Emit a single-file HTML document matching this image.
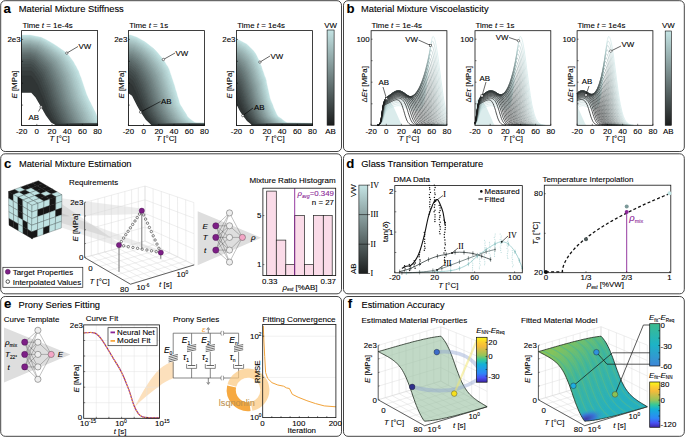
<!DOCTYPE html>
<html><head><meta charset="utf-8"><style>
html,body{margin:0;padding:0;background:#fff;}
svg{display:block;font-family:"Liberation Sans", sans-serif;}
</style></head><body>
<svg width="685" height="437" viewBox="0 0 685 437">
<rect width="685" height="437" fill="#fff"/>
<rect x="0.7" y="0.7" width="340.8" height="150.8" rx="4.5" ry="4.5" fill="none" stroke="#454545" stroke-width="1"/>
<rect x="343.5" y="0.7" width="340.8" height="150.8" rx="4.5" ry="4.5" fill="none" stroke="#454545" stroke-width="1"/>
<rect x="0.7" y="153.8" width="340.8" height="140" rx="4.5" ry="4.5" fill="none" stroke="#454545" stroke-width="1"/>
<rect x="343.5" y="153.8" width="340.8" height="140" rx="4.5" ry="4.5" fill="none" stroke="#454545" stroke-width="1"/>
<rect x="0.7" y="296.5" width="340.8" height="139.8" rx="4.5" ry="4.5" fill="none" stroke="#454545" stroke-width="1"/>
<rect x="343.5" y="296.5" width="340.8" height="139.8" rx="4.5" ry="4.5" fill="none" stroke="#454545" stroke-width="1"/>
<text x="3.6" y="12.7" font-size="13.2" font-weight="bold" stroke="#000" stroke-width="0.1">a</text>
<text x="18.8" y="11.8" font-size="9" textLength="105" lengthAdjust="spacingAndGlyphs" stroke="#000" stroke-width="0.1">Material Mixture Stiffness</text>
<defs><clipPath id="sc1"><rect x="21.6" y="30.6" width="76" height="94.8"/></clipPath></defs>
<g clip-path="url(#sc1)">
<path d="M19.6 35 L29.8 35 L41.1 37.3 L45.8 39.5 L49.8 41.8 L53.6 44 L57.1 46.3 L60.3 48.6 L63.6 50.8 L66.6 53.1 L68.6 55.3 L70.3 57.6 L72.1 59.9 L73.6 62.1 L74.8 64.4 L76.1 66.6 L77.3 68.9 L78.6 71.2 L79.3 73.4 L80.1 75.7 L81.1 77.9 L81.8 80.2 L82.6 82.5 L83.3 84.7 L84.1 87 L84.8 89.2 L85.6 91.5 L86.3 93.8 L87.3 96 L88.3 98.3 L89.3 100.5 L90.6 102.8 L91.6 105.1 L92.8 107.3 L93.8 109.6 L95.1 111.8 L96.1 114.1 L97.1 116.4 L98.1 118.6 L99.3 120.9 L100.3 123.1 L297.6 125.4 L19.6 126.4 Z" fill="#c4e4e4" stroke="#c4e4e4" stroke-width="0.3"/>
<path d="M19.6 35.9 L29.9 35.9 L40.7 38.1 L45.3 40.4 L49.2 42.6 L52.8 44.8 L56.2 47.1 L59.4 49.3 L62.5 51.6 L65.4 53.8 L67.3 56 L69 58.3 L70.7 60.5 L72.2 62.7 L73.4 65 L74.6 67.2 L75.8 69.5 L77.1 71.7 L77.8 73.9 L78.5 76.2 L79.5 78.4 L80.3 80.6 L81 82.9 L81.7 85.1 L82.5 87.4 L83.2 89.6 L84 91.8 L84.7 94.1 L85.7 96.3 L86.6 98.5 L87.6 100.8 L88.9 103 L89.8 105.3 L91.1 107.5 L92 109.7 L93.3 112 L94.3 114.2 L95.2 116.4 L96.2 118.7 L97.5 120.9 L98.5 123.2 L297.6 125.4 L19.6 126.4 Z" fill="#bedddd" stroke="#bedddd" stroke-width="0.3"/>
<path d="M19.6 36.8 L29.9 36.8 L40.4 39 L44.8 41.2 L48.5 43.4 L52 45.7 L55.3 47.9 L58.4 50.1 L61.4 52.3 L64.2 54.5 L66.1 56.7 L67.7 59 L69.4 61.2 L70.8 63.4 L72 65.6 L73.2 67.8 L74.3 70 L75.5 72.2 L76.3 74.5 L77 76.7 L78 78.9 L78.7 81.1 L79.4 83.3 L80.1 85.5 L80.9 87.7 L81.6 90 L82.3 92.2 L83 94.4 L84 96.6 L84.9 98.8 L85.9 101 L87.1 103.3 L88.1 105.5 L89.3 107.7 L90.2 109.9 L91.5 112.1 L92.4 114.3 L93.4 116.5 L94.4 118.8 L95.7 121 L96.7 123.2 L297.6 125.4 L19.6 126.4 Z" fill="#b8d5d5" stroke="#b8d5d5" stroke-width="0.3"/>
<path d="M19.6 37.7 L30 37.7 L40 39.9 L44.3 42.1 L47.9 44.3 L51.3 46.5 L54.4 48.7 L57.4 50.9 L60.3 53.1 L63 55.3 L64.8 57.5 L66.4 59.7 L68 61.8 L69.4 64 L70.5 66.2 L71.7 68.4 L72.8 70.6 L74 72.8 L74.7 75 L75.4 77.2 L76.4 79.4 L77.1 81.6 L77.8 83.8 L78.5 86 L79.2 88.1 L80 90.3 L80.7 92.5 L81.4 94.7 L82.3 96.9 L83.2 99.1 L84.2 101.3 L85.4 103.5 L86.3 105.7 L87.5 107.9 L88.4 110.1 L89.6 112.3 L90.6 114.4 L91.5 116.6 L92.5 118.8 L93.8 121 L94.9 123.2 L297.6 125.4 L19.6 126.4 Z" fill="#b1cece" stroke="#b1cece" stroke-width="0.3"/>
<path d="M19.6 38.7 L30 38.7 L39.6 40.9 L43.7 43 L47.2 45.2 L50.5 47.4 L53.5 49.5 L56.4 51.7 L59.2 53.9 L61.8 56 L63.6 58.2 L65.1 60.4 L66.6 62.5 L68 64.7 L69.1 66.9 L70.2 69 L71.3 71.2 L72.5 73.4 L73.2 75.6 L73.9 77.7 L74.8 79.9 L75.5 82.1 L76.2 84.2 L76.9 86.4 L77.6 88.6 L78.3 90.7 L79 92.9 L79.7 95.1 L80.6 97.2 L81.5 99.4 L82.5 101.6 L83.6 103.7 L84.6 105.9 L85.7 108.1 L86.6 110.2 L87.8 112.4 L88.7 114.6 L89.7 116.7 L90.7 118.9 L92 121.1 L93 123.2 L297.6 125.4 L19.6 126.4 Z" fill="#abc7c7" stroke="#abc7c7" stroke-width="0.3"/>
<path d="M19.6 39.7 L30.1 39.7 L39.2 41.8 L43.2 44 L46.5 46.1 L49.7 48.3 L52.6 50.4 L55.4 52.6 L58.1 54.7 L60.6 56.8 L62.3 59 L63.8 61.1 L65.2 63.3 L66.5 65.4 L67.6 67.6 L68.8 69.7 L69.8 71.8 L70.9 74 L71.6 76.1 L72.3 78.3 L73.2 80.4 L73.9 82.5 L74.6 84.7 L75.3 86.8 L76 89 L76.7 91.1 L77.4 93.3 L78 95.4 L78.9 97.5 L79.8 99.7 L80.8 101.8 L81.9 104 L82.8 106.1 L83.9 108.3 L84.8 110.4 L86 112.5 L86.9 114.7 L87.8 116.8 L88.8 119 L90.2 121.1 L91.2 123.3 L297.6 125.4 L19.6 126.4 Z" fill="#a5c0c0" stroke="#a5c0c0" stroke-width="0.3"/>
<path d="M19.6 40.7 L30.1 40.7 L38.9 42.8 L42.7 45 L45.9 47.1 L48.9 49.2 L51.8 51.3 L54.4 53.4 L57 55.5 L59.4 57.7 L61 59.8 L62.5 61.9 L63.9 64 L65.1 66.1 L66.2 68.2 L67.3 70.4 L68.3 72.5 L69.4 74.6 L70.1 76.7 L70.8 78.8 L71.7 80.9 L72.3 83.1 L73 85.2 L73.7 87.3 L74.4 89.4 L75.1 91.5 L75.8 93.6 L76.4 95.8 L77.3 97.9 L78.1 100 L79.1 102.1 L80.2 104.2 L81 106.3 L82.2 108.5 L83 110.6 L84.2 112.7 L85.1 114.8 L86 116.9 L87 119 L88.3 121.2 L89.4 123.3 L297.6 125.4 L19.6 126.4 Z" fill="#9fb8b8" stroke="#9fb8b8" stroke-width="0.3"/>
<path d="M19.6 41.8 L30.2 41.8 L38.5 43.9 L42.1 46 L45.2 48.1 L48.1 50.1 L50.9 52.2 L53.4 54.3 L55.9 56.4 L58.2 58.5 L59.8 60.6 L61.2 62.7 L62.5 64.8 L63.7 66.9 L64.8 69 L65.8 71 L66.8 73.1 L67.9 75.2 L68.6 77.3 L69.2 79.4 L70.1 81.5 L70.7 83.6 L71.4 85.7 L72.1 87.8 L72.8 89.9 L73.4 92 L74.1 94 L74.7 96.1 L75.6 98.2 L76.4 100.3 L77.4 102.4 L78.4 104.5 L79.3 106.6 L80.4 108.7 L81.2 110.8 L82.4 112.9 L83.2 114.9 L84.1 117 L85.1 119.1 L86.5 121.2 L87.5 123.3 L297.6 125.4 L19.6 126.4 Z" fill="#99b1b1" stroke="#99b1b1" stroke-width="0.3"/>
<path d="M19.6 42.9 L30.2 42.9 L38.1 44.9 L41.6 47 L44.6 49.1 L47.4 51.1 L50 53.2 L52.4 55.3 L54.8 57.3 L57 59.4 L58.5 61.4 L59.9 63.5 L61.1 65.6 L62.3 67.6 L63.3 69.7 L64.3 71.8 L65.3 73.8 L66.4 75.9 L67 78 L67.7 80 L68.5 82.1 L69.1 84.1 L69.8 86.2 L70.5 88.3 L71.1 90.3 L71.8 92.4 L72.5 94.5 L73.1 96.5 L73.9 98.6 L74.8 100.6 L75.7 102.7 L76.7 104.8 L77.5 106.8 L78.6 108.9 L79.4 111 L80.5 113 L81.4 115.1 L82.3 117.1 L83.3 119.2 L84.6 121.3 L85.7 123.3 L297.6 125.4 L19.6 126.4 Z" fill="#93aaaa" stroke="#93aaaa" stroke-width="0.3"/>
<path d="M19.6 44 L30.3 44 L37.8 46.1 L41.1 48.1 L43.9 50.1 L46.6 52.2 L49.1 54.2 L51.4 56.2 L53.7 58.3 L55.8 60.3 L57.3 62.3 L58.6 64.4 L59.8 66.4 L60.9 68.4 L61.9 70.5 L62.9 72.5 L63.8 74.5 L64.8 76.6 L65.5 78.6 L66.1 80.6 L67 82.7 L67.5 84.7 L68.2 86.7 L68.9 88.8 L69.5 90.8 L70.2 92.8 L70.8 94.9 L71.4 96.9 L72.2 99 L73 101 L74 103 L74.9 105.1 L75.8 107.1 L76.8 109.1 L77.6 111.2 L78.7 113.2 L79.5 115.2 L80.4 117.3 L81.4 119.3 L82.8 121.3 L83.9 123.4 L297.6 125.4 L19.6 126.4 Z" fill="#8ca2a2" stroke="#8ca2a2" stroke-width="0.3"/>
<path d="M19.6 45.2 L30.3 45.2 L37.4 47.2 L40.5 49.2 L43.2 51.2 L45.8 53.2 L48.2 55.2 L50.4 57.2 L52.6 59.2 L54.6 61.2 L56 63.2 L57.2 65.2 L58.4 67.3 L59.5 69.3 L60.4 71.3 L61.4 73.3 L62.3 75.3 L63.3 77.3 L63.9 79.3 L64.6 81.3 L65.4 83.3 L65.9 85.3 L66.6 87.3 L67.2 89.3 L67.9 91.3 L68.5 93.3 L69.2 95.3 L69.8 97.3 L70.5 99.3 L71.3 101.3 L72.2 103.3 L73.2 105.3 L74 107.4 L75 109.4 L75.8 111.4 L76.9 113.4 L77.7 115.4 L78.6 117.4 L79.6 119.4 L80.9 121.4 L82 123.4 L297.6 125.4 L19.6 126.4 Z" fill="#869b9b" stroke="#869b9b" stroke-width="0.3"/>
<path d="M19.6 46.4 L30.4 46.4 L37 48.4 L40 50.4 L42.6 52.4 L45 54.3 L47.3 56.3 L49.5 58.3 L51.5 60.2 L53.4 62.2 L54.7 64.2 L55.9 66.2 L57 68.1 L58.1 70.1 L59 72.1 L59.9 74.1 L60.8 76 L61.8 78 L62.4 80 L63 82 L63.8 83.9 L64.4 85.9 L65 87.9 L65.6 89.9 L66.3 91.8 L66.9 93.8 L67.6 95.8 L68.1 97.8 L68.9 99.7 L69.6 101.7 L70.5 103.7 L71.5 105.7 L72.2 107.6 L73.3 109.6 L74 111.6 L75.1 113.6 L75.9 115.5 L76.8 117.5 L77.8 119.5 L79.1 121.5 L80.2 123.4 L297.6 125.4 L19.6 126.4 Z" fill="#809494" stroke="#809494" stroke-width="0.3"/>
<path d="M19.6 47.7 L30.4 47.7 L36.7 49.7 L39.5 51.6 L41.9 53.5 L44.2 55.5 L46.4 57.4 L48.5 59.4 L50.4 61.3 L52.2 63.3 L53.5 65.2 L54.6 67.1 L55.7 69.1 L56.7 71 L57.6 73 L58.5 74.9 L59.3 76.8 L60.2 78.8 L60.9 80.7 L61.5 82.7 L62.3 84.6 L62.8 86.6 L63.4 88.5 L64 90.4 L64.7 92.4 L65.3 94.3 L65.9 96.3 L66.4 98.2 L67.2 100.2 L67.9 102.1 L68.8 104 L69.7 106 L70.5 107.9 L71.5 109.9 L72.2 111.8 L73.3 113.7 L74 115.7 L74.9 117.6 L75.9 119.6 L77.3 121.5 L78.4 123.5 L297.6 125.4 L19.6 126.4 Z" fill="#7a8d8d" stroke="#7a8d8d" stroke-width="0.3"/>
<path d="M19.6 49.1 L30.5 49.1 L36.3 51 L39 52.9 L41.3 54.8 L43.5 56.7 L45.5 58.6 L47.5 60.5 L49.3 62.4 L51 64.3 L52.2 66.2 L53.3 68.2 L54.3 70.1 L55.3 72 L56.1 73.9 L57 75.8 L57.8 77.7 L58.7 79.6 L59.3 81.5 L59.9 83.4 L60.7 85.3 L61.2 87.2 L61.8 89.1 L62.4 91.1 L63 93 L63.7 94.9 L64.3 96.8 L64.8 98.7 L65.5 100.6 L66.2 102.5 L67.1 104.4 L68 106.3 L68.7 108.2 L69.7 110.1 L70.4 112 L71.4 114 L72.2 115.9 L73 117.8 L74 119.7 L75.4 121.6 L76.6 123.5 L297.6 125.4 L19.6 126.4 Z" fill="#748585" stroke="#748585" stroke-width="0.3"/>
<path d="M19.6 50.5 L30.5 50.5 L35.9 52.4 L38.4 54.2 L40.6 56.1 L42.7 58 L44.6 59.9 L46.5 61.7 L48.2 63.6 L49.8 65.5 L51 67.3 L52 69.2 L52.9 71.1 L53.9 73 L54.7 74.8 L55.5 76.7 L56.3 78.6 L57.2 80.5 L57.8 82.3 L58.4 84.2 L59.1 86.1 L59.6 87.9 L60.2 89.8 L60.8 91.7 L61.4 93.6 L62 95.4 L62.6 97.3 L63.1 99.2 L63.8 101.1 L64.5 102.9 L65.4 104.8 L66.2 106.7 L67 108.5 L67.9 110.4 L68.6 112.3 L69.6 114.2 L70.3 116 L71.2 117.9 L72.2 119.8 L73.6 121.7 L74.7 123.5 L297.6 125.4 L19.6 126.4 Z" fill="#6d7e7e" stroke="#6d7e7e" stroke-width="0.3"/>
<path d="M19.6 52 L30.6 52 L35.5 53.8 L37.9 55.7 L39.9 57.5 L41.9 59.3 L43.7 61.2 L45.5 63 L47.1 64.8 L48.6 66.7 L49.7 68.5 L50.7 70.3 L51.5 72.2 L52.4 74 L53.2 75.9 L54 77.7 L54.8 79.5 L55.6 81.4 L56.2 83.2 L56.8 85 L57.5 86.9 L58 88.7 L58.6 90.5 L59.2 92.4 L59.8 94.2 L60.4 96 L61 97.9 L61.4 99.7 L62.1 101.5 L62.8 103.4 L63.7 105.2 L64.5 107 L65.2 108.9 L66.1 110.7 L66.8 112.6 L67.8 114.4 L68.5 116.2 L69.3 118.1 L70.3 119.9 L71.8 121.7 L72.9 123.6 L297.6 125.4 L19.6 126.4 Z" fill="#677777" stroke="#677777" stroke-width="0.3"/>
<path d="M19.6 53.6 L30.6 53.6 L35.2 55.4 L37.4 57.2 L39.3 59 L41.1 60.8 L42.9 62.6 L44.5 64.4 L46 66.2 L47.4 68 L48.4 69.8 L49.4 71.5 L50.2 73.3 L51 75.1 L51.8 76.9 L52.6 78.7 L53.3 80.5 L54.1 82.3 L54.7 84.1 L55.3 85.9 L56 87.7 L56.4 89.5 L57 91.3 L57.6 93.1 L58.2 94.9 L58.8 96.7 L59.4 98.5 L59.8 100.3 L60.5 102.1 L61.1 103.9 L62 105.7 L62.8 107.4 L63.4 109.2 L64.4 111 L65 112.8 L66 114.6 L66.7 116.4 L67.5 118.2 L68.5 120 L69.9 121.8 L71.1 123.6 L297.6 125.4 L19.6 126.4 Z" fill="#616f6f" stroke="#616f6f" stroke-width="0.3"/>
<path d="M19.6 55.3 L30.7 55.3 L34.8 57.1 L36.8 58.8 L38.6 60.6 L40.3 62.3 L42 64.1 L43.5 65.8 L44.9 67.6 L46.2 69.3 L47.2 71.1 L48.1 72.8 L48.8 74.6 L49.6 76.3 L50.4 78.1 L51.1 79.8 L51.8 81.6 L52.6 83.3 L53.2 85.1 L53.7 86.9 L54.4 88.6 L54.8 90.4 L55.4 92.1 L56 93.9 L56.6 95.6 L57.1 97.4 L57.7 99.1 L58.1 100.9 L58.8 102.6 L59.4 104.4 L60.3 106.1 L61 107.9 L61.7 109.6 L62.6 111.4 L63.2 113.1 L64.2 114.9 L64.8 116.6 L65.6 118.4 L66.6 120.1 L68.1 121.9 L69.2 123.6 L297.6 125.4 L19.6 126.4 Z" fill="#5b6868" stroke="#5b6868" stroke-width="0.3"/>
<path d="M19.6 57.2 L30.7 57.2 L34.4 58.9 L36.3 60.6 L38 62.3 L39.6 64 L41.1 65.7 L42.5 67.4 L43.8 69.1 L45 70.8 L45.9 72.5 L46.8 74.2 L47.4 75.9 L48.2 77.6 L48.9 79.3 L49.6 81 L50.3 82.8 L51.1 84.5 L51.6 86.2 L52.2 87.9 L52.8 89.6 L53.2 91.3 L53.8 93 L54.4 94.7 L54.9 96.4 L55.5 98.1 L56.1 99.8 L56.5 101.5 L57.1 103.2 L57.7 104.9 L58.6 106.6 L59.3 108.3 L59.9 110 L60.8 111.8 L61.4 113.5 L62.3 115.2 L63 116.9 L63.8 118.6 L64.8 120.3 L66.2 122 L67.4 123.7 L297.6 125.4 L19.6 126.4 Z" fill="#556161" stroke="#556161" stroke-width="0.3"/>
<path d="M19.6 59.2 L30.8 59.2 L34.1 60.8 L35.8 62.5 L37.3 64.2 L38.8 65.8 L40.2 67.5 L41.5 69.1 L42.7 70.8 L43.8 72.4 L44.7 74.1 L45.5 75.7 L46.1 77.4 L46.8 79.1 L47.5 80.7 L48.2 82.4 L48.8 84 L49.5 85.7 L50.1 87.3 L50.6 89 L51.3 90.6 L51.6 92.3 L52.2 94 L52.8 95.6 L53.3 97.3 L53.9 98.9 L54.4 100.6 L54.8 102.2 L55.4 103.9 L56 105.5 L56.9 107.2 L57.5 108.8 L58.2 110.5 L59 112.2 L59.6 113.8 L60.5 115.5 L61.1 117.1 L61.9 118.8 L62.9 120.4 L64.4 122.1 L65.6 123.7 L297.6 125.4 L19.6 126.4 Z" fill="#4f5a5a" stroke="#4f5a5a" stroke-width="0.3"/>
<path d="M19.6 61.4 L30.8 61.4 L33.7 63 L35.2 64.6 L36.6 66.2 L38 67.8 L39.3 69.4 L40.5 71 L41.6 72.6 L42.6 74.2 L43.4 75.8 L44.1 77.4 L44.7 79 L45.4 80.6 L46 82.2 L46.7 83.8 L47.3 85.4 L48 87 L48.5 88.6 L49.1 90.2 L49.7 91.8 L50 93.4 L50.6 95 L51.1 96.6 L51.7 98.2 L52.2 99.8 L52.8 101.4 L53.1 103 L53.7 104.6 L54.3 106.2 L55.1 107.8 L55.8 109.4 L56.4 111 L57.2 112.6 L57.8 114.2 L58.7 115.8 L59.3 117.4 L60.1 119 L61.1 120.6 L62.5 122.2 L63.7 123.8 L297.6 125.4 L19.6 126.4 Z" fill="#485252" stroke="#485252" stroke-width="0.3"/>
<path d="M19.6 64 L30.9 64 L33.3 65.5 L34.7 67.1 L36 68.6 L37.2 70.1 L38.4 71.7 L39.6 73.2 L40.5 74.7 L41.4 76.3 L42.1 77.8 L42.8 79.3 L43.3 80.9 L44 82.4 L44.6 84 L45.2 85.5 L45.8 87 L46.5 88.6 L47 90.1 L47.5 91.6 L48.1 93.2 L48.5 94.7 L49 96.2 L49.5 97.8 L50.1 99.3 L50.6 100.8 L51.2 102.4 L51.5 103.9 L52.1 105.4 L52.6 107 L53.4 108.5 L54.1 110 L54.6 111.6 L55.5 113.1 L56 114.7 L56.9 116.2 L57.5 117.7 L58.2 119.3 L59.2 120.8 L60.7 122.3 L61.9 123.9 L297.6 125.4 L19.6 126.4 Z" fill="#424b4b" stroke="#424b4b" stroke-width="0.3"/>
<path d="M19.6 67 L30.9 67 L33 68.4 L34.2 69.9 L35.3 71.4 L36.4 72.8 L37.5 74.3 L38.6 75.7 L39.4 77.2 L40.2 78.7 L40.9 80.1 L41.5 81.6 L42 83 L42.6 84.5 L43.2 86 L43.8 87.4 L44.3 88.9 L44.9 90.3 L45.5 91.8 L46 93.3 L46.6 94.7 L46.9 96.2 L47.4 97.6 L47.9 99.1 L48.5 100.6 L49 102 L49.5 103.5 L49.8 105 L50.4 106.4 L50.9 107.9 L51.7 109.3 L52.3 110.8 L52.9 112.3 L53.7 113.7 L54.2 115.2 L55.1 116.6 L55.6 118.1 L56.4 119.6 L57.4 121 L58.9 122.5 L60.1 123.9 L297.6 125.4 L19.6 126.4 Z" fill="#3c4444" stroke="#3c4444" stroke-width="0.3"/>
<path d="M19.6 70.7 L31 70.7 L32.6 72 L33.7 73.4 L34.7 74.8 L35.7 76.1 L36.6 77.5 L37.6 78.9 L38.3 80.2 L39 81.6 L39.6 83 L40.2 84.3 L40.6 85.7 L41.2 87.1 L41.7 88.5 L42.3 89.8 L42.8 91.2 L43.4 92.6 L43.9 93.9 L44.4 95.3 L45 96.7 L45.3 98 L45.8 99.4 L46.3 100.8 L46.8 102.1 L47.4 103.5 L47.9 104.9 L48.2 106.2 L48.7 107.6 L49.2 109 L50 110.3 L50.6 111.7 L51.1 113.1 L51.9 114.5 L52.4 115.8 L53.2 117.2 L53.8 118.6 L54.5 119.9 L55.5 121.3 L57 122.7 L58.3 124 L297.6 125.4 L19.6 126.4 Z" fill="#363c3c" stroke="#363c3c" stroke-width="0.3"/>
<path d="M19.6 75.8 L31 75.8 L32.2 77 L33.1 78.3 L34 79.5 L34.9 80.8 L35.7 82 L36.6 83.2 L37.2 84.5 L37.8 85.7 L38.4 87 L38.9 88.2 L39.2 89.4 L39.8 90.7 L40.3 91.9 L40.8 93.2 L41.3 94.4 L41.9 95.6 L42.4 96.9 L42.9 98.1 L43.4 99.4 L43.7 100.6 L44.2 101.8 L44.7 103.1 L45.2 104.3 L45.7 105.6 L46.2 106.8 L46.5 108 L47 109.3 L47.5 110.5 L48.3 111.8 L48.8 113 L49.4 114.2 L50.1 115.5 L50.6 116.7 L51.4 118 L51.9 119.2 L52.7 120.4 L53.7 121.7 L55.2 122.9 L56.4 124.2 L297.6 125.4 L19.6 126.4 Z" fill="#303535" stroke="#303535" stroke-width="0.3"/>
<path d="M19.6 92.8 L31.1 92.8 L31.8 93.6 L32.6 94.4 L33.3 95.2 L34.1 96.1 L34.8 96.9 L35.6 97.7 L36.1 98.5 L36.6 99.3 L37.1 100.1 L37.6 101 L37.8 101.8 L38.3 102.6 L38.8 103.4 L39.3 104.2 L39.8 105 L40.3 105.8 L40.8 106.7 L41.3 107.5 L41.8 108.3 L42.1 109.1 L42.6 109.9 L43.1 110.7 L43.6 111.5 L44.1 112.4 L44.6 113.2 L44.8 114 L45.3 114.8 L45.8 115.6 L46.6 116.4 L47.1 117.2 L47.6 118.1 L48.3 118.9 L48.8 119.7 L49.6 120.5 L50.1 121.3 L50.8 122.1 L51.8 123 L53.3 123.8 L54.6 124.6 L297.6 125.4 L19.6 126.4 Z" fill="#292e2e" stroke="#292e2e" stroke-width="0.3"/>
<path d="M19.6 92.8 L21.6 92.8 L31.3 92.8 L35.6 97.5 L41.1 106.9 L45.9 115.5 L51.1 122.4 L56.2 125.4 L102.6 126.4 L19.6 126.4 Z" fill="#fff"/>
</g>
<text x="22.4" y="27.7" font-size="7.9" stroke="#000" stroke-width="0.1">Time <tspan font-style="italic">t</tspan> = 1e-4s</text>
<line x1="21.6" y1="125.4" x2="21.6" y2="123.9" stroke="#000" stroke-width="0.5"/>
<text x="21.6" y="134" font-size="7.9" text-anchor="middle" stroke="#000" stroke-width="0.1">-20</text>
<line x1="36.8" y1="125.4" x2="36.8" y2="123.9" stroke="#000" stroke-width="0.5"/>
<text x="36.8" y="134" font-size="7.9" text-anchor="middle" stroke="#000" stroke-width="0.1">0</text>
<line x1="52" y1="125.4" x2="52" y2="123.9" stroke="#000" stroke-width="0.5"/>
<text x="52" y="134" font-size="7.9" text-anchor="middle" stroke="#000" stroke-width="0.1">20</text>
<line x1="67.2" y1="125.4" x2="67.2" y2="123.9" stroke="#000" stroke-width="0.5"/>
<text x="67.2" y="134" font-size="7.9" text-anchor="middle" stroke="#000" stroke-width="0.1">40</text>
<line x1="82.4" y1="125.4" x2="82.4" y2="123.9" stroke="#000" stroke-width="0.5"/>
<text x="82.4" y="134" font-size="7.9" text-anchor="middle" stroke="#000" stroke-width="0.1">60</text>
<line x1="97.6" y1="125.4" x2="97.6" y2="123.9" stroke="#000" stroke-width="0.5"/>
<text x="97.6" y="134" font-size="7.9" text-anchor="middle" stroke="#000" stroke-width="0.1">80</text>
<line x1="21.6" y1="39.4" x2="23.1" y2="39.4" stroke="#000" stroke-width="0.5"/>
<line x1="21.6" y1="61.3" x2="23.1" y2="61.3" stroke="#000" stroke-width="0.5"/>
<line x1="21.6" y1="83.2" x2="23.1" y2="83.2" stroke="#000" stroke-width="0.5"/>
<line x1="21.6" y1="105.1" x2="23.1" y2="105.1" stroke="#000" stroke-width="0.5"/>
<text x="20.6" y="42" font-size="7.9" text-anchor="end" stroke="#000" stroke-width="0.1">2e3</text>
<text x="17.4" y="84.5" font-size="7.9" text-anchor="middle" transform="rotate(-90 17.4 84.5)" stroke="#000" stroke-width="0.1"><tspan font-style="italic">E</tspan> [MPa]</text>
<text x="59.6" y="141.3" font-size="7.9" text-anchor="middle" stroke="#000" stroke-width="0.1"><tspan font-style="italic">T</tspan> [°C]</text>
<rect x="21.6" y="30.6" width="76" height="94.8" fill="none" stroke="#111" stroke-width="0.8"/>
<line x1="66.8" y1="53.1" x2="78" y2="46.5" stroke="#000" stroke-width="0.6"/>
<circle cx="66.8" cy="53.1" r="1.2" fill="#fff" stroke="#111" stroke-width="0.5"/>
<text x="78.5" y="49" font-size="7.9" stroke="#000" stroke-width="0.1">VW</text>
<line x1="41.1" y1="106.9" x2="38.5" y2="111.5" stroke="#000" stroke-width="0.6"/>
<circle cx="41.1" cy="106.9" r="1.2" fill="#fff" stroke="#111" stroke-width="0.5"/>
<text x="28.5" y="119.5" font-size="7.9" stroke="#000" stroke-width="0.1">AB</text>
<defs><clipPath id="sc2"><rect x="128.4" y="30.6" width="76" height="94.8"/></clipPath></defs>
<g clip-path="url(#sc2)">
<path d="M126.4 35 L130.4 35 L136.9 37.3 L140.9 39.5 L144.9 41.8 L147.9 44 L150.7 46.3 L153.7 48.6 L155.9 50.8 L157.9 53.1 L159.7 55.3 L161.7 57.6 L163.4 59.9 L164.9 62.1 L166.2 64.4 L167.7 66.6 L168.9 68.9 L169.7 71.2 L170.4 73.4 L171.2 75.7 L171.9 77.9 L172.7 80.2 L173.4 82.5 L174.2 84.7 L174.9 87 L175.4 89.2 L176.2 91.5 L176.9 93.8 L177.4 96 L178.2 98.3 L178.9 100.5 L179.4 102.8 L180.4 105.1 L181.9 107.3 L183.2 109.6 L184.7 111.8 L186.2 114.1 L187.4 116.4 L189.4 118.6 L192.7 120.9 L195.9 123.1 L404.4 125.4 L126.4 126.4 Z" fill="#c4e4e4" stroke="#c4e4e4" stroke-width="0.3"/>
<path d="M126.4 36.2 L129.9 36.2 L136.6 38.4 L140.5 40.6 L144.3 42.9 L147.3 45.1 L149.9 47.3 L152.8 49.6 L155 51.8 L156.9 54 L158.6 56.2 L160.6 58.5 L162.3 60.7 L163.7 62.9 L164.9 65.2 L166.4 67.4 L167.6 69.6 L168.3 71.9 L169.1 74.1 L169.8 76.3 L170.6 78.6 L171.3 80.8 L172 83 L172.8 85.2 L173.5 87.5 L174 89.7 L174.8 91.9 L175.5 94.2 L176 96.4 L176.7 98.6 L177.5 100.9 L178 103.1 L179 105.3 L180.4 107.6 L181.7 109.8 L183.1 112 L184.6 114.2 L185.8 116.5 L187.8 118.7 L190.9 120.9 L194.1 123.2 L404.4 125.4 L126.4 126.4 Z" fill="#bedddd" stroke="#bedddd" stroke-width="0.3"/>
<path d="M126.4 37.4 L129.4 37.4 L136.3 39.6 L140 41.8 L143.8 44 L146.6 46.2 L149.2 48.4 L152 50.6 L154.1 52.8 L156 55 L157.6 57.2 L159.5 59.4 L161.1 61.6 L162.5 63.8 L163.7 66 L165.1 68.2 L166.3 70.4 L167 72.6 L167.8 74.8 L168.5 77 L169.2 79.2 L170 81.4 L170.7 83.6 L171.4 85.8 L172.1 88 L172.6 90.2 L173.4 92.4 L174.1 94.6 L174.6 96.8 L175.3 99 L176.1 101.2 L176.6 103.4 L177.5 105.6 L179 107.8 L180.2 110 L181.6 112.2 L183.1 114.4 L184.3 116.6 L186.2 118.8 L189.2 121 L192.3 123.2 L404.4 125.4 L126.4 126.4 Z" fill="#b8d5d5" stroke="#b8d5d5" stroke-width="0.3"/>
<path d="M126.4 38.6 L128.9 38.6 L135.9 40.7 L139.6 42.9 L143.2 45.1 L146 47.3 L148.5 49.4 L151.2 51.6 L153.2 53.8 L155 55.9 L156.6 58.1 L158.4 60.3 L160 62.5 L161.4 64.6 L162.5 66.8 L163.9 69 L165 71.1 L165.7 73.3 L166.4 75.5 L167.2 77.6 L167.9 79.8 L168.6 82 L169.3 84.2 L170 86.3 L170.7 88.5 L171.2 90.7 L172 92.8 L172.7 95 L173.2 97.2 L173.9 99.4 L174.6 101.5 L175.1 103.7 L176.1 105.9 L177.5 108 L178.7 110.2 L180.1 112.4 L181.5 114.5 L182.7 116.7 L184.6 118.9 L187.5 121.1 L190.5 123.2 L404.4 125.4 L126.4 126.4 Z" fill="#b1cece" stroke="#b1cece" stroke-width="0.3"/>
<path d="M126.4 39.8 L128.4 39.8 L135.6 42 L139.1 44.1 L142.7 46.2 L145.3 48.4 L147.7 50.5 L150.3 52.7 L152.3 54.8 L154 56.9 L155.6 59.1 L157.3 61.2 L158.8 63.4 L160.2 65.5 L161.3 67.6 L162.6 69.8 L163.7 71.9 L164.4 74.1 L165.1 76.2 L165.8 78.3 L166.5 80.5 L167.2 82.6 L167.9 84.8 L168.6 86.9 L169.3 89 L169.8 91.2 L170.6 93.3 L171.3 95.4 L171.8 97.6 L172.5 99.7 L173.2 101.9 L173.7 104 L174.6 106.1 L176 108.3 L177.2 110.4 L178.5 112.6 L179.9 114.7 L181.1 116.8 L183 119 L185.8 121.1 L188.7 123.3 L404.4 125.4 L126.4 126.4 Z" fill="#abc7c7" stroke="#abc7c7" stroke-width="0.3"/>
<path d="M126.4 41.1 L127.9 41.1 L135.3 43.2 L138.7 45.3 L142.2 47.4 L144.7 49.5 L147 51.6 L149.5 53.7 L151.3 55.9 L153.1 58 L154.6 60.1 L156.2 62.2 L157.7 64.3 L159 66.4 L160.1 68.5 L161.4 70.6 L162.5 72.7 L163.1 74.8 L163.8 76.9 L164.5 79 L165.2 81.1 L165.9 83.3 L166.6 85.4 L167.2 87.5 L168 89.6 L168.5 91.7 L169.2 93.8 L169.9 95.9 L170.4 98 L171.1 100.1 L171.8 102.2 L172.3 104.3 L173.2 106.4 L174.6 108.5 L175.7 110.6 L177 112.8 L178.4 114.9 L179.6 117 L181.4 119.1 L184.1 121.2 L186.9 123.3 L404.4 125.4 L126.4 126.4 Z" fill="#a5c0c0" stroke="#a5c0c0" stroke-width="0.3"/>
<path d="M126.4 42.4 L127.4 42.4 L135 44.5 L138.3 46.6 L141.6 48.6 L144.1 50.7 L146.3 52.8 L148.7 54.9 L150.4 56.9 L152.1 59 L153.5 61.1 L155.1 63.2 L156.6 65.2 L157.8 67.3 L158.8 69.4 L160.1 71.5 L161.2 73.5 L161.8 75.6 L162.5 77.7 L163.2 79.8 L163.9 81.8 L164.6 83.9 L165.2 86 L165.9 88.1 L166.6 90.1 L167.1 92.2 L167.8 94.3 L168.4 96.4 L169 98.4 L169.7 100.5 L170.4 102.6 L170.9 104.7 L171.8 106.7 L173.1 108.8 L174.2 110.9 L175.5 113 L176.8 115 L178 117.1 L179.7 119.2 L182.4 121.3 L185.1 123.3 L404.4 125.4 L126.4 126.4 Z" fill="#9fb8b8" stroke="#9fb8b8" stroke-width="0.3"/>
<path d="M126.4 43.8 L126.9 43.8 L134.7 45.8 L137.8 47.8 L141.1 49.9 L143.4 51.9 L145.5 54 L147.8 56 L149.5 58 L151.1 60.1 L152.5 62.1 L154 64.2 L155.4 66.2 L156.6 68.2 L157.6 70.3 L158.8 72.3 L159.9 74.4 L160.5 76.4 L161.2 78.5 L161.8 80.5 L162.5 82.5 L163.2 84.6 L163.8 86.6 L164.5 88.7 L165.2 90.7 L165.7 92.7 L166.3 94.8 L167 96.8 L167.6 98.9 L168.3 100.9 L169 102.9 L169.5 105 L170.3 107 L171.6 109.1 L172.7 111.1 L173.9 113.2 L175.3 115.2 L176.4 117.2 L178.1 119.3 L180.7 121.3 L183.3 123.4 L404.4 125.4 L126.4 126.4 Z" fill="#99b1b1" stroke="#99b1b1" stroke-width="0.3"/>
<path d="M126.4 45.1 L126.4 45.1 L134.3 47.1 L137.4 49.2 L140.5 51.2 L142.8 53.2 L144.8 55.2 L147 57.2 L148.6 59.2 L150.1 61.2 L151.5 63.2 L152.9 65.2 L154.3 67.2 L155.5 69.2 L156.4 71.2 L157.6 73.2 L158.6 75.2 L159.2 77.2 L159.8 79.2 L160.5 81.3 L161.2 83.3 L161.9 85.3 L162.4 87.3 L163.1 89.3 L163.8 91.3 L164.3 93.3 L165 95.3 L165.6 97.3 L166.2 99.3 L166.9 101.3 L167.5 103.3 L168 105.3 L168.9 107.3 L170.1 109.3 L171.2 111.4 L172.4 113.4 L173.8 115.4 L174.8 117.4 L176.5 119.4 L179 121.4 L181.5 123.4 L404.4 125.4 L126.4 126.4 Z" fill="#93aaaa" stroke="#93aaaa" stroke-width="0.3"/>
<path d="M126.4 46.6 L125.9 46.6 L134 48.5 L136.9 50.5 L140 52.5 L142.1 54.4 L144.1 56.4 L146.2 58.4 L147.7 60.4 L149.2 62.3 L150.5 64.3 L151.8 66.3 L153.1 68.2 L154.3 70.2 L155.2 72.2 L156.3 74.2 L157.3 76.1 L157.9 78.1 L158.5 80.1 L159.2 82 L159.8 84 L160.5 86 L161.1 88 L161.7 89.9 L162.4 91.9 L162.9 93.9 L163.6 95.8 L164.2 97.8 L164.8 99.8 L165.5 101.7 L166.1 103.7 L166.6 105.7 L167.4 107.7 L168.7 109.6 L169.7 111.6 L170.9 113.6 L172.2 115.5 L173.3 117.5 L174.9 119.5 L177.3 121.5 L179.7 123.4 L404.4 125.4 L126.4 126.4 Z" fill="#8ca2a2" stroke="#8ca2a2" stroke-width="0.3"/>
<path d="M126.4 48 L125.4 48 L133.7 50 L136.5 51.9 L139.4 53.8 L141.5 55.8 L143.3 57.7 L145.3 59.6 L146.8 61.6 L148.2 63.5 L149.5 65.4 L150.8 67.4 L152 69.3 L153.1 71.2 L154 73.2 L155.1 75.1 L156 77 L156.6 79 L157.2 80.9 L157.8 82.8 L158.5 84.8 L159.2 86.7 L159.7 88.6 L160.3 90.6 L161 92.5 L161.5 94.5 L162.2 96.4 L162.8 98.3 L163.4 100.3 L164.1 102.2 L164.7 104.1 L165.2 106.1 L166 108 L167.2 109.9 L168.2 111.9 L169.3 113.8 L170.7 115.7 L171.7 117.7 L173.3 119.6 L175.6 121.5 L177.9 123.5 L404.4 125.4 L126.4 126.4 Z" fill="#869b9b" stroke="#869b9b" stroke-width="0.3"/>
<path d="M126.4 49.5 L124.9 49.5 L133.4 51.4 L136.1 53.3 L138.8 55.2 L140.9 57.1 L142.6 59 L144.5 60.9 L145.9 62.8 L147.2 64.7 L148.4 66.6 L149.7 68.5 L150.9 70.4 L151.9 72.3 L152.7 74.2 L153.8 76.1 L154.7 78 L155.2 79.9 L155.9 81.8 L156.5 83.7 L157.2 85.6 L157.8 87.5 L158.3 89.4 L159 91.3 L159.6 93.2 L160.1 95.1 L160.8 97 L161.4 98.9 L162 100.7 L162.6 102.6 L163.3 104.5 L163.8 106.4 L164.6 108.3 L165.7 110.2 L166.7 112.1 L167.8 114 L169.1 115.9 L170.1 117.8 L171.7 119.7 L173.8 121.6 L176.1 123.5 L404.4 125.4 L126.4 126.4 Z" fill="#809494" stroke="#809494" stroke-width="0.3"/>
<path d="M126.4 51.1 L124.4 51.1 L133.1 53 L135.6 54.8 L138.3 56.7 L140.2 58.5 L141.9 60.4 L143.7 62.3 L145 64.1 L146.3 66 L147.4 67.8 L148.6 69.7 L149.7 71.5 L150.7 73.4 L151.5 75.3 L152.5 77.1 L153.4 79 L153.9 80.8 L154.6 82.7 L155.2 84.5 L155.8 86.4 L156.5 88.3 L157 90.1 L157.6 92 L158.2 93.8 L158.7 95.7 L159.3 97.5 L160 99.4 L160.6 101.3 L161.2 103.1 L161.9 105 L162.4 106.8 L163.1 108.7 L164.3 110.5 L165.2 112.4 L166.3 114.3 L167.6 116.1 L168.6 118 L170.1 119.8 L172.1 121.7 L174.3 123.5 L404.4 125.4 L126.4 126.4 Z" fill="#7a8d8d" stroke="#7a8d8d" stroke-width="0.3"/>
<path d="M126.4 52.8 L123.9 52.8 L132.7 54.6 L135.2 56.4 L137.8 58.2 L139.6 60 L141.2 61.8 L142.9 63.7 L144.1 65.5 L145.3 67.3 L146.4 69.1 L147.5 70.9 L148.6 72.7 L149.6 74.5 L150.3 76.4 L151.3 78.2 L152.1 80 L152.6 81.8 L153.2 83.6 L153.9 85.4 L154.5 87.3 L155.1 89.1 L155.6 90.9 L156.2 92.7 L156.8 94.5 L157.3 96.3 L158 98.2 L158.6 100 L159.2 101.8 L159.8 103.6 L160.4 105.4 L160.9 107.2 L161.7 109.1 L162.8 110.9 L163.7 112.7 L164.8 114.5 L166 116.3 L167 118.1 L168.5 120 L170.4 121.8 L172.5 123.6 L404.4 125.4 L126.4 126.4 Z" fill="#748585" stroke="#748585" stroke-width="0.3"/>
<path d="M126.4 54.5 L123.4 54.5 L132.4 56.2 L134.7 58 L137.2 59.8 L138.9 61.6 L140.4 63.3 L142 65.1 L143.2 66.9 L144.3 68.6 L145.4 70.4 L146.4 72.2 L147.4 74 L148.4 75.7 L149.1 77.5 L150 79.3 L150.8 81.1 L151.3 82.8 L151.9 84.6 L152.5 86.4 L153.1 88.2 L153.8 89.9 L154.2 91.7 L154.8 93.5 L155.4 95.3 L155.9 97 L156.6 98.8 L157.2 100.6 L157.8 102.3 L158.4 104.1 L159 105.9 L159.5 107.7 L160.2 109.4 L161.3 111.2 L162.2 113 L163.2 114.8 L164.5 116.5 L165.4 118.3 L166.9 120.1 L168.7 121.9 L170.7 123.6 L404.4 125.4 L126.4 126.4 Z" fill="#6d7e7e" stroke="#6d7e7e" stroke-width="0.3"/>
<path d="M126.4 56.2 L122.9 56.2 L132.1 58 L134.3 59.7 L136.7 61.4 L138.3 63.2 L139.7 64.9 L141.2 66.6 L142.2 68.3 L143.3 70.1 L144.3 71.8 L145.3 73.5 L146.3 75.3 L147.2 77 L147.8 78.7 L148.8 80.4 L149.6 82.2 L150 83.9 L150.6 85.6 L151.2 87.4 L151.8 89.1 L152.4 90.8 L152.8 92.6 L153.5 94.3 L154.1 96 L154.6 97.7 L155.2 99.5 L155.8 101.2 L156.4 102.9 L157 104.7 L157.6 106.4 L158.1 108.1 L158.8 109.8 L159.8 111.6 L160.7 113.3 L161.7 115 L162.9 116.8 L163.8 118.5 L165.2 120.2 L167 121.9 L168.9 123.7 L404.4 125.4 L126.4 126.4 Z" fill="#677777" stroke="#677777" stroke-width="0.3"/>
<path d="M126.4 58.1 L122.4 58.1 L131.8 59.8 L133.9 61.5 L136.1 63.2 L137.7 64.8 L139 66.5 L140.4 68.2 L141.3 69.9 L142.4 71.6 L143.3 73.3 L144.2 74.9 L145.2 76.6 L146 78.3 L146.6 80 L147.5 81.7 L148.3 83.4 L148.7 85 L149.3 86.7 L149.9 88.4 L150.5 90.1 L151.1 91.8 L151.5 93.4 L152.1 95.1 L152.7 96.8 L153.2 98.5 L153.8 100.2 L154.3 101.9 L155 103.5 L155.6 105.2 L156.2 106.9 L156.7 108.6 L157.4 110.3 L158.4 111.9 L159.2 113.6 L160.2 115.3 L161.3 117 L162.3 118.7 L163.6 120.4 L165.3 122 L167.1 123.7 L404.4 125.4 L126.4 126.4 Z" fill="#616f6f" stroke="#616f6f" stroke-width="0.3"/>
<path d="M126.4 60.1 L121.9 60.1 L131.5 61.7 L133.4 63.4 L135.6 65 L137 66.6 L138.2 68.3 L139.5 69.9 L140.4 71.5 L141.4 73.2 L142.3 74.8 L143.1 76.4 L144 78.1 L144.8 79.7 L145.4 81.3 L146.2 83 L147 84.6 L147.4 86.2 L148 87.9 L148.5 89.5 L149.1 91.1 L149.7 92.8 L150.1 94.4 L150.7 96 L151.3 97.6 L151.8 99.3 L152.3 100.9 L152.9 102.5 L153.6 104.2 L154.2 105.8 L154.8 107.4 L155.3 109.1 L155.9 110.7 L156.9 112.3 L157.7 114 L158.6 115.6 L159.8 117.2 L160.7 118.9 L162 120.5 L163.6 122.1 L165.3 123.8 L404.4 125.4 L126.4 126.4 Z" fill="#5b6868" stroke="#5b6868" stroke-width="0.3"/>
<path d="M126.4 62.2 L121.4 62.2 L131.1 63.8 L133 65.4 L135 67 L136.4 68.5 L137.5 70.1 L138.7 71.7 L139.5 73.3 L140.4 74.9 L141.3 76.4 L142 78 L142.9 79.6 L143.7 81.2 L144.2 82.8 L145 84.3 L145.7 85.9 L146.1 87.5 L146.6 89.1 L147.2 90.6 L147.8 92.2 L148.3 93.8 L148.7 95.4 L149.3 97 L149.9 98.5 L150.4 100.1 L151 101.7 L151.5 103.3 L152.2 104.9 L152.8 106.4 L153.3 108 L153.8 109.6 L154.5 111.2 L155.4 112.8 L156.2 114.3 L157.1 115.9 L158.2 117.5 L159.1 119.1 L160.4 120.7 L161.9 122.2 L163.5 123.8 L404.4 125.4 L126.4 126.4 Z" fill="#556161" stroke="#556161" stroke-width="0.3"/>
<path d="M126.4 64.5 L120.9 64.5 L130.8 66 L132.5 67.5 L134.5 69.1 L135.7 70.6 L136.8 72.1 L137.9 73.6 L138.6 75.1 L139.5 76.7 L140.3 78.2 L140.9 79.7 L141.7 81.2 L142.5 82.8 L143 84.3 L143.7 85.8 L144.4 87.3 L144.8 88.9 L145.3 90.4 L145.9 91.9 L146.4 93.4 L147 94.9 L147.4 96.5 L147.9 98 L148.5 99.5 L149 101 L149.6 102.6 L150.1 104.1 L150.8 105.6 L151.4 107.1 L151.9 108.6 L152.4 110.2 L153 111.7 L154 113.2 L154.7 114.7 L155.6 116.3 L156.7 117.8 L157.6 119.3 L158.8 120.8 L160.2 122.4 L161.7 123.9 L404.4 125.4 L126.4 126.4 Z" fill="#4f5a5a" stroke="#4f5a5a" stroke-width="0.3"/>
<path d="M126.4 67 L120.4 67 L130.5 68.4 L132.1 69.9 L133.9 71.3 L135.1 72.8 L136.1 74.3 L137.1 75.7 L137.7 77.2 L138.5 78.6 L139.2 80.1 L139.8 81.6 L140.6 83 L141.3 84.5 L141.8 85.9 L142.5 87.4 L143.1 88.9 L143.5 90.3 L144 91.8 L144.6 93.3 L145.1 94.7 L145.7 96.2 L146 97.6 L146.6 99.1 L147.1 100.6 L147.6 102 L148.2 103.5 L148.7 104.9 L149.4 106.4 L150 107.9 L150.5 109.3 L151 110.8 L151.6 112.2 L152.5 113.7 L153.2 115.2 L154.1 116.6 L155.2 118.1 L156 119.6 L157.2 121 L158.5 122.5 L159.9 123.9 L404.4 125.4 L126.4 126.4 Z" fill="#485252" stroke="#485252" stroke-width="0.3"/>
<path d="M126.4 69.7 L119.9 69.7 L130.2 71.1 L131.7 72.5 L133.3 73.9 L134.5 75.3 L135.3 76.6 L136.2 78 L136.8 79.4 L137.5 80.8 L138.2 82.2 L138.8 83.6 L139.5 85 L140.1 86.4 L140.5 87.8 L141.2 89.2 L141.8 90.6 L142.1 92 L142.7 93.4 L143.2 94.8 L143.8 96.1 L144.3 97.5 L144.6 98.9 L145.2 100.3 L145.7 101.7 L146.2 103.1 L146.8 104.5 L147.3 105.9 L148 107.3 L148.5 108.7 L149.1 110.1 L149.6 111.5 L150.2 112.9 L151 114.3 L151.7 115.6 L152.5 117 L153.6 118.4 L154.4 119.8 L155.6 121.2 L156.7 122.6 L158.1 124 L404.4 125.4 L126.4 126.4 Z" fill="#424b4b" stroke="#424b4b" stroke-width="0.3"/>
<path d="M126.4 72.8 L119.4 72.8 L129.9 74.1 L131.2 75.4 L132.8 76.7 L133.8 78 L134.6 79.4 L135.4 80.7 L135.9 82 L136.6 83.3 L137.2 84.6 L137.7 85.9 L138.3 87.2 L138.9 88.6 L139.3 89.9 L139.9 91.2 L140.5 92.5 L140.8 93.8 L141.4 95.1 L141.9 96.5 L142.4 97.8 L143 99.1 L143.3 100.4 L143.8 101.7 L144.3 103 L144.8 104.4 L145.3 105.7 L145.9 107 L146.6 108.3 L147.1 109.6 L147.7 110.9 L148.2 112.2 L148.7 113.6 L149.6 114.9 L150.2 116.2 L151 117.5 L152.1 118.8 L152.9 120.1 L154 121.5 L155 122.8 L156.3 124.1 L404.4 125.4 L126.4 126.4 Z" fill="#3c4444" stroke="#3c4444" stroke-width="0.3"/>
<path d="M126.4 76.5 L118.9 76.5 L129.5 77.7 L130.8 78.9 L132.2 80.1 L133.2 81.3 L133.9 82.6 L134.6 83.8 L135 85 L135.6 86.2 L136.2 87.5 L136.6 88.7 L137.2 89.9 L137.8 91.1 L138.1 92.4 L138.7 93.6 L139.2 94.8 L139.5 96 L140 97.3 L140.6 98.5 L141.1 99.7 L141.6 100.9 L141.9 102.1 L142.4 103.4 L142.9 104.6 L143.4 105.8 L144 107 L144.5 108.3 L145.2 109.5 L145.7 110.7 L146.2 111.9 L146.7 113.2 L147.3 114.4 L148.1 115.6 L148.7 116.8 L149.5 118.1 L150.5 119.3 L151.3 120.5 L152.4 121.7 L153.3 123 L154.5 124.2 L404.4 125.4 L126.4 126.4 Z" fill="#363c3c" stroke="#363c3c" stroke-width="0.3"/>
<path d="M126.4 81.2 L118.4 81.2 L129.2 82.3 L130.3 83.4 L131.7 84.6 L132.5 85.7 L133.1 86.8 L133.7 87.9 L134.1 89 L134.6 90.1 L135.2 91.2 L135.5 92.3 L136 93.4 L136.6 94.5 L136.9 95.6 L137.4 96.7 L137.9 97.8 L138.2 98.9 L138.7 100 L139.2 101.1 L139.7 102.2 L140.2 103.3 L140.5 104.4 L141 105.5 L141.5 106.6 L142 107.7 L142.6 108.8 L143.1 109.9 L143.8 111 L144.3 112.2 L144.8 113.3 L145.3 114.4 L145.8 115.5 L146.6 116.6 L147.2 117.7 L147.9 118.8 L149 119.9 L149.7 121 L150.8 122.1 L151.6 123.2 L152.7 124.3 L404.4 125.4 L126.4 126.4 Z" fill="#303535" stroke="#303535" stroke-width="0.3"/>
<path d="M126.4 92.8 L117.9 92.8 L128.9 93.6 L129.9 94.4 L131.2 95.2 L131.9 96.1 L132.4 96.9 L132.9 97.7 L133.2 98.5 L133.7 99.3 L134.2 100.1 L134.4 101 L134.9 101.8 L135.4 102.6 L135.7 103.4 L136.2 104.2 L136.7 105 L136.9 105.8 L137.4 106.7 L137.9 107.5 L138.4 108.3 L138.9 109.1 L139.2 109.9 L139.7 110.7 L140.2 111.5 L140.7 112.4 L141.2 113.2 L141.7 114 L142.4 114.8 L142.9 115.6 L143.4 116.4 L143.9 117.2 L144.4 118.1 L145.2 118.9 L145.7 119.7 L146.4 120.5 L147.4 121.3 L148.2 122.1 L149.2 123 L149.9 123.8 L150.9 124.6 L404.4 125.4 L126.4 126.4 Z" fill="#292e2e" stroke="#292e2e" stroke-width="0.3"/>
<path d="M126.4 92.8 L128.4 93.2 L132 95.8 L137.2 106 L140.6 112.1 L145.8 119.8 L151.8 125.4 L209.4 126.4 L126.4 126.4 Z" fill="#fff"/>
</g>
<text x="129.2" y="27.7" font-size="7.9" stroke="#000" stroke-width="0.1">Time <tspan font-style="italic">t</tspan> = 1s</text>
<line x1="128.4" y1="125.4" x2="128.4" y2="123.9" stroke="#000" stroke-width="0.5"/>
<text x="128.4" y="134" font-size="7.9" text-anchor="middle" stroke="#000" stroke-width="0.1">-20</text>
<line x1="143.6" y1="125.4" x2="143.6" y2="123.9" stroke="#000" stroke-width="0.5"/>
<text x="143.6" y="134" font-size="7.9" text-anchor="middle" stroke="#000" stroke-width="0.1">0</text>
<line x1="158.8" y1="125.4" x2="158.8" y2="123.9" stroke="#000" stroke-width="0.5"/>
<text x="158.8" y="134" font-size="7.9" text-anchor="middle" stroke="#000" stroke-width="0.1">20</text>
<line x1="174" y1="125.4" x2="174" y2="123.9" stroke="#000" stroke-width="0.5"/>
<text x="174" y="134" font-size="7.9" text-anchor="middle" stroke="#000" stroke-width="0.1">40</text>
<line x1="189.2" y1="125.4" x2="189.2" y2="123.9" stroke="#000" stroke-width="0.5"/>
<text x="189.2" y="134" font-size="7.9" text-anchor="middle" stroke="#000" stroke-width="0.1">60</text>
<line x1="204.4" y1="125.4" x2="204.4" y2="123.9" stroke="#000" stroke-width="0.5"/>
<text x="204.4" y="134" font-size="7.9" text-anchor="middle" stroke="#000" stroke-width="0.1">80</text>
<line x1="128.4" y1="39.4" x2="129.9" y2="39.4" stroke="#000" stroke-width="0.5"/>
<line x1="128.4" y1="61.3" x2="129.9" y2="61.3" stroke="#000" stroke-width="0.5"/>
<line x1="128.4" y1="83.2" x2="129.9" y2="83.2" stroke="#000" stroke-width="0.5"/>
<line x1="128.4" y1="105.1" x2="129.9" y2="105.1" stroke="#000" stroke-width="0.5"/>
<text x="127.4" y="42" font-size="7.9" text-anchor="end" stroke="#000" stroke-width="0.1">2e3</text>
<text x="124.2" y="84.5" font-size="7.9" text-anchor="middle" transform="rotate(-90 124.2 84.5)" stroke="#000" stroke-width="0.1"><tspan font-style="italic">E</tspan> [MPa]</text>
<text x="166.4" y="141.3" font-size="7.9" text-anchor="middle" stroke="#000" stroke-width="0.1"><tspan font-style="italic">T</tspan> [°C]</text>
<rect x="128.4" y="30.6" width="76" height="94.8" fill="none" stroke="#111" stroke-width="0.8"/>
<line x1="163.4" y1="59.5" x2="175" y2="53" stroke="#000" stroke-width="0.6"/>
<circle cx="163.4" cy="59.5" r="1.2" fill="#fff" stroke="#111" stroke-width="0.5"/>
<text x="175.5" y="56" font-size="7.9" stroke="#000" stroke-width="0.1">VW</text>
<line x1="140.6" y1="112.1" x2="160.5" y2="101.5" stroke="#000" stroke-width="0.6"/>
<circle cx="140.6" cy="112.1" r="1.2" fill="#fff" stroke="#111" stroke-width="0.5"/>
<text x="161" y="104" font-size="7.9" stroke="#000" stroke-width="0.1">AB</text>
<defs><clipPath id="sc3"><rect x="236.5" y="30.6" width="76" height="94.8"/></clipPath></defs>
<g clip-path="url(#sc3)">
<path d="M234.5 35 L215 35 L230.8 37.3 L238 39.5 L242.2 41.8 L246.5 44 L249 46.3 L251.2 48.6 L253.5 50.8 L255.2 53.1 L256.5 55.3 L257.5 57.6 L258.8 59.9 L259.8 62.1 L260.5 64.4 L261.5 66.6 L262.2 68.9 L263 71.2 L263.8 73.4 L264.5 75.7 L265.5 77.9 L266.2 80.2 L266.5 82.5 L267 84.7 L267.5 87 L268 89.2 L268.5 91.5 L269 93.8 L269.5 96 L270 98.3 L270.8 100.5 L271.8 102.8 L272.8 105.1 L273.5 107.3 L274.5 109.6 L275.5 111.8 L276.5 114.1 L278 116.4 L281.2 118.6 L284.2 120.9 L287.2 123.1 L512.5 125.4 L234.5 126.4 Z" fill="#c4e4e4" stroke="#c4e4e4" stroke-width="0.3"/>
<path d="M234.5 36.2 L215.3 36.2 L230.5 38.4 L237.6 40.6 L241.7 42.9 L245.8 45.1 L248.3 47.3 L250.5 49.6 L252.7 51.8 L254.3 54 L255.6 56.2 L256.6 58.5 L257.8 60.7 L258.8 62.9 L259.5 65.2 L260.5 67.4 L261.2 69.6 L262 71.9 L262.7 74.1 L263.4 76.3 L264.4 78.6 L265.1 80.8 L265.4 83 L265.9 85.2 L266.4 87.5 L266.9 89.7 L267.4 91.9 L267.9 94.2 L268.4 96.4 L268.9 98.6 L269.6 100.9 L270.6 103.1 L271.6 105.3 L272.4 107.6 L273.4 109.8 L274.3 112 L275.3 114.2 L276.8 116.5 L280 118.7 L282.9 120.9 L285.8 123.2 L512.5 125.4 L234.5 126.4 Z" fill="#bedddd" stroke="#bedddd" stroke-width="0.3"/>
<path d="M234.5 37.4 L215.6 37.4 L230.3 39.6 L237.2 41.8 L241.2 44 L245.1 46.2 L247.5 48.4 L249.7 50.6 L251.8 52.8 L253.4 55 L254.7 57.2 L255.6 59.4 L256.8 61.6 L257.8 63.8 L258.5 66 L259.5 68.2 L260.2 70.4 L260.9 72.6 L261.6 74.8 L262.4 77 L263.3 79.2 L264.1 81.4 L264.3 83.6 L264.8 85.8 L265.3 88 L265.8 90.2 L266.3 92.4 L266.8 94.6 L267.3 96.8 L267.8 99 L268.6 101.2 L269.5 103.4 L270.5 105.6 L271.2 107.8 L272.2 110 L273.2 112.2 L274.2 114.4 L275.6 116.6 L278.7 118.8 L281.5 121 L284.4 123.2 L512.5 125.4 L234.5 126.4 Z" fill="#b8d5d5" stroke="#b8d5d5" stroke-width="0.3"/>
<path d="M234.5 38.6 L215.8 38.6 L230.1 40.7 L236.7 42.9 L240.6 45.1 L244.5 47.3 L246.8 49.4 L248.9 51.6 L250.9 53.8 L252.6 55.9 L253.7 58.1 L254.7 60.3 L255.9 62.5 L256.8 64.6 L257.5 66.8 L258.5 69 L259.2 71.1 L259.9 73.3 L260.6 75.5 L261.3 77.6 L262.2 79.8 L262.9 82 L263.2 84.2 L263.7 86.3 L264.2 88.5 L264.7 90.7 L265.2 92.8 L265.7 95 L266.2 97.2 L266.7 99.4 L267.4 101.5 L268.4 103.7 L269.4 105.9 L270.1 108 L271.1 110.2 L272 112.4 L273 114.5 L274.4 116.7 L277.4 118.9 L280.2 121.1 L282.9 123.2 L512.5 125.4 L234.5 126.4 Z" fill="#b1cece" stroke="#b1cece" stroke-width="0.3"/>
<path d="M234.5 39.8 L216.1 39.8 L229.9 42 L236.3 44.1 L240.1 46.2 L243.8 48.4 L246.1 50.5 L248.1 52.7 L250.1 54.8 L251.7 56.9 L252.8 59.1 L253.8 61.2 L254.9 63.4 L255.8 65.5 L256.5 67.6 L257.5 69.8 L258.1 71.9 L258.8 74.1 L259.6 76.2 L260.2 78.3 L261.1 80.5 L261.9 82.6 L262.1 84.8 L262.6 86.9 L263.1 89 L263.6 91.2 L264.1 93.3 L264.6 95.4 L265.1 97.6 L265.6 99.7 L266.4 101.9 L267.3 104 L268.2 106.1 L269 108.3 L269.9 110.4 L270.9 112.6 L271.8 114.7 L273.2 116.8 L276.1 119 L278.8 121.1 L281.5 123.3 L512.5 125.4 L234.5 126.4 Z" fill="#abc7c7" stroke="#abc7c7" stroke-width="0.3"/>
<path d="M234.5 41.1 L216.4 41.1 L229.7 43.2 L235.9 45.3 L239.5 47.4 L243.1 49.5 L245.3 51.6 L247.3 53.7 L249.2 55.9 L250.8 58 L251.9 60.1 L252.8 62.2 L253.9 64.3 L254.8 66.4 L255.6 68.5 L256.4 70.6 L257.1 72.7 L257.8 74.8 L258.5 76.9 L259.1 79 L260.1 81.1 L260.8 83.3 L261.1 85.4 L261.5 87.5 L262 89.6 L262.5 91.7 L263 93.8 L263.5 95.9 L264.1 98 L264.6 100.1 L265.2 102.2 L266.2 104.3 L267.1 106.4 L267.9 108.5 L268.8 110.6 L269.7 112.8 L270.6 114.9 L272.1 117 L274.9 119.1 L277.4 121.2 L280.1 123.3 L512.5 125.4 L234.5 126.4 Z" fill="#a5c0c0" stroke="#a5c0c0" stroke-width="0.3"/>
<path d="M234.5 42.4 L216.7 42.4 L229.4 44.5 L235.5 46.6 L238.9 48.6 L242.4 50.7 L244.6 52.8 L246.5 54.9 L248.4 56.9 L249.8 59 L251 61.1 L251.9 63.2 L253 65.2 L253.9 67.3 L254.6 69.4 L255.4 71.5 L256.1 73.5 L256.8 75.6 L257.4 77.7 L258.1 79.8 L259 81.8 L259.6 83.9 L260 86 L260.4 88.1 L260.9 90.1 L261.4 92.2 L261.9 94.3 L262.4 96.4 L263 98.4 L263.5 100.5 L264.1 102.6 L265.1 104.7 L266 106.7 L266.7 108.8 L267.6 110.9 L268.5 113 L269.5 115 L270.9 117.1 L273.6 119.2 L276.1 121.3 L278.6 123.3 L512.5 125.4 L234.5 126.4 Z" fill="#9fb8b8" stroke="#9fb8b8" stroke-width="0.3"/>
<path d="M234.5 43.8 L217 43.8 L229.2 45.8 L235.1 47.8 L238.4 49.9 L241.7 51.9 L243.9 54 L245.7 56 L247.6 58 L248.9 60.1 L250.1 62.1 L251 64.2 L252 66.2 L252.9 68.2 L253.6 70.3 L254.4 72.3 L255 74.4 L255.7 76.4 L256.4 78.5 L257 80.5 L257.9 82.5 L258.6 84.6 L258.9 86.6 L259.3 88.7 L259.8 90.7 L260.3 92.7 L260.8 94.8 L261.3 96.8 L261.9 98.9 L262.4 100.9 L263.1 102.9 L264 105 L264.8 107 L265.6 109.1 L266.4 111.1 L267.4 113.2 L268.3 115.2 L269.7 117.2 L272.3 119.3 L274.7 121.3 L277.2 123.4 L512.5 125.4 L234.5 126.4 Z" fill="#99b1b1" stroke="#99b1b1" stroke-width="0.3"/>
<path d="M234.5 45.1 L217.2 45.1 L229 47.1 L234.6 49.2 L237.8 51.2 L241.1 53.2 L243.2 55.2 L244.9 57.2 L246.7 59.2 L248.1 61.2 L249.1 63.2 L250.1 65.2 L251.1 67.2 L251.9 69.2 L252.6 71.2 L253.4 73.2 L254 75.2 L254.7 77.2 L255.3 79.2 L255.9 81.3 L256.8 83.3 L257.4 85.3 L257.8 87.3 L258.2 89.3 L258.7 91.3 L259.2 93.3 L259.7 95.3 L260.2 97.3 L260.8 99.3 L261.3 101.3 L261.9 103.3 L262.9 105.3 L263.7 107.3 L264.5 109.3 L265.3 111.4 L266.2 113.4 L267.1 115.4 L268.5 117.4 L271 119.4 L273.4 121.4 L275.7 123.4 L512.5 125.4 L234.5 126.4 Z" fill="#93aaaa" stroke="#93aaaa" stroke-width="0.3"/>
<path d="M234.5 46.6 L217.5 46.6 L228.8 48.5 L234.2 50.5 L237.3 52.5 L240.4 54.4 L242.4 56.4 L244.1 58.4 L245.8 60.4 L247.2 62.3 L248.2 64.3 L249.1 66.3 L250.1 68.2 L250.9 70.2 L251.6 72.2 L252.4 74.2 L253 76.1 L253.6 78.1 L254.3 80.1 L254.9 82 L255.7 84 L256.4 86 L256.7 88 L257.1 89.9 L257.6 91.9 L258.1 93.9 L258.6 95.8 L259.1 97.8 L259.7 99.8 L260.2 101.7 L260.9 103.7 L261.8 105.7 L262.6 107.7 L263.3 109.6 L264.1 111.6 L265.1 113.6 L266 115.5 L267.3 117.5 L269.7 119.5 L272 121.5 L274.3 123.4 L512.5 125.4 L234.5 126.4 Z" fill="#8ca2a2" stroke="#8ca2a2" stroke-width="0.3"/>
<path d="M234.5 48 L217.8 48 L228.6 50 L233.8 51.9 L236.8 53.8 L239.7 55.8 L241.7 57.7 L243.3 59.6 L245 61.6 L246.2 63.5 L247.3 65.4 L248.2 67.4 L249.2 69.3 L249.9 71.2 L250.6 73.2 L251.4 75.1 L251.9 77 L252.6 79 L253.2 80.9 L253.8 82.8 L254.6 84.8 L255.2 86.7 L255.6 88.6 L256 90.6 L256.5 92.5 L257 94.5 L257.5 96.4 L258 98.3 L258.6 100.3 L259.1 102.2 L259.8 104.1 L260.6 106.1 L261.4 108 L262.2 109.9 L263 111.9 L263.9 113.8 L264.8 115.7 L266.1 117.7 L268.4 119.6 L270.6 121.5 L272.9 123.5 L512.5 125.4 L234.5 126.4 Z" fill="#869b9b" stroke="#869b9b" stroke-width="0.3"/>
<path d="M234.5 49.5 L218.1 49.5 L228.3 51.4 L233.4 53.3 L236.2 55.2 L239 57.1 L241 59 L242.6 60.9 L244.2 62.8 L245.3 64.7 L246.4 66.6 L247.3 68.5 L248.2 70.4 L249 72.3 L249.6 74.2 L250.4 76.1 L250.9 78 L251.6 79.9 L252.2 81.8 L252.7 83.7 L253.5 85.6 L254.2 87.5 L254.5 89.4 L254.9 91.3 L255.4 93.2 L255.9 95.1 L256.4 97 L256.9 98.9 L257.5 100.7 L258 102.6 L258.6 104.5 L259.5 106.4 L260.3 108.3 L261.1 110.2 L261.9 112.1 L262.7 114 L263.6 115.9 L264.9 117.8 L267.2 119.7 L269.3 121.6 L271.4 123.5 L512.5 125.4 L234.5 126.4 Z" fill="#809494" stroke="#809494" stroke-width="0.3"/>
<path d="M234.5 51.1 L218.4 51.1 L228.1 53 L233 54.8 L235.7 56.7 L238.3 58.5 L240.2 60.4 L241.8 62.3 L243.3 64.1 L244.4 66 L245.5 67.8 L246.3 69.7 L247.2 71.5 L248 73.4 L248.6 75.3 L249.4 77.1 L249.9 79 L250.5 80.8 L251.2 82.7 L251.7 84.5 L252.4 86.4 L253.1 88.3 L253.4 90.1 L253.8 92 L254.3 93.8 L254.8 95.7 L255.3 97.5 L255.8 99.4 L256.4 101.3 L256.9 103.1 L257.6 105 L258.4 106.8 L259.2 108.7 L259.9 110.5 L260.7 112.4 L261.6 114.3 L262.5 116.1 L263.7 118 L265.9 119.8 L267.9 121.7 L270 123.5 L512.5 125.4 L234.5 126.4 Z" fill="#7a8d8d" stroke="#7a8d8d" stroke-width="0.3"/>
<path d="M234.5 52.8 L218.6 52.8 L227.9 54.6 L232.5 56.4 L235.1 58.2 L237.7 60 L239.5 61.8 L241 63.7 L242.4 65.5 L243.6 67.3 L244.5 69.1 L245.4 70.9 L246.3 72.7 L247 74.5 L247.6 76.4 L248.4 78.2 L248.9 80 L249.5 81.8 L250.1 83.6 L250.6 85.4 L251.3 87.3 L251.9 89.1 L252.3 90.9 L252.7 92.7 L253.2 94.5 L253.7 96.3 L254.2 98.2 L254.7 100 L255.3 101.8 L255.8 103.6 L256.4 105.4 L257.3 107.2 L258.1 109.1 L258.8 110.9 L259.6 112.7 L260.4 114.5 L261.3 116.3 L262.5 118.1 L264.6 120 L266.6 121.8 L268.5 123.6 L512.5 125.4 L234.5 126.4 Z" fill="#748585" stroke="#748585" stroke-width="0.3"/>
<path d="M234.5 54.5 L218.9 54.5 L227.7 56.2 L232.1 58 L234.6 59.8 L237 61.6 L238.8 63.3 L240.2 65.1 L241.6 66.9 L242.7 68.6 L243.6 70.4 L244.5 72.2 L245.3 74 L246 75.7 L246.6 77.5 L247.4 79.3 L247.8 81.1 L248.4 82.8 L249.1 84.6 L249.5 86.4 L250.2 88.2 L250.8 89.9 L251.2 91.7 L251.6 93.5 L252.1 95.3 L252.6 97 L253.1 98.8 L253.6 100.6 L254.2 102.3 L254.7 104.1 L255.3 105.9 L256.2 107.7 L256.9 109.4 L257.7 111.2 L258.4 113 L259.3 114.8 L260.1 116.5 L261.3 118.3 L263.3 120.1 L265.2 121.9 L267.1 123.6 L512.5 125.4 L234.5 126.4 Z" fill="#6d7e7e" stroke="#6d7e7e" stroke-width="0.3"/>
<path d="M234.5 56.2 L219.2 56.2 L227.4 58 L231.7 59.7 L234 61.4 L236.3 63.2 L238.1 64.9 L239.4 66.6 L240.8 68.3 L241.8 70.1 L242.7 71.8 L243.6 73.5 L244.3 75.3 L245.1 77 L245.7 78.7 L246.3 80.4 L246.8 82.2 L247.4 83.9 L248 85.6 L248.4 87.4 L249.2 89.1 L249.8 90.8 L250.2 92.6 L250.5 94.3 L251 96 L251.5 97.7 L252 99.5 L252.5 101.2 L253.2 102.9 L253.7 104.7 L254.2 106.4 L255.1 108.1 L255.8 109.8 L256.6 111.6 L257.2 113.3 L258.1 115 L258.9 116.8 L260.1 118.5 L262.1 120.2 L263.9 121.9 L265.6 123.7 L512.5 125.4 L234.5 126.4 Z" fill="#677777" stroke="#677777" stroke-width="0.3"/>
<path d="M234.5 58.1 L219.5 58.1 L227.2 59.8 L231.3 61.5 L233.4 63.2 L235.6 64.8 L237.3 66.5 L238.6 68.2 L239.9 69.9 L240.8 71.6 L241.8 73.3 L242.6 74.9 L243.4 76.6 L244.1 78.3 L244.7 80 L245.3 81.7 L245.8 83.4 L246.4 85 L246.9 86.7 L247.4 88.4 L248.1 90.1 L248.7 91.8 L249.1 93.4 L249.4 95.1 L249.9 96.8 L250.4 98.5 L250.9 100.2 L251.4 101.9 L252.1 103.5 L252.6 105.2 L253.2 106.9 L254 108.6 L254.7 110.3 L255.4 111.9 L256.1 113.6 L256.9 115.3 L257.8 117 L259 118.7 L260.8 120.4 L262.5 122 L264.2 123.7 L512.5 125.4 L234.5 126.4 Z" fill="#616f6f" stroke="#616f6f" stroke-width="0.3"/>
<path d="M234.5 60.1 L219.8 60.1 L227 61.7 L230.9 63.4 L232.9 65 L234.9 66.6 L236.6 68.3 L237.8 69.9 L239.1 71.5 L239.9 73.2 L240.9 74.8 L241.7 76.4 L242.4 78.1 L243.1 79.7 L243.7 81.3 L244.3 83 L244.7 84.6 L245.3 86.2 L245.9 87.9 L246.3 89.5 L247 91.1 L247.6 92.8 L248 94.4 L248.3 96 L248.8 97.6 L249.3 99.3 L249.8 100.9 L250.3 102.5 L251 104.2 L251.5 105.8 L252.1 107.4 L252.9 109.1 L253.5 110.7 L254.3 112.3 L254.9 114 L255.8 115.6 L256.6 117.2 L257.8 118.9 L259.5 120.5 L261.1 122.1 L262.8 123.8 L512.5 125.4 L234.5 126.4 Z" fill="#5b6868" stroke="#5b6868" stroke-width="0.3"/>
<path d="M234.5 62.2 L220 62.2 L226.8 63.8 L230.4 65.4 L232.3 67 L234.3 68.5 L235.9 70.1 L237 71.7 L238.2 73.3 L239.1 74.9 L239.9 76.4 L240.8 78 L241.5 79.6 L242.1 81.2 L242.7 82.8 L243.3 84.3 L243.7 85.9 L244.3 87.5 L244.8 89.1 L245.2 90.6 L245.9 92.2 L246.4 93.8 L246.9 95.4 L247.2 97 L247.7 98.5 L248.2 100.1 L248.7 101.7 L249.2 103.3 L249.9 104.9 L250.4 106.4 L250.9 108 L251.8 109.6 L252.4 111.2 L253.2 112.8 L253.8 114.3 L254.6 115.9 L255.4 117.5 L256.6 119.1 L258.2 120.7 L259.8 122.2 L261.3 123.8 L512.5 125.4 L234.5 126.4 Z" fill="#556161" stroke="#556161" stroke-width="0.3"/>
<path d="M234.5 64.5 L220.3 64.5 L226.6 66 L230 67.5 L231.8 69.1 L233.6 70.6 L235.1 72.1 L236.2 73.6 L237.3 75.1 L238.2 76.7 L239 78.2 L239.8 79.7 L240.5 81.2 L241.1 82.8 L241.7 84.3 L242.3 85.8 L242.7 87.3 L243.2 88.9 L243.8 90.4 L244.2 91.9 L244.8 93.4 L245.3 94.9 L245.8 96.5 L246.1 98 L246.6 99.5 L247.1 101 L247.6 102.6 L248.1 104.1 L248.8 105.6 L249.3 107.1 L249.8 108.6 L250.7 110.2 L251.3 111.7 L252 113.2 L252.7 114.7 L253.5 116.3 L254.3 117.8 L255.4 119.3 L256.9 120.8 L258.4 122.4 L259.9 123.9 L512.5 125.4 L234.5 126.4 Z" fill="#4f5a5a" stroke="#4f5a5a" stroke-width="0.3"/>
<path d="M234.5 67 L220.6 67 L226.3 68.4 L229.6 69.9 L231.2 71.3 L232.9 72.8 L234.4 74.3 L235.4 75.7 L236.5 77.2 L237.2 78.6 L238.1 80.1 L238.9 81.6 L239.6 83 L240.2 84.5 L240.7 85.9 L241.3 87.4 L241.7 88.9 L242.2 90.3 L242.8 91.8 L243.1 93.3 L243.7 94.7 L244.2 96.2 L244.7 97.6 L245 99.1 L245.5 100.6 L246 102 L246.5 103.5 L247 104.9 L247.7 106.4 L248.2 107.9 L248.8 109.3 L249.6 110.8 L250.2 112.2 L250.9 113.7 L251.5 115.2 L252.3 116.6 L253.1 118.1 L254.2 119.6 L255.7 121 L257.1 122.5 L258.4 123.9 L512.5 125.4 L234.5 126.4 Z" fill="#485252" stroke="#485252" stroke-width="0.3"/>
<path d="M234.5 69.7 L220.9 69.7 L226.1 71.1 L229.2 72.5 L230.7 73.9 L232.2 75.3 L233.7 76.6 L234.7 78 L235.7 79.4 L236.3 80.8 L237.2 82.2 L238 83.6 L238.6 85 L239.2 86.4 L239.7 87.8 L240.3 89.2 L240.6 90.6 L241.2 92 L241.7 93.4 L242 94.8 L242.6 96.1 L243.2 97.5 L243.6 98.9 L243.9 100.3 L244.4 101.7 L244.9 103.1 L245.4 104.5 L245.9 105.9 L246.6 107.3 L247.1 108.7 L247.7 110.1 L248.4 111.5 L249 112.9 L249.8 114.3 L250.3 115.6 L251.1 117 L251.9 118.4 L253 119.8 L254.4 121.2 L255.7 122.6 L257 124 L512.5 125.4 L234.5 126.4 Z" fill="#424b4b" stroke="#424b4b" stroke-width="0.3"/>
<path d="M234.5 72.8 L221.2 72.8 L225.9 74.1 L228.8 75.4 L230.2 76.7 L231.5 78 L232.9 79.4 L233.9 80.7 L234.8 82 L235.4 83.3 L236.3 84.6 L237 85.9 L237.6 87.2 L238.2 88.6 L238.7 89.9 L239.3 91.2 L239.6 92.5 L240.1 93.8 L240.7 95.1 L241 96.5 L241.5 97.8 L242.1 99.1 L242.5 100.4 L242.8 101.7 L243.3 103 L243.8 104.4 L244.3 105.7 L244.8 107 L245.5 108.3 L246 109.6 L246.6 110.9 L247.3 112.2 L247.9 113.6 L248.6 114.9 L249.2 116.2 L250 117.5 L250.8 118.8 L251.8 120.1 L253.1 121.5 L254.3 122.8 L255.6 124.1 L512.5 125.4 L234.5 126.4 Z" fill="#3c4444" stroke="#3c4444" stroke-width="0.3"/>
<path d="M234.5 76.5 L221.4 76.5 L225.7 77.7 L228.3 78.9 L229.6 80.1 L230.9 81.3 L232.2 82.6 L233.1 83.8 L233.9 85 L234.6 86.2 L235.3 87.5 L236.1 88.7 L236.7 89.9 L237.2 91.1 L237.7 92.4 L238.3 93.6 L238.6 94.8 L239.1 96 L239.6 97.3 L239.9 98.5 L240.4 99.7 L240.9 100.9 L241.4 102.1 L241.7 103.4 L242.2 104.6 L242.7 105.8 L243.2 107 L243.7 108.3 L244.4 109.5 L244.9 110.7 L245.4 111.9 L246.2 113.2 L246.8 114.4 L247.5 115.6 L248.1 116.8 L248.8 118.1 L249.6 119.3 L250.6 120.5 L251.8 121.7 L253 123 L254.1 124.2 L512.5 125.4 L234.5 126.4 Z" fill="#363c3c" stroke="#363c3c" stroke-width="0.3"/>
<path d="M234.5 81.2 L221.7 81.2 L225.5 82.3 L227.9 83.4 L229.1 84.6 L230.2 85.7 L231.5 86.8 L232.3 87.9 L233.1 89 L233.7 90.1 L234.4 91.2 L235.2 92.3 L235.7 93.4 L236.2 94.5 L236.7 95.6 L237.3 96.7 L237.5 97.8 L238 98.9 L238.6 100 L238.8 101.1 L239.3 102.2 L239.8 103.3 L240.3 104.4 L240.6 105.5 L241.1 106.6 L241.6 107.7 L242.1 108.8 L242.6 109.9 L243.3 111 L243.8 112.2 L244.3 113.3 L245.1 114.4 L245.6 115.5 L246.4 116.6 L246.9 117.7 L247.7 118.8 L248.4 119.9 L249.4 121 L250.5 122.1 L251.6 123.2 L252.7 124.3 L512.5 125.4 L234.5 126.4 Z" fill="#303535" stroke="#303535" stroke-width="0.3"/>
<path d="M234.5 92.8 L222 92.8 L225.2 93.6 L227.5 94.4 L228.5 95.2 L229.5 96.1 L230.8 96.9 L231.5 97.7 L232.2 98.5 L232.8 99.3 L233.5 100.1 L234.2 101 L234.8 101.8 L235.2 102.6 L235.8 103.4 L236.2 104.2 L236.5 105 L237 105.8 L237.5 106.7 L237.8 107.5 L238.2 108.3 L238.8 109.1 L239.2 109.9 L239.5 110.7 L240 111.5 L240.5 112.4 L241 113.2 L241.5 114 L242.2 114.8 L242.8 115.6 L243.2 116.4 L244 117.2 L244.5 118.1 L245.2 118.9 L245.8 119.7 L246.5 120.5 L247.2 121.3 L248.2 122.1 L249.2 123 L250.2 123.8 L251.2 124.6 L512.5 125.4 L234.5 126.4 Z" fill="#292e2e" stroke="#292e2e" stroke-width="0.3"/>
<path d="M234.5 92.8 L236.5 104.6 L240.1 111.5 L242.8 115.6 L247 121.1 L252.5 125.4 L317.5 126.4 L234.5 126.4 Z" fill="#fff"/>
</g>
<text x="237.3" y="27.7" font-size="7.9" stroke="#000" stroke-width="0.1">Time <tspan font-style="italic">t</tspan> = 1e4s</text>
<line x1="236.5" y1="125.4" x2="236.5" y2="123.9" stroke="#000" stroke-width="0.5"/>
<text x="236.5" y="134" font-size="7.9" text-anchor="middle" stroke="#000" stroke-width="0.1">-20</text>
<line x1="251.7" y1="125.4" x2="251.7" y2="123.9" stroke="#000" stroke-width="0.5"/>
<text x="251.7" y="134" font-size="7.9" text-anchor="middle" stroke="#000" stroke-width="0.1">0</text>
<line x1="266.9" y1="125.4" x2="266.9" y2="123.9" stroke="#000" stroke-width="0.5"/>
<text x="266.9" y="134" font-size="7.9" text-anchor="middle" stroke="#000" stroke-width="0.1">20</text>
<line x1="282.1" y1="125.4" x2="282.1" y2="123.9" stroke="#000" stroke-width="0.5"/>
<text x="282.1" y="134" font-size="7.9" text-anchor="middle" stroke="#000" stroke-width="0.1">40</text>
<line x1="297.3" y1="125.4" x2="297.3" y2="123.9" stroke="#000" stroke-width="0.5"/>
<text x="297.3" y="134" font-size="7.9" text-anchor="middle" stroke="#000" stroke-width="0.1">60</text>
<line x1="312.5" y1="125.4" x2="312.5" y2="123.9" stroke="#000" stroke-width="0.5"/>
<text x="312.5" y="134" font-size="7.9" text-anchor="middle" stroke="#000" stroke-width="0.1">80</text>
<line x1="236.5" y1="39.4" x2="238" y2="39.4" stroke="#000" stroke-width="0.5"/>
<line x1="236.5" y1="61.3" x2="238" y2="61.3" stroke="#000" stroke-width="0.5"/>
<line x1="236.5" y1="83.2" x2="238" y2="83.2" stroke="#000" stroke-width="0.5"/>
<line x1="236.5" y1="105.1" x2="238" y2="105.1" stroke="#000" stroke-width="0.5"/>
<text x="235.5" y="42" font-size="7.9" text-anchor="end" stroke="#000" stroke-width="0.1">2e3</text>
<text x="232.3" y="84.5" font-size="7.9" text-anchor="middle" transform="rotate(-90 232.3 84.5)" stroke="#000" stroke-width="0.1"><tspan font-style="italic">E</tspan> [MPa]</text>
<text x="274.5" y="141.3" font-size="7.9" text-anchor="middle" stroke="#000" stroke-width="0.1"><tspan font-style="italic">T</tspan> [°C]</text>
<rect x="236.5" y="30.6" width="76" height="94.8" fill="none" stroke="#111" stroke-width="0.8"/>
<line x1="259.9" y1="62.1" x2="270" y2="56" stroke="#000" stroke-width="0.6"/>
<circle cx="259.9" cy="62.1" r="1.2" fill="#fff" stroke="#111" stroke-width="0.5"/>
<text x="270.5" y="58.5" font-size="7.9" stroke="#000" stroke-width="0.1">VW</text>
<line x1="242.8" y1="115.6" x2="253" y2="108" stroke="#000" stroke-width="0.6"/>
<circle cx="242.8" cy="115.6" r="1.2" fill="#fff" stroke="#111" stroke-width="0.5"/>
<text x="254" y="109.5" font-size="7.9" stroke="#000" stroke-width="0.1">AB</text>
<defs><linearGradient id="cbA" x1="0" y1="1" x2="0" y2="0"><stop offset="0.0" stop-color="#1c1e1e"/><stop offset="0.1" stop-color="#2d3232"/><stop offset="0.2" stop-color="#3e4646"/><stop offset="0.3" stop-color="#4e5959"/><stop offset="0.4" stop-color="#5f6d6d"/><stop offset="0.5" stop-color="#708181"/><stop offset="0.6" stop-color="#819595"/><stop offset="0.7" stop-color="#92a9a9"/><stop offset="0.8" stop-color="#a2bcbc"/><stop offset="0.9" stop-color="#b3d0d0"/><stop offset="1.0" stop-color="#c4e4e4"/></linearGradient></defs>
<rect x="327.1" y="30" width="7" height="95.2" fill="url(#cbA)" stroke="#111" stroke-width="0.6"/>
<text x="330.6" y="27.5" font-size="7.9" text-anchor="middle" stroke="#000" stroke-width="0.1">VW</text>
<text x="330.6" y="134" font-size="7.9" text-anchor="middle" stroke="#000" stroke-width="0.1">AB</text>
<text x="346.4" y="12.8" font-size="13.2" font-weight="bold" stroke="#000" stroke-width="0.1">b</text>
<text x="361" y="12.1" font-size="9.35" stroke="#000" stroke-width="0.1">Material Mixture Viscoelasticity</text>
<path d="M381.3 125.3 L382.1 109.8 L383.2 101.2 L386.3 98.6 L390.1 101.2 L393.8 107.2 L397.6 115.8 L400.7 122.7 L402.2 125.3 Z" fill="#cfe6e6" fill-opacity="0.75"/>
<path d="M377.2 125.2 L377.9 125.1 L378.7 125 L379.4 124.7 L380.2 124.3 L381 123.6 L381.7 122.5 L382.5 120.9 L383.2 118.8 L384 116.5 L384.7 114.3 L385.5 112.5 L386.3 111.2 L387 110.2 L387.8 109.5 L388.5 109 L389.3 108.5 L390.1 108.1 L390.8 107.8 L391.6 107.4 L392.3 107.1 L393.1 106.8 L393.8 106.5 L394.6 106.3 L395.4 106.1 L396.1 105.9 L396.9 105.8 L397.6 105.7 L398.4 105.7 L399.1 105.7 L399.9 105.8 L400.7 105.9 L401.4 106.1 L402.2 106.3 L402.9 106.5 L403.7 106.8 L404.5 107.1 L405.2 107.4 L406 107.7 L406.7 108 L407.5 108.3 L408.2 108.6 L409 108.9 L409.8 109.2 L410.5 109.4 L411.3 109.6 L412 109.8 L412.8 110 L413.5 110.1 L414.3 110.3 L415.1 110.4 L415.8 110.4 L416.6 110.5 L417.3 110.5 L418.1 110.4 L418.9 110.2 L419.6 109.9 L420.4 109.4 L421.1 108.7 L421.9 107.5 L422.6 105.9 L423.4 103.6 L424.2 100.6 L424.9 96.7 L425.7 91.9 L426.4 86.2 L427.2 79.6 L428 72.4 L428.7 64.8 L429.5 57.2 L430.2 50.2 L431 44.2 L431.7 39.6 L432.5 36.9 L433.3 36.4 L434 37.4 L434.8 39.4 L435.5 42.4 L436.3 46.3 L437 50.9 L437.8 56 L438.6 61.6 L439.3 67.4 L440.1 73.4 L440.8 79.3 L441.6 85 L442.4 90.4 L443.1 95.5 L443.9 100.1 L444.6 104.3 L445.4 107.9 L446.1 111.1 L446.9 113.9" fill="none" stroke="#bfdede" stroke-width="0.5" stroke-linejoin="round"/>
<path d="M377.2 125.2 L377.9 125.1 L378.7 125 L379.4 124.7 L380.2 124.2 L381 123.4 L381.7 122.2 L382.5 120.4 L383.2 118.1 L384 115.5 L384.7 113.1 L385.5 111.2 L386.3 109.8 L387 108.8 L387.8 108 L388.5 107.5 L389.3 107 L390.1 106.6 L390.8 106.2 L391.6 105.8 L392.3 105.5 L393.1 105.2 L393.8 104.9 L394.6 104.6 L395.4 104.4 L396.1 104.2 L396.9 104 L397.6 103.9 L398.4 103.9 L399.1 103.9 L399.9 104 L400.7 104.2 L401.4 104.4 L402.2 104.6 L402.9 104.8 L403.7 105.1 L404.5 105.5 L405.2 105.8 L406 106.1 L406.7 106.5 L407.5 106.8 L408.2 107.1 L409 107.4 L409.8 107.7 L410.5 108 L411.3 108.2 L412 108.4 L412.8 108.6 L413.5 108.8 L414.3 108.9 L415.1 109 L415.8 109.1 L416.6 109.1 L417.3 109.1 L418.1 109 L418.9 108.8 L419.6 108.4 L420.4 107.7 L421.1 106.8 L421.9 105.3 L422.6 103.4 L423.4 100.7 L424.2 97.2 L424.9 92.9 L425.7 87.7 L426.4 81.6 L427.2 75 L428 67.9 L428.7 60.8 L429.5 54.2 L430.2 48.5 L431 44.2 L431.7 41.6 L432.5 41 L433.3 42 L434 44 L434.8 47 L435.5 50.7 L436.3 55.2 L437 60.3 L437.8 65.7 L438.6 71.4 L439.3 77.1 L440.1 82.8 L440.8 88.3 L441.6 93.4 L442.4 98.2 L443.1 102.6 L443.9 106.4 L444.6 109.8 L445.4 112.8 L446.1 115.3 L446.9 117.4" fill="none" stroke="#b5d2d2" stroke-width="0.5086206896551724" stroke-linejoin="round"/>
<path d="M377.2 125.2 L377.9 125.1 L378.7 124.9 L379.4 124.6 L380.2 124.1 L381 123.3 L381.7 121.9 L382.5 119.9 L383.2 117.3 L384 114.5 L384.7 112 L385.5 109.9 L386.3 108.5 L387 107.4 L387.8 106.7 L388.5 106.1 L389.3 105.6 L390.1 105.1 L390.8 104.7 L391.6 104.3 L392.3 104 L393.1 103.6 L393.8 103.3 L394.6 103 L395.4 102.7 L396.1 102.5 L396.9 102.4 L397.6 102.3 L398.4 102.3 L399.1 102.3 L399.9 102.4 L400.7 102.5 L401.4 102.7 L402.2 103 L402.9 103.3 L403.7 103.6 L404.5 103.9 L405.2 104.3 L406 104.7 L406.7 105 L407.5 105.4 L408.2 105.7 L409 106.1 L409.8 106.4 L410.5 106.7 L411.3 106.9 L412 107.1 L412.8 107.3 L413.5 107.5 L414.3 107.7 L415.1 107.8 L415.8 107.8 L416.6 107.9 L417.3 107.8 L418.1 107.6 L418.9 107.3 L419.6 106.8 L420.4 106 L421.1 104.8 L421.9 103 L422.6 100.7 L423.4 97.6 L424.2 93.7 L424.9 89 L425.7 83.4 L426.4 77.3 L427.2 70.7 L428 64.2 L428.7 58 L429.5 52.6 L430.2 48.5 L431 46 L431.7 45.5 L432.5 46.5 L433.3 48.5 L434 51.4 L434.8 55.1 L435.5 59.4 L436.3 64.4 L437 69.7 L437.8 75.2 L438.6 80.7 L439.3 86.2 L440.1 91.4 L440.8 96.3 L441.6 100.8 L442.4 104.9 L443.1 108.5 L443.9 111.6 L444.6 114.3 L445.4 116.6 L446.1 118.5 L446.9 120" fill="none" stroke="#abc7c7" stroke-width="0.5172413793103449" stroke-linejoin="round"/>
<path d="M377.2 125.2 L377.9 125.1 L378.7 124.9 L379.4 124.6 L380.2 124.1 L381 123.1 L381.7 121.6 L382.5 119.3 L383.2 116.5 L384 113.5 L384.7 110.8 L385.5 108.7 L386.3 107.2 L387 106.1 L387.8 105.3 L388.5 104.7 L389.3 104.2 L390.1 103.8 L390.8 103.3 L391.6 102.9 L392.3 102.5 L393.1 102.2 L393.8 101.8 L394.6 101.5 L395.4 101.2 L396.1 101 L396.9 100.9 L397.6 100.8 L398.4 100.7 L399.1 100.8 L399.9 100.9 L400.7 101 L401.4 101.2 L402.2 101.5 L402.9 101.8 L403.7 102.1 L404.5 102.5 L405.2 102.9 L406 103.3 L406.7 103.7 L407.5 104.1 L408.2 104.4 L409 104.8 L409.8 105.1 L410.5 105.4 L411.3 105.7 L412 105.9 L412.8 106.1 L413.5 106.3 L414.3 106.5 L415.1 106.6 L415.8 106.6 L416.6 106.6 L417.3 106.5 L418.1 106.3 L418.9 105.9 L419.6 105.2 L420.4 104.2 L421.1 102.7 L421.9 100.6 L422.6 97.8 L423.4 94.3 L424.2 90.1 L424.9 85 L425.7 79.4 L426.4 73.3 L427.2 67.2 L428 61.4 L428.7 56.4 L429.5 52.6 L430.2 50.3 L431 49.8 L431.7 50.8 L432.5 52.8 L433.3 55.6 L434 59.2 L434.8 63.5 L435.5 68.3 L436.3 73.5 L437 78.8 L437.8 84.2 L438.6 89.4 L439.3 94.4 L440.1 99.1 L440.8 103.3 L441.6 107.1 L442.4 110.4 L443.1 113.3 L443.9 115.8 L444.6 117.8 L445.4 119.5 L446.1 120.8 L446.9 121.9" fill="none" stroke="#a2bcbc" stroke-width="0.5258620689655172" stroke-linejoin="round"/>
<path d="M377.2 125.2 L377.9 125.1 L378.7 124.9 L379.4 124.6 L380.2 124 L381 122.9 L381.7 121.3 L382.5 118.8 L383.2 115.8 L384 112.5 L384.7 109.7 L385.5 107.5 L386.3 106 L387 104.9 L387.8 104.1 L388.5 103.5 L389.3 103 L390.1 102.5 L390.8 102.1 L391.6 101.6 L392.3 101.2 L393.1 100.8 L393.8 100.5 L394.6 100.1 L395.4 99.8 L396.1 99.6 L396.9 99.5 L397.6 99.4 L398.4 99.3 L399.1 99.4 L399.9 99.5 L400.7 99.6 L401.4 99.8 L402.2 100.1 L402.9 100.4 L403.7 100.8 L404.5 101.2 L405.2 101.6 L406 102 L406.7 102.4 L407.5 102.8 L408.2 103.2 L409 103.6 L409.8 103.9 L410.5 104.3 L411.3 104.6 L412 104.8 L412.8 105 L413.5 105.2 L414.3 105.4 L415.1 105.5 L415.8 105.5 L416.6 105.5 L417.3 105.3 L418.1 105 L418.9 104.4 L419.6 103.5 L420.4 102.2 L421.1 100.4 L421.9 98 L422.6 94.9 L423.4 91 L424.2 86.4 L424.9 81.2 L425.7 75.7 L426.4 70 L427.2 64.7 L428 60 L428.7 56.4 L429.5 54.3 L430.2 53.9 L431 54.9 L431.7 56.9 L432.5 59.7 L433.3 63.3 L434 67.5 L434.8 72.2 L435.5 77.2 L436.3 82.4 L437 87.5 L437.8 92.5 L438.6 97.3 L439.3 101.7 L440.1 105.6 L440.8 109.2 L441.6 112.2 L442.4 114.9 L443.1 117.1 L443.9 118.9 L444.6 120.4 L445.4 121.6 L446.1 122.5 L446.9 123.2" fill="none" stroke="#99b1b1" stroke-width="0.5344827586206897" stroke-linejoin="round"/>
<path d="M377.2 125.2 L377.9 125.1 L378.7 124.9 L379.4 124.5 L380.2 123.9 L381 122.8 L381.7 120.9 L382.5 118.3 L383.2 115 L384 111.6 L384.7 108.6 L385.5 106.4 L386.3 104.8 L387 103.8 L387.8 103 L388.5 102.4 L389.3 101.8 L390.1 101.3 L390.8 100.9 L391.6 100.4 L392.3 100 L393.1 99.6 L393.8 99.2 L394.6 98.9 L395.4 98.6 L396.1 98.3 L396.9 98.1 L397.6 98 L398.4 98 L399.1 98 L399.9 98.1 L400.7 98.3 L401.4 98.6 L402.2 98.9 L402.9 99.2 L403.7 99.6 L404.5 100 L405.2 100.4 L406 100.8 L406.7 101.3 L407.5 101.7 L408.2 102.1 L409 102.5 L409.8 102.9 L410.5 103.2 L411.3 103.5 L412 103.8 L412.8 104 L413.5 104.2 L414.3 104.3 L415.1 104.4 L415.8 104.4 L416.6 104.3 L417.3 104.1 L418.1 103.6 L418.9 102.9 L419.6 101.8 L420.4 100.2 L421.1 98.1 L421.9 95.3 L422.6 91.8 L423.4 87.6 L424.2 82.9 L424.9 77.8 L425.7 72.6 L426.4 67.7 L427.2 63.3 L428 60.1 L428.7 58.2 L429.5 57.8 L430.2 58.9 L431 60.9 L431.7 63.7 L432.5 67.2 L433.3 71.3 L434 75.9 L434.8 80.8 L435.5 85.8 L436.3 90.7 L437 95.5 L437.8 100 L438.6 104.1 L439.3 107.8 L440.1 111.1 L440.8 113.9 L441.6 116.3 L442.4 118.2 L443.1 119.9 L443.9 121.2 L444.6 122.2 L445.4 123 L446.1 123.6 L446.9 124.1" fill="none" stroke="#90a7a7" stroke-width="0.5431034482758621" stroke-linejoin="round"/>
<path d="M377.2 125.2 L377.9 125.1 L378.7 124.9 L379.4 124.5 L380.2 123.8 L381 122.6 L381.7 120.6 L382.5 117.8 L383.2 114.2 L384 110.6 L384.7 107.6 L385.5 105.3 L386.3 103.8 L387 102.7 L387.8 101.9 L388.5 101.3 L389.3 100.8 L390.1 100.3 L390.8 99.8 L391.6 99.3 L392.3 98.9 L393.1 98.4 L393.8 98 L394.6 97.7 L395.4 97.4 L396.1 97.1 L396.9 96.9 L397.6 96.8 L398.4 96.8 L399.1 96.8 L399.9 96.9 L400.7 97.1 L401.4 97.4 L402.2 97.7 L402.9 98 L403.7 98.4 L404.5 98.9 L405.2 99.3 L406 99.8 L406.7 100.2 L407.5 100.7 L408.2 101.1 L409 101.5 L409.8 101.9 L410.5 102.2 L411.3 102.5 L412 102.8 L412.8 103.1 L413.5 103.2 L414.3 103.4 L415.1 103.4 L415.8 103.4 L416.6 103.2 L417.3 102.9 L418.1 102.3 L418.9 101.3 L419.6 100 L420.4 98.1 L421.1 95.6 L421.9 92.4 L422.6 88.7 L423.4 84.4 L424.2 79.7 L424.9 75 L425.7 70.4 L426.4 66.5 L427.2 63.5 L428 61.8 L428.7 61.6 L429.5 62.7 L430.2 64.7 L431 67.5 L431.7 71 L432.5 75 L433.3 79.5 L434 84.2 L434.8 89.1 L435.5 93.8 L436.3 98.4 L437 102.6 L437.8 106.5 L438.6 109.9 L439.3 112.9 L440.1 115.4 L440.8 117.5 L441.6 119.3 L442.4 120.7 L443.1 121.8 L443.9 122.7 L444.6 123.4 L445.4 123.9 L446.1 124.3 L446.9 124.6" fill="none" stroke="#879d9d" stroke-width="0.5517241379310345" stroke-linejoin="round"/>
<path d="M377.2 125.2 L377.9 125.1 L378.7 124.9 L379.4 124.5 L380.2 123.7 L381 122.4 L381.7 120.3 L382.5 117.2 L383.2 113.5 L384 109.7 L384.7 106.6 L385.5 104.3 L386.3 102.8 L387 101.8 L387.8 101 L388.5 100.4 L389.3 99.8 L390.1 99.3 L390.8 98.8 L391.6 98.3 L392.3 97.8 L393.1 97.4 L393.8 97 L394.6 96.6 L395.4 96.3 L396.1 96 L396.9 95.9 L397.6 95.7 L398.4 95.7 L399.1 95.7 L399.9 95.9 L400.7 96 L401.4 96.3 L402.2 96.6 L402.9 97 L403.7 97.4 L404.5 97.8 L405.2 98.3 L406 98.8 L406.7 99.2 L407.5 99.7 L408.2 100.2 L409 100.6 L409.8 101 L410.5 101.3 L411.3 101.7 L412 101.9 L412.8 102.2 L413.5 102.4 L414.3 102.5 L415.1 102.5 L415.8 102.4 L416.6 102.2 L417.3 101.7 L418.1 100.9 L418.9 99.7 L419.6 98 L420.4 95.8 L421.1 93 L421.9 89.6 L422.6 85.7 L423.4 81.5 L424.2 77.1 L424.9 73 L425.7 69.4 L426.4 66.7 L427.2 65.3 L428 65.2 L428.7 66.4 L429.5 68.4 L430.2 71.2 L431 74.6 L431.7 78.6 L432.5 83 L433.3 87.6 L434 92.2 L434.8 96.8 L435.5 101.1 L436.3 105 L437 108.6 L437.8 111.8 L438.6 114.5 L439.3 116.8 L440.1 118.7 L440.8 120.2 L441.6 121.5 L442.4 122.4 L443.1 123.2 L443.9 123.8 L444.6 124.2 L445.4 124.5 L446.1 124.7 L446.9 124.9" fill="none" stroke="#7f9393" stroke-width="0.5603448275862069" stroke-linejoin="round"/>
<path d="M377.2 125.2 L377.9 125.1 L378.7 124.9 L379.4 124.4 L380.2 123.7 L381 122.3 L381.7 120 L382.5 116.7 L383.2 112.7 L384 108.8 L384.7 105.6 L385.5 103.4 L386.3 101.9 L387 100.9 L387.8 100.1 L388.5 99.5 L389.3 98.9 L390.1 98.4 L390.8 97.9 L391.6 97.4 L392.3 96.9 L393.1 96.5 L393.8 96 L394.6 95.7 L395.4 95.3 L396.1 95.1 L396.9 94.9 L397.6 94.8 L398.4 94.7 L399.1 94.8 L399.9 94.9 L400.7 95.1 L401.4 95.3 L402.2 95.7 L402.9 96 L403.7 96.5 L404.5 96.9 L405.2 97.4 L406 97.9 L406.7 98.4 L407.5 98.9 L408.2 99.3 L409 99.8 L409.8 100.2 L410.5 100.5 L411.3 100.9 L412 101.2 L412.8 101.4 L413.5 101.6 L414.3 101.7 L415.1 101.6 L415.8 101.5 L416.6 101.1 L417.3 100.4 L418.1 99.4 L418.9 97.9 L419.6 96 L420.4 93.5 L421.1 90.4 L421.9 86.9 L422.6 83.1 L423.4 79.1 L424.2 75.4 L424.9 72.2 L425.7 69.8 L426.4 68.6 L427.2 68.7 L428 69.9 L428.7 72 L429.5 74.7 L430.2 78.1 L431 82.1 L431.7 86.3 L432.5 90.8 L433.3 95.2 L434 99.6 L434.8 103.6 L435.5 107.3 L436.3 110.7 L437 113.6 L437.8 116 L438.6 118.1 L439.3 119.7 L440.1 121.1 L440.8 122.1 L441.6 123 L442.4 123.6 L443.1 124.1 L443.9 124.4 L444.6 124.7 L445.4 124.8 L446.1 125 L446.9 125.1" fill="none" stroke="#778989" stroke-width="0.5689655172413793" stroke-linejoin="round"/>
<path d="M377.2 125.2 L377.9 125.1 L378.7 124.9 L379.4 124.4 L380.2 123.6 L381 122.1 L381.7 119.7 L382.5 116.2 L383.2 112 L384 108 L384.7 104.8 L385.5 102.5 L386.3 101.1 L387 100.1 L387.8 99.4 L388.5 98.7 L389.3 98.2 L390.1 97.6 L390.8 97.1 L391.6 96.6 L392.3 96.1 L393.1 95.6 L393.8 95.2 L394.6 94.8 L395.4 94.5 L396.1 94.2 L396.9 94 L397.6 93.9 L398.4 93.8 L399.1 93.9 L399.9 94 L400.7 94.2 L401.4 94.5 L402.2 94.8 L402.9 95.2 L403.7 95.6 L404.5 96.1 L405.2 96.6 L406 97.1 L406.7 97.6 L407.5 98.1 L408.2 98.6 L409 99 L409.8 99.4 L410.5 99.8 L411.3 100.2 L412 100.4 L412.8 100.7 L413.5 100.8 L414.3 100.9 L415.1 100.8 L415.8 100.5 L416.6 99.9 L417.3 99.1 L418.1 97.8 L418.9 96.1 L419.6 93.9 L420.4 91.1 L421.1 88 L421.9 84.5 L422.6 81 L423.4 77.6 L424.2 74.7 L424.9 72.7 L425.7 71.7 L426.4 72 L427.2 73.3 L428 75.4 L428.7 78.2 L429.5 81.5 L430.2 85.4 L431 89.5 L431.7 93.8 L432.5 98.1 L433.3 102.2 L434 106 L434.8 109.5 L435.5 112.5 L436.3 115.2 L437 117.4 L437.8 119.2 L438.6 120.6 L439.3 121.8 L440.1 122.7 L440.8 123.4 L441.6 123.9 L442.4 124.3 L443.1 124.6 L443.9 124.8 L444.6 124.9 L445.4 125 L446.1 125.1 L446.9 125.2" fill="none" stroke="#6f8080" stroke-width="0.5775862068965517" stroke-linejoin="round"/>
<path d="M377.2 125.2 L377.9 125.1 L378.7 124.8 L379.4 124.4 L380.2 123.6 L381 122 L381.7 119.4 L382.5 115.7 L383.2 111.3 L384 107.1 L384.7 103.9 L385.5 101.8 L386.3 100.4 L387 99.4 L387.8 98.7 L388.5 98.1 L389.3 97.5 L390.1 97 L390.8 96.4 L391.6 95.9 L392.3 95.4 L393.1 94.9 L393.8 94.5 L394.6 94.1 L395.4 93.7 L396.1 93.4 L396.9 93.2 L397.6 93.1 L398.4 93.1 L399.1 93.1 L399.9 93.2 L400.7 93.4 L401.4 93.7 L402.2 94.1 L402.9 94.5 L403.7 94.9 L404.5 95.4 L405.2 95.9 L406 96.4 L406.7 96.9 L407.5 97.4 L408.2 97.9 L409 98.4 L409.8 98.8 L410.5 99.2 L411.3 99.5 L412 99.8 L412.8 100 L413.5 100.1 L414.3 100.1 L415.1 99.9 L415.8 99.5 L416.6 98.8 L417.3 97.7 L418.1 96.2 L418.9 94.2 L419.6 91.8 L420.4 88.9 L421.1 85.8 L421.9 82.7 L422.6 79.7 L423.4 77.2 L424.2 75.4 L424.9 74.7 L425.7 75.2 L426.4 76.6 L427.2 78.7 L428 81.5 L428.7 84.8 L429.5 88.6 L430.2 92.6 L431 96.8 L431.7 100.9 L432.5 104.7 L433.3 108.3 L434 111.5 L434.8 114.3 L435.5 116.6 L436.3 118.6 L437 120.2 L437.8 121.4 L438.6 122.4 L439.3 123.2 L440.1 123.8 L440.8 124.2 L441.6 124.5 L442.4 124.7 L443.1 124.9 L443.9 125 L444.6 125.1 L445.4 125.1 L446.1 125.2" fill="none" stroke="#687878" stroke-width="0.5862068965517242" stroke-linejoin="round"/>
<path d="M377.2 125.2 L377.9 125.1 L378.7 124.8 L379.4 124.4 L380.2 123.5 L381 121.9 L381.7 119.1 L382.5 115.2 L383.2 110.6 L384 106.4 L384.7 103.2 L385.5 101.1 L386.3 99.7 L387 98.8 L387.8 98.1 L388.5 97.5 L389.3 96.9 L390.1 96.4 L390.8 95.8 L391.6 95.3 L392.3 94.8 L393.1 94.3 L393.8 93.8 L394.6 93.4 L395.4 93.1 L396.1 92.8 L396.9 92.6 L397.6 92.4 L398.4 92.4 L399.1 92.4 L399.9 92.6 L400.7 92.8 L401.4 93.1 L402.2 93.4 L402.9 93.8 L403.7 94.3 L404.5 94.8 L405.2 95.3 L406 95.8 L406.7 96.3 L407.5 96.9 L408.2 97.4 L409 97.8 L409.8 98.3 L410.5 98.6 L411.3 99 L412 99.2 L412.8 99.4 L413.5 99.5 L414.3 99.4 L415.1 99 L415.8 98.4 L416.6 97.5 L417.3 96.2 L418.1 94.5 L418.9 92.3 L419.6 89.8 L420.4 87 L421.1 84.2 L421.9 81.6 L422.6 79.5 L423.4 78.1 L424.2 77.6 L424.9 78.2 L425.7 79.7 L426.4 81.9 L427.2 84.7 L428 88 L428.7 91.7 L429.5 95.6 L430.2 99.6 L431 103.5 L431.7 107.1 L432.5 110.4 L433.3 113.3 L434 115.8 L434.8 117.9 L435.5 119.7 L436.3 121 L437 122.1 L437.8 123 L438.6 123.6 L439.3 124.1 L440.1 124.4 L440.8 124.7 L441.6 124.8 L442.4 125 L443.1 125.1 L443.9 125.1 L444.6 125.2" fill="none" stroke="#616f6f" stroke-width="0.5948275862068966" stroke-linejoin="round"/>
<path d="M377.2 125.2 L377.9 125.1 L378.7 124.8 L379.4 124.4 L380.2 123.4 L381 121.7 L381.7 118.8 L382.5 114.6 L383.2 109.9 L384 105.6 L384.7 102.5 L385.5 100.5 L386.3 99.2 L387 98.3 L387.8 97.6 L388.5 97 L389.3 96.4 L390.1 95.9 L390.8 95.3 L391.6 94.8 L392.3 94.3 L393.1 93.8 L393.8 93.3 L394.6 92.9 L395.4 92.5 L396.1 92.2 L396.9 92 L397.6 91.9 L398.4 91.9 L399.1 91.9 L399.9 92 L400.7 92.2 L401.4 92.5 L402.2 92.9 L402.9 93.3 L403.7 93.8 L404.5 94.3 L405.2 94.8 L406 95.3 L406.7 95.9 L407.5 96.4 L408.2 96.9 L409 97.4 L409.8 97.8 L410.5 98.2 L411.3 98.5 L412 98.7 L412.8 98.9 L413.5 98.8 L414.3 98.6 L415.1 98.1 L415.8 97.4 L416.6 96.2 L417.3 94.7 L418.1 92.8 L418.9 90.6 L419.6 88.2 L420.4 85.7 L421.1 83.5 L421.9 81.7 L422.6 80.6 L423.4 80.4 L424.2 81.2 L424.9 82.7 L425.7 84.9 L426.4 87.7 L427.2 91 L428 94.6 L428.7 98.4 L429.5 102.2 L430.2 105.9 L431 109.3 L431.7 112.4 L432.5 115 L433.3 117.3 L434 119.1 L434.8 120.6 L435.5 121.8 L436.3 122.7 L437 123.4 L437.8 123.9 L438.6 124.3 L439.3 124.6 L440.1 124.8 L440.8 124.9 L441.6 125 L442.4 125.1 L443.1 125.2 L443.9 125.2" fill="none" stroke="#5a6767" stroke-width="0.603448275862069" stroke-linejoin="round"/>
<path d="M377.2 125.2 L377.9 125.1 L378.7 124.8 L379.4 124.4 L380.2 123.4 L381 121.6 L381.7 118.5 L382.5 114.1 L383.2 109.2 L384 104.9 L384.7 101.9 L385.5 99.9 L386.3 98.7 L387 97.8 L387.8 97.2 L388.5 96.6 L389.3 96 L390.1 95.5 L390.8 94.9 L391.6 94.4 L392.3 93.9 L393.1 93.3 L393.8 92.9 L394.6 92.5 L395.4 92.1 L396.1 91.8 L396.9 91.6 L397.6 91.5 L398.4 91.4 L399.1 91.5 L399.9 91.6 L400.7 91.8 L401.4 92.1 L402.2 92.5 L402.9 92.9 L403.7 93.4 L404.5 93.9 L405.2 94.4 L406 94.9 L406.7 95.5 L407.5 96 L408.2 96.5 L409 97 L409.8 97.4 L410.5 97.8 L411.3 98.1 L412 98.3 L412.8 98.3 L413.5 98.2 L414.3 97.8 L415.1 97.2 L415.8 96.2 L416.6 94.9 L417.3 93.3 L418.1 91.3 L418.9 89.2 L419.6 87.1 L420.4 85.2 L421.1 83.7 L421.9 82.9 L422.6 83 L423.4 84 L424.2 85.6 L424.9 87.9 L425.7 90.7 L426.4 94 L427.2 97.5 L428 101.2 L428.7 104.8 L429.5 108.2 L430.2 111.4 L431 114.2 L431.7 116.5 L432.5 118.5 L433.3 120.2 L434 121.4 L434.8 122.4 L435.5 123.2 L436.3 123.8 L437 124.2 L437.8 124.5 L438.6 124.7 L439.3 124.9 L440.1 125 L440.8 125.1 L441.6 125.1 L442.4 125.2" fill="none" stroke="#546060" stroke-width="0.6120689655172413" stroke-linejoin="round"/>
<path d="M377.2 125.2 L377.9 125.1 L378.7 124.9 L379.4 124.4 L380.2 123.4 L381 121.5 L381.7 118.2 L382.5 113.6 L383.2 108.6 L384 104.3 L384.7 101.3 L385.5 99.5 L386.3 98.3 L387 97.5 L387.8 96.9 L388.5 96.3 L389.3 95.7 L390.1 95.2 L390.8 94.6 L391.6 94.1 L392.3 93.5 L393.1 93 L393.8 92.6 L394.6 92.1 L395.4 91.8 L396.1 91.5 L396.9 91.3 L397.6 91.1 L398.4 91.1 L399.1 91.1 L399.9 91.3 L400.7 91.5 L401.4 91.8 L402.2 92.1 L402.9 92.6 L403.7 93 L404.5 93.5 L405.2 94.1 L406 94.6 L406.7 95.2 L407.5 95.7 L408.2 96.2 L409 96.7 L409.8 97.1 L410.5 97.5 L411.3 97.7 L412 97.8 L412.8 97.8 L413.5 97.6 L414.3 97.1 L415.1 96.2 L415.8 95.1 L416.6 93.7 L417.3 92 L418.1 90.2 L418.9 88.4 L419.6 86.9 L420.4 85.7 L421.1 85.2 L421.9 85.6 L422.6 86.7 L423.4 88.4 L424.2 90.7 L424.9 93.6 L425.7 96.8 L426.4 100.2 L427.2 103.7 L428 107.2 L428.7 110.4 L429.5 113.3 L430.2 115.8 L431 117.9 L431.7 119.7 L432.5 121 L433.3 122.1 L434 123 L434.8 123.6 L435.5 124.1 L436.3 124.4 L437 124.7 L437.8 124.8 L438.6 125 L439.3 125.1 L440.1 125.1 L440.8 125.2 L441.6 125.2" fill="none" stroke="#4e5959" stroke-width="0.6206896551724138" stroke-linejoin="round"/>
<path d="M377.2 125.2 L377.9 125.1 L378.7 124.9 L379.4 124.4 L380.2 123.3 L381 121.3 L381.7 117.9 L382.5 113.2 L383.2 108 L384 103.8 L384.7 100.9 L385.5 99.1 L386.3 98 L387 97.3 L387.8 96.7 L388.5 96.1 L389.3 95.5 L390.1 95 L390.8 94.4 L391.6 93.9 L392.3 93.3 L393.1 92.8 L393.8 92.3 L394.6 91.9 L395.4 91.5 L396.1 91.2 L396.9 91 L397.6 90.9 L398.4 90.8 L399.1 90.9 L399.9 91 L400.7 91.2 L401.4 91.5 L402.2 91.9 L402.9 92.3 L403.7 92.8 L404.5 93.3 L405.2 93.9 L406 94.4 L406.7 95 L407.5 95.5 L408.2 96 L409 96.5 L409.8 96.9 L410.5 97.2 L411.3 97.4 L412 97.4 L412.8 97.3 L413.5 96.9 L414.3 96.3 L415.1 95.3 L415.8 94.1 L416.6 92.7 L417.3 91.2 L418.1 89.7 L418.9 88.5 L419.6 87.7 L420.4 87.5 L421.1 88 L421.9 89.3 L422.6 91.1 L423.4 93.5 L424.2 96.3 L424.9 99.5 L425.7 102.8 L426.4 106.2 L427.2 109.4 L428 112.4 L428.7 115 L429.5 117.3 L430.2 119.1 L431 120.6 L431.7 121.8 L432.5 122.7 L433.3 123.4 L434 123.9 L434.8 124.3 L435.5 124.6 L436.3 124.8 L437 124.9 L437.8 125 L438.6 125.1 L439.3 125.2 L440.1 125.2" fill="none" stroke="#485252" stroke-width="0.6293103448275862" stroke-linejoin="round"/>
<path d="M377.2 125.2 L377.9 125.1 L378.7 124.9 L379.4 124.4 L380.2 123.3 L381 121.2 L381.7 117.7 L382.5 112.7 L383.2 107.5 L384 103.3 L384.7 100.5 L385.5 98.9 L386.3 97.9 L387 97.1 L387.8 96.5 L388.5 96 L389.3 95.4 L390.1 94.9 L390.8 94.3 L391.6 93.8 L392.3 93.2 L393.1 92.7 L393.8 92.2 L394.6 91.8 L395.4 91.4 L396.1 91.1 L396.9 90.9 L397.6 90.8 L398.4 90.7 L399.1 90.8 L399.9 90.9 L400.7 91.1 L401.4 91.4 L402.2 91.8 L402.9 92.2 L403.7 92.7 L404.5 93.2 L405.2 93.8 L406 94.3 L406.7 94.9 L407.5 95.4 L408.2 95.9 L409 96.3 L409.8 96.7 L410.5 97 L411.3 97.1 L412 97 L412.8 96.8 L413.5 96.3 L414.3 95.5 L415.1 94.5 L415.8 93.3 L416.6 92.1 L417.3 90.9 L418.1 90 L418.9 89.5 L419.6 89.6 L420.4 90.4 L421.1 91.8 L421.9 93.7 L422.6 96.2 L423.4 99 L424.2 102.1 L424.9 105.3 L425.7 108.5 L426.4 111.5 L427.2 114.2 L428 116.6 L428.7 118.6 L429.5 120.2 L430.2 121.5 L431 122.5 L431.7 123.2 L432.5 123.8 L433.3 124.2 L434 124.5 L434.8 124.7 L435.5 124.9 L436.3 125 L437 125.1 L437.8 125.1 L438.6 125.2" fill="none" stroke="#424b4b" stroke-width="0.6379310344827587" stroke-linejoin="round"/>
<path d="M377.2 125.2 L377.9 125.1 L378.7 124.9 L379.4 124.4 L380.2 123.3 L381 121.1 L381.7 117.4 L382.5 112.2 L383.2 107 L384 102.9 L384.7 100.3 L385.5 98.7 L386.3 97.8 L387 97.1 L387.8 96.5 L388.5 96 L389.3 95.4 L390.1 94.9 L390.8 94.3 L391.6 93.8 L392.3 93.2 L393.1 92.7 L393.8 92.2 L394.6 91.8 L395.4 91.4 L396.1 91.1 L396.9 90.9 L397.6 90.8 L398.4 90.7 L399.1 90.8 L399.9 90.9 L400.7 91.1 L401.4 91.4 L402.2 91.8 L402.9 92.2 L403.7 92.7 L404.5 93.2 L405.2 93.8 L406 94.3 L406.7 94.9 L407.5 95.4 L408.2 95.9 L409 96.3 L409.8 96.6 L410.5 96.8 L411.3 96.8 L412 96.6 L412.8 96.3 L413.5 95.7 L414.3 94.9 L415.1 94 L415.8 93 L416.6 92.1 L417.3 91.5 L418.1 91.4 L418.9 91.7 L419.6 92.7 L420.4 94.3 L421.1 96.3 L421.9 98.8 L422.6 101.6 L423.4 104.6 L424.2 107.7 L424.9 110.7 L425.7 113.5 L426.4 115.9 L427.2 118 L428 119.7 L428.7 121.1 L429.5 122.2 L430.2 123 L431 123.6 L431.7 124.1 L432.5 124.4 L433.3 124.7 L434 124.8 L434.8 125 L435.5 125.1 L436.3 125.1 L437 125.2 L437.8 125.2" fill="none" stroke="#3d4545" stroke-width="0.646551724137931" stroke-linejoin="round"/>
<path d="M377.2 125.2 L377.9 125.1 L378.7 124.9 L379.4 124.4 L380.2 123.2 L381 121 L381.7 117.1 L382.5 111.8 L383.2 106.5 L384 102.5 L384.7 100.1 L385.5 98.7 L386.3 97.8 L387 97.1 L387.8 96.6 L388.5 96 L389.3 95.5 L390.1 94.9 L390.8 94.4 L391.6 93.8 L392.3 93.3 L393.1 92.8 L393.8 92.3 L394.6 91.9 L395.4 91.5 L396.1 91.2 L396.9 91 L397.6 90.9 L398.4 90.8 L399.1 90.9 L399.9 91 L400.7 91.2 L401.4 91.5 L402.2 91.9 L402.9 92.3 L403.7 92.8 L404.5 93.3 L405.2 93.9 L406 94.4 L406.7 94.9 L407.5 95.4 L408.2 95.9 L409 96.2 L409.8 96.5 L410.5 96.6 L411.3 96.6 L412 96.3 L412.8 95.9 L413.5 95.3 L414.3 94.6 L415.1 93.9 L415.8 93.3 L416.6 93.1 L417.3 93.2 L418.1 93.8 L418.9 95 L419.6 96.7 L420.4 98.8 L421.1 101.3 L421.9 104.1 L422.6 107.1 L423.4 110 L424.2 112.8 L424.9 115.3 L425.7 117.4 L426.4 119.3 L427.2 120.7 L428 121.9 L428.7 122.8 L429.5 123.5 L430.2 124 L431 124.3 L431.7 124.6 L432.5 124.8 L433.3 124.9 L434 125 L434.8 125.1 L435.5 125.2 L436.3 125.2" fill="none" stroke="#384040" stroke-width="0.6551724137931034" stroke-linejoin="round"/>
<path d="M377.2 125.2 L377.9 125.1 L378.7 124.9 L379.4 124.4 L380.2 123.2 L381 120.9 L381.7 116.8 L382.5 111.4 L383.2 106.1 L384 102.3 L384.7 100 L385.5 98.7 L386.3 97.9 L387 97.3 L387.8 96.7 L388.5 96.2 L389.3 95.7 L390.1 95.1 L390.8 94.6 L391.6 94 L392.3 93.5 L393.1 93 L393.8 92.5 L394.6 92.1 L395.4 91.7 L396.1 91.4 L396.9 91.2 L397.6 91.1 L398.4 91 L399.1 91.1 L399.9 91.2 L400.7 91.4 L401.4 91.7 L402.2 92.1 L402.9 92.5 L403.7 93 L404.5 93.5 L405.2 94 L406 94.6 L406.7 95.1 L407.5 95.6 L408.2 96 L409 96.3 L409.8 96.5 L410.5 96.5 L411.3 96.4 L412 96.1 L412.8 95.7 L413.5 95.2 L414.3 94.8 L415.1 94.6 L415.8 94.6 L416.6 95 L417.3 95.9 L418.1 97.2 L418.9 99 L419.6 101.2 L420.4 103.8 L421.1 106.5 L421.9 109.4 L422.6 112.1 L423.4 114.7 L424.2 116.9 L424.9 118.8 L425.7 120.4 L426.4 121.6 L427.2 122.6 L428 123.3 L428.7 123.9 L429.5 124.2 L430.2 124.5 L431 124.7 L431.7 124.9 L432.5 125 L433.3 125.1 L434 125.1 L434.8 125.2" fill="none" stroke="#343a3a" stroke-width="0.6637931034482758" stroke-linejoin="round"/>
<path d="M377.2 125.2 L377.9 125.1 L378.7 124.9 L379.4 124.4 L380.2 123.2 L381 120.8 L381.7 116.6 L382.5 111 L383.2 105.8 L384 102.2 L384.7 100 L385.5 98.8 L386.3 98.1 L387 97.5 L387.8 97 L388.5 96.5 L389.3 95.9 L390.1 95.4 L390.8 94.9 L391.6 94.3 L392.3 93.8 L393.1 93.3 L393.8 92.8 L394.6 92.4 L395.4 92 L396.1 91.7 L396.9 91.5 L397.6 91.4 L398.4 91.4 L399.1 91.4 L399.9 91.5 L400.7 91.8 L401.4 92 L402.2 92.4 L402.9 92.8 L403.7 93.3 L404.5 93.8 L405.2 94.3 L406 94.8 L406.7 95.3 L407.5 95.8 L408.2 96.1 L409 96.4 L409.8 96.5 L410.5 96.5 L411.3 96.4 L412 96.2 L412.8 95.9 L413.5 95.8 L414.3 95.8 L415.1 96.1 L415.8 96.8 L416.6 97.9 L417.3 99.4 L418.1 101.3 L418.9 103.6 L419.6 106.2 L420.4 108.9 L421.1 111.6 L421.9 114.1 L422.6 116.4 L423.4 118.4 L424.2 120 L424.9 121.4 L425.7 122.4 L426.4 123.2 L427.2 123.7 L428 124.2 L428.7 124.5 L429.5 124.7 L430.2 124.9 L431 125 L431.7 125.1 L432.5 125.1 L433.3 125.2" fill="none" stroke="#303535" stroke-width="0.6724137931034483" stroke-linejoin="round"/>
<path d="M377.2 125.2 L377.9 125.1 L378.7 124.9 L379.4 124.4 L380.2 123.2 L381 120.7 L381.7 116.4 L382.5 110.7 L383.2 105.5 L384 102.1 L384.7 100.2 L385.5 99.1 L386.3 98.4 L387 97.8 L387.8 97.3 L388.5 96.8 L389.3 96.3 L390.1 95.8 L390.8 95.3 L391.6 94.7 L392.3 94.2 L393.1 93.7 L393.8 93.2 L394.6 92.8 L395.4 92.5 L396.1 92.2 L396.9 92 L397.6 91.8 L398.4 91.8 L399.1 91.8 L399.9 92 L400.7 92.2 L401.4 92.5 L402.2 92.8 L402.9 93.2 L403.7 93.7 L404.5 94.2 L405.2 94.7 L406 95.2 L406.7 95.6 L407.5 96 L408.2 96.3 L409 96.5 L409.8 96.7 L410.5 96.7 L411.3 96.7 L412 96.7 L412.8 96.8 L413.5 97.1 L414.3 97.6 L415.1 98.6 L415.8 99.9 L416.6 101.6 L417.3 103.7 L418.1 106 L418.9 108.5 L419.6 111.1 L420.4 113.7 L421.1 116 L421.9 118 L422.6 119.7 L423.4 121.1 L424.2 122.2 L424.9 123 L425.7 123.6 L426.4 124.1 L427.2 124.4 L428 124.7 L428.7 124.8 L429.5 125 L430.2 125.1 L431 125.1 L431.7 125.2" fill="none" stroke="#2c3131" stroke-width="0.6810344827586207" stroke-linejoin="round"/>
<path d="M377.2 125.2 L377.9 125.2 L378.7 124.9 L379.4 124.4 L380.2 123.2 L381 120.6 L381.7 116.1 L382.5 110.4 L383.2 105.4 L384 102.2 L384.7 100.4 L385.5 99.4 L386.3 98.8 L387 98.3 L387.8 97.8 L388.5 97.3 L389.3 96.8 L390.1 96.3 L390.8 95.7 L391.6 95.2 L392.3 94.7 L393.1 94.2 L393.8 93.7 L394.6 93.3 L395.4 93 L396.1 92.7 L396.9 92.5 L397.6 92.4 L398.4 92.3 L399.1 92.4 L399.9 92.5 L400.7 92.7 L401.4 93 L402.2 93.4 L402.9 93.8 L403.7 94.2 L404.5 94.7 L405.2 95.2 L406 95.6 L406.7 96 L407.5 96.4 L408.2 96.7 L409 96.9 L409.8 97.1 L410.5 97.2 L411.3 97.5 L412 97.8 L412.8 98.4 L413.5 99.2 L414.3 100.4 L415.1 101.9 L415.8 103.8 L416.6 106 L417.3 108.4 L418.1 110.9 L418.9 113.3 L419.6 115.7 L420.4 117.7 L421.1 119.5 L421.9 120.9 L422.6 122.1 L423.4 122.9 L424.2 123.6 L424.9 124 L425.7 124.4 L426.4 124.7 L427.2 124.8 L428 125 L428.7 125.1 L429.5 125.1 L430.2 125.2" fill="none" stroke="#292d2d" stroke-width="0.6896551724137931" stroke-linejoin="round"/>
<path d="M377.2 125.2 L377.9 125.2 L378.7 125 L379.4 124.4 L380.2 123.2 L381 120.6 L381.7 115.9 L382.5 110.2 L383.2 105.3 L384 102.3 L384.7 100.7 L385.5 99.8 L386.3 99.3 L387 98.8 L387.8 98.3 L388.5 97.8 L389.3 97.3 L390.1 96.8 L390.8 96.3 L391.6 95.8 L392.3 95.3 L393.1 94.8 L393.8 94.4 L394.6 94 L395.4 93.6 L396.1 93.3 L396.9 93.1 L397.6 93 L398.4 93 L399.1 93 L399.9 93.1 L400.7 93.4 L401.4 93.6 L402.2 94 L402.9 94.4 L403.7 94.8 L404.5 95.3 L405.2 95.7 L406 96.1 L406.7 96.5 L407.5 96.9 L408.2 97.2 L409 97.6 L409.8 97.9 L410.5 98.4 L411.3 99 L412 99.8 L412.8 100.9 L413.5 102.3 L414.3 104.1 L415.1 106.1 L415.8 108.3 L416.6 110.8 L417.3 113.2 L418.1 115.5 L418.9 117.6 L419.6 119.3 L420.4 120.8 L421.1 122 L421.9 122.9 L422.6 123.5 L423.4 124 L424.2 124.4 L424.9 124.6 L425.7 124.8 L426.4 125 L427.2 125.1 L428 125.1 L428.7 125.2" fill="none" stroke="#262929" stroke-width="0.6982758620689655" stroke-linejoin="round"/>
<path d="M377.9 125.2 L378.7 125 L379.4 124.5 L380.2 123.2 L381 120.5 L381.7 115.8 L382.5 110 L383.2 105.3 L384 102.6 L384.7 101.2 L385.5 100.4 L386.3 99.8 L387 99.4 L387.8 98.9 L388.5 98.5 L389.3 98 L390.1 97.5 L390.8 97 L391.6 96.5 L392.3 96 L393.1 95.5 L393.8 95.1 L394.6 94.7 L395.4 94.4 L396.1 94.1 L396.9 93.9 L397.6 93.8 L398.4 93.7 L399.1 93.8 L399.9 93.9 L400.7 94.1 L401.4 94.4 L402.2 94.7 L402.9 95.1 L403.7 95.5 L404.5 95.9 L405.2 96.4 L406 96.8 L406.7 97.3 L407.5 97.7 L408.2 98.2 L409 98.7 L409.8 99.4 L410.5 100.3 L411.3 101.4 L412 102.7 L412.8 104.4 L413.5 106.3 L414.3 108.5 L415.1 110.8 L415.8 113.2 L416.6 115.5 L417.3 117.5 L418.1 119.3 L418.9 120.8 L419.6 122 L420.4 122.9 L421.1 123.6 L421.9 124.1 L422.6 124.4 L423.4 124.7 L424.2 124.9 L424.9 125 L425.7 125.1 L426.4 125.1 L427.2 125.2" fill="none" stroke="#232626" stroke-width="0.7068965517241379" stroke-linejoin="round"/>
<path d="M377.9 125.2 L378.7 125 L379.4 124.5 L380.2 123.2 L381 120.4 L381.7 115.6 L382.5 109.9 L383.2 105.4 L384 103 L384.7 101.7 L385.5 101 L386.3 100.5 L387 100.1 L387.8 99.6 L388.5 99.2 L389.3 98.7 L390.1 98.3 L390.8 97.8 L391.6 97.3 L392.3 96.8 L393.1 96.3 L393.8 95.9 L394.6 95.5 L395.4 95.2 L396.1 94.9 L396.9 94.7 L397.6 94.6 L398.4 94.6 L399.1 94.6 L399.9 94.8 L400.7 95 L401.4 95.2 L402.2 95.6 L402.9 95.9 L403.7 96.4 L404.5 96.8 L405.2 97.3 L406 97.8 L406.7 98.3 L407.5 99 L408.2 99.7 L409 100.6 L409.8 101.8 L410.5 103.1 L411.3 104.7 L412 106.6 L412.8 108.8 L413.5 111.1 L414.3 113.4 L415.1 115.7 L415.8 117.8 L416.6 119.5 L417.3 121 L418.1 122.1 L418.9 123 L419.6 123.7 L420.4 124.1 L421.1 124.5 L421.9 124.7 L422.6 124.9 L423.4 125 L424.2 125.1 L424.9 125.2 L425.7 125.2" fill="none" stroke="#212323" stroke-width="0.7155172413793103" stroke-linejoin="round"/>
<path d="M377.9 125.2 L378.7 125 L379.4 124.5 L380.2 123.3 L381 120.4 L381.7 115.5 L382.5 109.8 L383.2 105.7 L384 103.4 L384.7 102.3 L385.5 101.7 L386.3 101.3 L387 100.9 L387.8 100.5 L388.5 100 L389.3 99.6 L390.1 99.1 L390.8 98.6 L391.6 98.2 L392.3 97.7 L393.1 97.3 L393.8 96.8 L394.6 96.5 L395.4 96.2 L396.1 95.9 L396.9 95.7 L397.6 95.6 L398.4 95.6 L399.1 95.6 L399.9 95.7 L400.7 95.9 L401.4 96.2 L402.2 96.6 L402.9 97 L403.7 97.4 L404.5 97.9 L405.2 98.5 L406 99.2 L406.7 100 L407.5 101 L408.2 102.2 L409 103.6 L409.8 105.2 L410.5 107.2 L411.3 109.3 L412 111.7 L412.8 114 L413.5 116.3 L414.3 118.3 L415.1 120 L415.8 121.4 L416.6 122.5 L417.3 123.3 L418.1 123.9 L418.9 124.3 L419.6 124.6 L420.4 124.8 L421.1 125 L421.9 125.1 L422.6 125.1 L423.4 125.2" fill="none" stroke="#1f2121" stroke-width="0.7241379310344828" stroke-linejoin="round"/>
<path d="M377.9 125.2 L378.7 125 L379.4 124.6 L380.2 123.3 L381 120.4 L381.7 115.4 L382.5 109.8 L383.2 106 L384 104 L384.7 103.1 L385.5 102.5 L386.3 102.1 L387 101.7 L387.8 101.4 L388.5 100.9 L389.3 100.5 L390.1 100.1 L390.8 99.6 L391.6 99.1 L392.3 98.7 L393.1 98.3 L393.8 97.9 L394.6 97.5 L395.4 97.2 L396.1 97 L396.9 96.8 L397.6 96.7 L398.4 96.7 L399.1 96.7 L399.9 96.9 L400.7 97.1 L401.4 97.4 L402.2 97.8 L402.9 98.3 L403.7 98.9 L404.5 99.6 L405.2 100.4 L406 101.5 L406.7 102.7 L407.5 104.3 L408.2 106.1 L409 108.1 L409.8 110.4 L410.5 112.8 L411.3 115.1 L412 117.3 L412.8 119.2 L413.5 120.8 L414.3 122 L415.1 123 L415.8 123.7 L416.6 124.2 L417.3 124.5 L418.1 124.8 L418.9 124.9 L419.6 125 L420.4 125.1 L421.1 125.2" fill="none" stroke="#1d2020" stroke-width="0.7327586206896551" stroke-linejoin="round"/>
<path d="M377.9 125.2 L378.7 125.1 L379.4 124.6 L380.2 123.3 L381 120.4 L381.7 115.3 L382.5 110 L383.2 106.5 L384 104.8 L384.7 103.9 L385.5 103.5 L386.3 103.1 L387 102.7 L387.8 102.3 L388.5 102 L389.3 101.5 L390.1 101.1 L390.8 100.7 L391.6 100.2 L392.3 99.8 L393.1 99.4 L393.8 99 L394.6 98.7 L395.4 98.4 L396.1 98.2 L396.9 98 L397.6 98 L398.4 98 L399.1 98.1 L399.9 98.3 L400.7 98.6 L401.4 99 L402.2 99.6 L402.9 100.3 L403.7 101.3 L404.5 102.5 L405.2 104 L406 105.7 L406.7 107.8 L407.5 110.1 L408.2 112.6 L409 115 L409.8 117.3 L410.5 119.3 L411.3 120.9 L412 122.1 L412.8 123.1 L413.5 123.8 L414.3 124.2 L415.1 124.6 L415.8 124.8 L416.6 125 L417.3 125.1 L418.1 125.1 L418.9 125.2" fill="none" stroke="#1c1e1e" stroke-width="0.7413793103448276" stroke-linejoin="round"/>
<path d="M377.9 125.2 L378.7 125.1 L379.4 124.6 L380.2 123.4 L381 120.4 L381.7 115.4 L382.5 110.2 L383.2 107.1 L384 105.6 L384.7 104.9 L385.5 104.5 L386.3 104.1 L387 103.8 L387.8 103.4 L388.5 103.1 L389.3 102.7 L390.1 102.3 L390.8 101.9 L391.6 101.4 L392.3 101.1 L393.1 100.7 L393.8 100.4 L394.6 100.1 L395.4 99.9 L396.1 99.7 L396.9 99.7 L397.6 99.9 L398.4 100.2 L399.1 100.7 L399.9 101.4 L400.7 102.5 L401.4 104 L402.2 105.8 L402.9 108 L403.7 110.5 L404.5 113.2 L405.2 115.7 L406 118 L406.7 120 L407.5 121.5 L408.2 122.6 L409 123.5 L409.8 124.1 L410.5 124.5 L411.3 124.7 L412 124.9 L412.8 125.1 L413.5 125.1 L414.3 125.2" fill="none" stroke="#1c1e1e" stroke-width="0.75" stroke-linejoin="round"/>
<rect x="371.1" y="30.7" width="75.8" height="94.6" fill="none" stroke="#111" stroke-width="0.8"/>
<line x1="371.1" y1="125.3" x2="371.1" y2="123.8" stroke="#000" stroke-width="0.5"/>
<text x="371.1" y="134" font-size="7.9" text-anchor="middle" stroke="#000" stroke-width="0.1">-20</text>
<line x1="386.3" y1="125.3" x2="386.3" y2="123.8" stroke="#000" stroke-width="0.5"/>
<text x="386.3" y="134" font-size="7.9" text-anchor="middle" stroke="#000" stroke-width="0.1">0</text>
<line x1="401.4" y1="125.3" x2="401.4" y2="123.8" stroke="#000" stroke-width="0.5"/>
<text x="401.4" y="134" font-size="7.9" text-anchor="middle" stroke="#000" stroke-width="0.1">20</text>
<line x1="416.6" y1="125.3" x2="416.6" y2="123.8" stroke="#000" stroke-width="0.5"/>
<text x="416.6" y="134" font-size="7.9" text-anchor="middle" stroke="#000" stroke-width="0.1">40</text>
<line x1="431.7" y1="125.3" x2="431.7" y2="123.8" stroke="#000" stroke-width="0.5"/>
<text x="431.7" y="134" font-size="7.9" text-anchor="middle" stroke="#000" stroke-width="0.1">60</text>
<line x1="446.9" y1="125.3" x2="446.9" y2="123.8" stroke="#000" stroke-width="0.5"/>
<text x="446.9" y="134" font-size="7.9" text-anchor="middle" stroke="#000" stroke-width="0.1">80</text>
<line x1="371.1" y1="103.8" x2="372.6" y2="103.8" stroke="#000" stroke-width="0.5"/>
<line x1="371.1" y1="82.2" x2="372.6" y2="82.2" stroke="#000" stroke-width="0.5"/>
<line x1="371.1" y1="60.7" x2="372.6" y2="60.7" stroke="#000" stroke-width="0.5"/>
<line x1="371.1" y1="39.2" x2="372.6" y2="39.2" stroke="#000" stroke-width="0.5"/>
<text x="369.6" y="41.8" font-size="7.9" text-anchor="end" stroke="#000" stroke-width="0.1">100</text>
<text x="371.6" y="27.6" font-size="7.9" stroke="#000" stroke-width="0.1">Time <tspan font-style="italic">t</tspan> = 1e-4s</text>
<text x="367.2" y="84.3" font-size="7.9" text-anchor="middle" transform="rotate(-90 367.2 84.3)" stroke="#000" stroke-width="0.1">Δ<tspan font-style="italic">E</tspan><tspan font-style="italic">τ</tspan> [MPa]</text>
<text x="409" y="141.3" font-size="7.9" text-anchor="middle" stroke="#000" stroke-width="0.1"><tspan font-style="italic">T</tspan> [°C]</text>
<line x1="430.4" y1="45.4" x2="418.5" y2="40" stroke="#000" stroke-width="0.6"/>
<rect x="429.3" y="44.3" width="2.2" height="2.2" fill="#fff" stroke="#111" stroke-width="0.5"/>
<text x="418" y="42" font-size="7.9" text-anchor="end" stroke="#000" stroke-width="0.1">VW</text>
<line x1="386.5" y1="98.6" x2="383" y2="87" stroke="#000" stroke-width="0.6"/>
<rect x="385.4" y="97.5" width="2.2" height="2.2" fill="#fff" stroke="#111" stroke-width="0.5"/>
<text x="378.5" y="85" font-size="7.9" stroke="#000" stroke-width="0.1">AB</text>
<path d="M475 125.3 L475 109.8 L475.8 101.2 L478.8 98.6 L482.6 101.2 L486.4 107.2 L490.2 115.8 L493.2 122.7 L494.7 125.3 Z" fill="#cfe6e6" fill-opacity="0.75"/>
<path d="M475 124.3 L475.8 123.6 L476.5 122.4 L477.3 120.8 L478 118.6 L478.8 116.2 L479.5 113.9 L480.3 112 L481.1 110.5 L481.8 109.4 L482.6 108.7 L483.3 108.1 L484.1 107.6 L484.9 107.2 L485.6 106.9 L486.4 106.6 L487.1 106.3 L487.9 106.1 L488.6 105.9 L489.4 105.8 L490.2 105.7 L490.9 105.7 L491.7 105.7 L492.4 105.8 L493.2 105.9 L493.9 106.1 L494.7 106.3 L495.5 106.5 L496.2 106.8 L497 107.1 L497.7 107.4 L498.5 107.7 L499.3 108 L500 108.3 L500.8 108.6 L501.5 108.9 L502.3 109.2 L503 109.4 L503.8 109.6 L504.6 109.7 L505.3 109.7 L506.1 109.7 L506.8 109.5 L507.6 109.1 L508.4 108.4 L509.1 107.3 L509.9 105.7 L510.6 103.5 L511.4 100.5 L512.1 96.6 L512.9 91.8 L513.7 86.1 L514.4 79.6 L515.2 72.3 L515.9 64.8 L516.7 57.2 L517.4 50.2 L518.2 44.2 L519 39.6 L519.7 36.9 L520.5 36.4 L521.2 37.4 L522 39.4 L522.8 42.4 L523.5 46.3 L524.3 50.9 L525 56 L525.8 61.6 L526.5 67.4 L527.3 73.4 L528.1 79.3 L528.8 85 L529.6 90.4 L530.3 95.5 L531.1 100.1 L531.8 104.3 L532.6 107.9 L533.4 111.1 L534.1 113.9 L534.9 116.2 L535.6 118.1 L536.4 119.7 L537.2 121 L537.9 122 L538.7 122.8 L539.4 123.5 L540.2 123.9 L540.9 124.3 L541.7 124.6 L542.5 124.8 L543.2 124.9 L544 125 L544.7 125.1 L545.5 125.2" fill="none" stroke="#bfdede" stroke-width="0.5" stroke-linejoin="round"/>
<path d="M475 124.2 L475.8 123.4 L476.5 122.1 L477.3 120.2 L478 117.8 L478.8 115.1 L479.5 112.6 L480.3 110.6 L481.1 109 L481.8 107.9 L482.6 107.1 L483.3 106.5 L484.1 106 L484.9 105.6 L485.6 105.2 L486.4 104.9 L487.1 104.6 L487.9 104.4 L488.6 104.2 L489.4 104 L490.2 103.9 L490.9 103.9 L491.7 103.9 L492.4 104 L493.2 104.2 L493.9 104.4 L494.7 104.6 L495.5 104.8 L496.2 105.1 L497 105.5 L497.7 105.8 L498.5 106.1 L499.3 106.5 L500 106.8 L500.8 107.1 L501.5 107.4 L502.3 107.7 L503 107.9 L503.8 108.1 L504.6 108.3 L505.3 108.3 L506.1 108.2 L506.8 107.9 L507.6 107.4 L508.4 106.6 L509.1 105.3 L509.9 103.4 L510.6 100.9 L511.4 97.6 L512.1 93.4 L512.9 88.3 L513.7 82.4 L514.4 75.8 L515.2 68.8 L515.9 61.7 L516.7 55 L517.4 49.2 L518.2 44.6 L519 41.8 L519.7 41 L520.5 41.9 L521.2 43.7 L522 46.6 L522.8 50.2 L523.5 54.6 L524.3 59.6 L525 65 L525.8 70.6 L526.5 76.4 L527.3 82.1 L528.1 87.6 L528.8 92.8 L529.6 97.6 L530.3 102 L531.1 106 L531.8 109.4 L532.6 112.4 L533.4 115 L534.1 117.1 L534.9 118.9 L535.6 120.4 L536.4 121.5 L537.2 122.4 L537.9 123.2 L538.7 123.7 L539.4 124.1 L540.2 124.5 L540.9 124.7 L541.7 124.9 L542.5 125 L543.2 125.1 L544 125.1 L544.7 125.2" fill="none" stroke="#b5d2d2" stroke-width="0.5086206896551724" stroke-linejoin="round"/>
<path d="M475 124.1 L475.8 123.2 L476.5 121.8 L477.3 119.7 L478 117 L478.8 114.1 L479.5 111.4 L480.3 109.2 L481.1 107.6 L481.8 106.5 L482.6 105.7 L483.3 105 L484.1 104.5 L484.9 104 L485.6 103.7 L486.4 103.3 L487.1 103 L487.9 102.8 L488.6 102.5 L489.4 102.4 L490.2 102.3 L490.9 102.3 L491.7 102.3 L492.4 102.4 L493.2 102.5 L493.9 102.7 L494.7 103 L495.5 103.3 L496.2 103.6 L497 103.9 L497.7 104.3 L498.5 104.7 L499.3 105 L500 105.4 L500.8 105.7 L501.5 106.1 L502.3 106.4 L503 106.6 L503.8 106.8 L504.6 106.9 L505.3 106.9 L506.1 106.8 L506.8 106.4 L507.6 105.8 L508.4 104.8 L509.1 103.3 L509.9 101.1 L510.6 98.3 L511.4 94.7 L512.1 90.2 L512.9 84.9 L513.7 78.9 L514.4 72.4 L515.2 65.8 L515.9 59.5 L516.7 53.9 L517.4 49.4 L518.2 46.5 L519 45.4 L519.7 46.1 L520.5 47.9 L521.2 50.5 L522 54 L522.8 58.2 L523.5 63 L524.3 68.3 L525 73.7 L525.8 79.3 L526.5 84.8 L527.3 90.1 L528.1 95.1 L528.8 99.7 L529.6 103.9 L530.3 107.6 L531.1 110.9 L531.8 113.7 L532.6 116.1 L533.4 118 L534.1 119.7 L534.9 121 L535.6 122 L536.4 122.8 L537.2 123.5 L537.9 124 L538.7 124.3 L539.4 124.6 L540.2 124.8 L540.9 124.9 L541.7 125 L542.5 125.1 L543.2 125.2" fill="none" stroke="#abc7c7" stroke-width="0.5172413793103449" stroke-linejoin="round"/>
<path d="M475 124 L475.8 123 L476.5 121.5 L477.3 119.2 L478 116.2 L478.8 113.1 L479.5 110.2 L480.3 107.9 L481.1 106.3 L481.8 105.1 L482.6 104.3 L483.3 103.6 L484.1 103.1 L484.9 102.6 L485.6 102.2 L486.4 101.8 L487.1 101.5 L487.9 101.3 L488.6 101 L489.4 100.9 L490.2 100.8 L490.9 100.7 L491.7 100.8 L492.4 100.9 L493.2 101 L493.9 101.2 L494.7 101.5 L495.5 101.8 L496.2 102.2 L497 102.5 L497.7 102.9 L498.5 103.3 L499.3 103.7 L500 104.1 L500.8 104.4 L501.5 104.8 L502.3 105.1 L503 105.3 L503.8 105.5 L504.6 105.6 L505.3 105.6 L506.1 105.4 L506.8 104.9 L507.6 104.1 L508.4 102.9 L509.1 101.2 L509.9 98.8 L510.6 95.6 L511.4 91.7 L512.1 87 L512.9 81.6 L513.7 75.7 L514.4 69.6 L515.2 63.6 L515.9 58.3 L516.7 53.9 L517.4 51 L518.2 49.7 L519 50.3 L519.7 51.9 L520.5 54.4 L521.2 57.7 L522 61.8 L522.8 66.4 L523.5 71.4 L524.3 76.7 L525 82.1 L525.8 87.4 L526.5 92.5 L527.3 97.3 L528.1 101.7 L528.8 105.7 L529.6 109.2 L530.3 112.2 L531.1 114.8 L531.8 117 L532.6 118.9 L533.4 120.3 L534.1 121.5 L534.9 122.5 L535.6 123.2 L536.4 123.7 L537.2 124.2 L537.9 124.5 L538.7 124.7 L539.4 124.9 L540.2 125 L540.9 125.1 L541.7 125.2 L542.5 125.2" fill="none" stroke="#a2bcbc" stroke-width="0.5258620689655172" stroke-linejoin="round"/>
<path d="M475 123.9 L475.8 122.9 L476.5 121.1 L477.3 118.6 L478 115.4 L478.8 112 L479.5 109 L480.3 106.7 L481.1 105 L481.8 103.8 L482.6 103 L483.3 102.3 L484.1 101.8 L484.9 101.3 L485.6 100.9 L486.4 100.5 L487.1 100.1 L487.9 99.9 L488.6 99.6 L489.4 99.5 L490.2 99.4 L490.9 99.3 L491.7 99.4 L492.4 99.5 L493.2 99.6 L493.9 99.8 L494.7 100.1 L495.5 100.5 L496.2 100.8 L497 101.2 L497.7 101.6 L498.5 102 L499.3 102.4 L500 102.8 L500.8 103.2 L501.5 103.6 L502.3 103.9 L503 104.2 L503.8 104.3 L504.6 104.4 L505.3 104.3 L506.1 104 L506.8 103.4 L507.6 102.5 L508.4 101.1 L509.1 99 L509.9 96.4 L510.6 92.9 L511.4 88.8 L512.1 83.9 L512.9 78.6 L513.7 72.9 L514.4 67.4 L515.2 62.3 L515.9 58.1 L516.7 55.2 L517.4 53.9 L518.2 54.3 L519 55.8 L519.7 58.1 L520.5 61.3 L521.2 65.2 L522 69.7 L522.8 74.5 L523.5 79.6 L524.3 84.8 L525 89.9 L525.8 94.8 L526.5 99.4 L527.3 103.6 L528.1 107.4 L528.8 110.7 L529.6 113.5 L530.3 115.9 L531.1 118 L531.8 119.6 L532.6 121 L533.4 122 L534.1 122.9 L534.9 123.5 L535.6 124 L536.4 124.3 L537.2 124.6 L537.9 124.8 L538.7 125 L539.4 125.1 L540.2 125.1 L540.9 125.2" fill="none" stroke="#99b1b1" stroke-width="0.5344827586206897" stroke-linejoin="round"/>
<path d="M475 123.9 L475.8 122.7 L476.5 120.8 L477.3 118.1 L478 114.6 L478.8 111 L479.5 107.9 L480.3 105.5 L481.1 103.8 L481.8 102.7 L482.6 101.8 L483.3 101.1 L484.1 100.6 L484.9 100.1 L485.6 99.6 L486.4 99.2 L487.1 98.9 L487.9 98.6 L488.6 98.3 L489.4 98.2 L490.2 98 L490.9 98 L491.7 98 L492.4 98.1 L493.2 98.3 L493.9 98.6 L494.7 98.9 L495.5 99.2 L496.2 99.6 L497 100 L497.7 100.4 L498.5 100.8 L499.3 101.3 L500 101.7 L500.8 102.1 L501.5 102.5 L502.3 102.8 L503 103 L503.8 103.2 L504.6 103.2 L505.3 103.1 L506.1 102.7 L506.8 102 L507.6 100.8 L508.4 99.1 L509.1 96.9 L509.9 93.9 L510.6 90.2 L511.4 85.9 L512.1 81.1 L512.9 76 L513.7 70.8 L514.4 66.1 L515.2 62.1 L515.9 59.2 L516.7 57.8 L517.4 58.1 L518.2 59.5 L519 61.7 L519.7 64.8 L520.5 68.5 L521.2 72.8 L522 77.5 L522.8 82.5 L523.5 87.5 L524.3 92.4 L525 97.1 L525.8 101.4 L526.5 105.4 L527.3 109 L528.1 112.1 L528.8 114.7 L529.6 117 L530.3 118.8 L531.1 120.3 L531.8 121.5 L532.6 122.5 L533.4 123.2 L534.1 123.8 L534.9 124.2 L535.6 124.5 L536.4 124.7 L537.2 124.9 L537.9 125 L538.7 125.1 L539.4 125.2 L540.2 125.2" fill="none" stroke="#90a7a7" stroke-width="0.5431034482758621" stroke-linejoin="round"/>
<path d="M475 123.8 L475.8 122.5 L476.5 120.5 L477.3 117.5 L478 113.9 L478.8 110.1 L479.5 106.8 L480.3 104.4 L481.1 102.7 L481.8 101.6 L482.6 100.7 L483.3 100 L484.1 99.4 L484.9 98.9 L485.6 98.5 L486.4 98.1 L487.1 97.7 L487.9 97.4 L488.6 97.1 L489.4 97 L490.2 96.8 L490.9 96.8 L491.7 96.8 L492.4 97 L493.2 97.1 L493.9 97.4 L494.7 97.7 L495.5 98 L496.2 98.4 L497 98.9 L497.7 99.3 L498.5 99.8 L499.3 100.2 L500 100.7 L500.8 101.1 L501.5 101.4 L502.3 101.8 L503 102 L503.8 102.1 L504.6 102.1 L505.3 101.9 L506.1 101.4 L506.8 100.5 L507.6 99.1 L508.4 97.2 L509.1 94.7 L509.9 91.5 L510.6 87.7 L511.4 83.3 L512.1 78.7 L512.9 73.9 L513.7 69.5 L514.4 65.8 L515.2 63 L515.9 61.6 L516.7 61.7 L517.4 63 L518.2 65.2 L519 68.1 L519.7 71.7 L520.5 75.9 L521.2 80.4 L522 85.2 L522.8 90 L523.5 94.7 L524.3 99.2 L525 103.4 L525.8 107.2 L526.5 110.5 L527.3 113.4 L528.1 115.9 L528.8 117.9 L529.6 119.6 L530.3 121 L531.1 122 L531.8 122.9 L532.6 123.5 L533.4 124 L534.1 124.4 L534.9 124.6 L535.6 124.8 L536.4 125 L537.2 125.1 L537.9 125.1 L538.7 125.2" fill="none" stroke="#879d9d" stroke-width="0.5517241379310345" stroke-linejoin="round"/>
<path d="M475 123.7 L475.8 122.4 L476.5 120.2 L477.3 117 L478 113.1 L478.8 109.1 L479.5 105.8 L480.3 103.4 L481.1 101.7 L481.8 100.5 L482.6 99.7 L483.3 99 L484.1 98.4 L484.9 97.9 L485.6 97.4 L486.4 97 L487.1 96.6 L487.9 96.3 L488.6 96 L489.4 95.9 L490.2 95.7 L490.9 95.7 L491.7 95.7 L492.4 95.9 L493.2 96 L493.9 96.3 L494.7 96.6 L495.5 97 L496.2 97.4 L497 97.8 L497.7 98.3 L498.5 98.8 L499.3 99.2 L500 99.7 L500.8 100.1 L501.5 100.5 L502.3 100.8 L503 101 L503.8 101.1 L504.6 101 L505.3 100.7 L506.1 100 L506.8 99 L507.6 97.4 L508.4 95.2 L509.1 92.5 L509.9 89.1 L510.6 85.3 L511.4 81.1 L512.1 76.8 L512.9 72.7 L513.7 69.2 L514.4 66.6 L515.2 65.2 L515.9 65.2 L516.7 66.5 L517.4 68.5 L518.2 71.3 L519 74.8 L519.7 78.8 L520.5 83.2 L521.2 87.8 L522 92.5 L522.8 97 L523.5 101.3 L524.3 105.3 L525 108.8 L525.8 112 L526.5 114.6 L527.3 116.9 L528.1 118.8 L528.8 120.3 L529.6 121.5 L530.3 122.5 L531.1 123.2 L531.8 123.8 L532.6 124.2 L533.4 124.5 L534.1 124.7 L534.9 124.9 L535.6 125 L536.4 125.1 L537.2 125.2 L537.9 125.2" fill="none" stroke="#7f9393" stroke-width="0.5603448275862069" stroke-linejoin="round"/>
<path d="M475 123.6 L475.8 122.2 L476.5 119.9 L477.3 116.5 L478 112.3 L478.8 108.2 L479.5 104.8 L480.3 102.4 L481.1 100.8 L481.8 99.6 L482.6 98.8 L483.3 98.1 L484.1 97.5 L484.9 97 L485.6 96.5 L486.4 96.1 L487.1 95.7 L487.9 95.3 L488.6 95.1 L489.4 94.9 L490.2 94.8 L490.9 94.7 L491.7 94.8 L492.4 94.9 L493.2 95.1 L493.9 95.3 L494.7 95.7 L495.5 96 L496.2 96.5 L497 96.9 L497.7 97.4 L498.5 97.9 L499.3 98.4 L500 98.8 L500.8 99.3 L501.5 99.6 L502.3 99.9 L503 100.1 L503.8 100.2 L504.6 100 L505.3 99.5 L506.1 98.7 L506.8 97.4 L507.6 95.6 L508.4 93.3 L509.1 90.4 L509.9 86.9 L510.6 83.2 L511.4 79.3 L512.1 75.6 L512.9 72.3 L513.7 69.9 L514.4 68.6 L515.2 68.6 L515.9 69.8 L516.7 71.7 L517.4 74.4 L518.2 77.8 L519 81.7 L519.7 85.9 L520.5 90.4 L521.2 94.8 L522 99.2 L522.8 103.3 L523.5 107 L524.3 110.4 L525 113.3 L525.8 115.8 L526.5 117.9 L527.3 119.6 L528.1 121 L528.8 122.1 L529.6 122.9 L530.3 123.5 L531.1 124 L531.8 124.4 L532.6 124.6 L533.4 124.8 L534.1 125 L534.9 125.1 L535.6 125.1 L536.4 125.2" fill="none" stroke="#778989" stroke-width="0.5689655172413793" stroke-linejoin="round"/>
<path d="M475 123.6 L475.8 122.1 L476.5 119.6 L477.3 115.9 L478 111.5 L478.8 107.3 L479.5 103.9 L480.3 101.5 L481.1 99.9 L481.8 98.8 L482.6 98 L483.3 97.3 L484.1 96.7 L484.9 96.2 L485.6 95.7 L486.4 95.2 L487.1 94.8 L487.9 94.5 L488.6 94.2 L489.4 94 L490.2 93.9 L490.9 93.8 L491.7 93.9 L492.4 94 L493.2 94.2 L493.9 94.5 L494.7 94.8 L495.5 95.2 L496.2 95.6 L497 96.1 L497.7 96.6 L498.5 97.1 L499.3 97.6 L500 98.1 L500.8 98.5 L501.5 98.9 L502.3 99.1 L503 99.3 L503.8 99.2 L504.6 99 L505.3 98.3 L506.1 97.3 L506.8 95.9 L507.6 93.9 L508.4 91.4 L509.1 88.4 L509.9 85 L510.6 81.6 L511.4 78.2 L512.1 75.2 L512.9 73 L513.7 71.8 L514.4 71.8 L515.2 72.9 L515.9 74.8 L516.7 77.4 L517.4 80.7 L518.2 84.4 L519 88.5 L519.7 92.8 L520.5 97.1 L521.2 101.3 L522 105.2 L522.8 108.7 L523.5 111.9 L524.3 114.6 L525 116.9 L525.8 118.8 L526.5 120.3 L527.3 121.6 L528.1 122.5 L528.8 123.3 L529.6 123.8 L530.3 124.2 L531.1 124.5 L531.8 124.7 L532.6 124.9 L533.4 125 L534.1 125.1 L534.9 125.2 L535.6 125.2" fill="none" stroke="#6f8080" stroke-width="0.5775862068965517" stroke-linejoin="round"/>
<path d="M475 123.5 L475.8 121.9 L476.5 119.3 L477.3 115.4 L478 110.8 L478.8 106.4 L479.5 103 L480.3 100.7 L481.1 99.1 L481.8 98 L482.6 97.2 L483.3 96.6 L484.1 96 L484.9 95.4 L485.6 94.9 L486.4 94.5 L487.1 94.1 L487.9 93.7 L488.6 93.4 L489.4 93.2 L490.2 93.1 L490.9 93.1 L491.7 93.1 L492.4 93.2 L493.2 93.4 L493.9 93.7 L494.7 94.1 L495.5 94.5 L496.2 94.9 L497 95.4 L497.7 95.9 L498.5 96.4 L499.3 96.9 L500 97.4 L500.8 97.8 L501.5 98.2 L502.3 98.4 L503 98.5 L503.8 98.3 L504.6 97.9 L505.3 97.2 L506.1 96 L506.8 94.3 L507.6 92.2 L508.4 89.6 L509.1 86.7 L509.9 83.6 L510.6 80.6 L511.4 77.9 L512.1 75.9 L512.9 74.8 L513.7 74.8 L514.4 75.9 L515.2 77.8 L515.9 80.3 L516.7 83.5 L517.4 87.1 L518.2 91.1 L519 95.2 L519.7 99.3 L520.5 103.3 L521.2 107 L522 110.3 L522.8 113.3 L523.5 115.8 L524.3 117.9 L525 119.6 L525.8 121 L526.5 122.1 L527.3 122.9 L528.1 123.6 L528.8 124 L529.6 124.4 L530.3 124.6 L531.1 124.8 L531.8 125 L532.6 125.1 L533.4 125.1 L534.1 125.2" fill="none" stroke="#687878" stroke-width="0.5862068965517242" stroke-linejoin="round"/>
<path d="M475 123.5 L475.8 121.8 L476.5 118.9 L477.3 114.9 L478 110.1 L478.8 105.6 L479.5 102.2 L480.3 100 L481.1 98.5 L481.8 97.4 L482.6 96.6 L483.3 96 L484.1 95.4 L484.9 94.8 L485.6 94.3 L486.4 93.8 L487.1 93.4 L487.9 93.1 L488.6 92.8 L489.4 92.6 L490.2 92.4 L490.9 92.4 L491.7 92.4 L492.4 92.6 L493.2 92.8 L493.9 93.1 L494.7 93.4 L495.5 93.8 L496.2 94.3 L497 94.8 L497.7 95.3 L498.5 95.8 L499.3 96.3 L500 96.8 L500.8 97.2 L501.5 97.5 L502.3 97.7 L503 97.7 L503.8 97.5 L504.6 96.9 L505.3 96 L506.1 94.6 L506.8 92.8 L507.6 90.6 L508.4 88.1 L509.1 85.4 L509.9 82.7 L510.6 80.3 L511.4 78.5 L512.1 77.6 L512.9 77.7 L513.7 78.8 L514.4 80.6 L515.2 83.1 L515.9 86.1 L516.7 89.6 L517.4 93.5 L518.2 97.4 L519 101.4 L519.7 105.2 L520.5 108.7 L521.2 111.8 L522 114.5 L522.8 116.9 L523.5 118.8 L524.3 120.3 L525 121.6 L525.8 122.5 L526.5 123.3 L527.3 123.8 L528.1 124.2 L528.8 124.5 L529.6 124.7 L530.3 124.9 L531.1 125 L531.8 125.1 L532.6 125.1 L533.4 125.2" fill="none" stroke="#616f6f" stroke-width="0.5948275862068966" stroke-linejoin="round"/>
<path d="M475 123.4 L475.8 121.6 L476.5 118.6 L477.3 114.3 L478 109.4 L478.8 104.9 L479.5 101.5 L480.3 99.3 L481.1 97.9 L481.8 96.9 L482.6 96.1 L483.3 95.4 L484.1 94.8 L484.9 94.3 L485.6 93.8 L486.4 93.3 L487.1 92.9 L487.9 92.5 L488.6 92.2 L489.4 92 L490.2 91.9 L490.9 91.9 L491.7 91.9 L492.4 92 L493.2 92.2 L493.9 92.5 L494.7 92.9 L495.5 93.3 L496.2 93.8 L497 94.3 L497.7 94.8 L498.5 95.3 L499.3 95.8 L500 96.3 L500.8 96.7 L501.5 96.9 L502.3 97.1 L503 97 L503.8 96.6 L504.6 95.9 L505.3 94.8 L506.1 93.4 L506.8 91.5 L507.6 89.3 L508.4 87 L509.1 84.6 L509.9 82.6 L510.6 81 L511.4 80.2 L512.1 80.4 L512.9 81.5 L513.7 83.3 L514.4 85.7 L515.2 88.7 L515.9 92.1 L516.7 95.8 L517.4 99.6 L518.2 103.4 L519 107 L519.7 110.3 L520.5 113.2 L521.2 115.8 L522 117.9 L522.8 119.6 L523.5 121 L524.3 122.1 L525 122.9 L525.8 123.6 L526.5 124.1 L527.3 124.4 L528.1 124.7 L528.8 124.8 L529.6 125 L530.3 125.1 L531.1 125.1 L531.8 125.2 L532.6 125.2" fill="none" stroke="#5a6767" stroke-width="0.603448275862069" stroke-linejoin="round"/>
<path d="M475 123.4 L475.8 121.5 L476.5 118.3 L477.3 113.8 L478 108.7 L478.8 104.2 L479.5 100.9 L480.3 98.8 L481.1 97.4 L481.8 96.4 L482.6 95.7 L483.3 95 L484.1 94.4 L484.9 93.9 L485.6 93.4 L486.4 92.9 L487.1 92.5 L487.9 92.1 L488.6 91.8 L489.4 91.6 L490.2 91.5 L490.9 91.4 L491.7 91.5 L492.4 91.6 L493.2 91.8 L493.9 92.1 L494.7 92.5 L495.5 92.9 L496.2 93.4 L497 93.9 L497.7 94.4 L498.5 94.9 L499.3 95.4 L500 95.8 L500.8 96.2 L501.5 96.4 L502.3 96.4 L503 96.3 L503.8 95.8 L504.6 94.9 L505.3 93.7 L506.1 92.2 L506.8 90.4 L507.6 88.4 L508.4 86.4 L509.1 84.6 L509.9 83.3 L510.6 82.7 L511.4 82.9 L512.1 84.1 L512.9 85.8 L513.7 88.2 L514.4 91.1 L515.2 94.4 L515.9 98 L516.7 101.7 L517.4 105.3 L518.2 108.7 L519 111.8 L519.7 114.5 L520.5 116.9 L521.2 118.8 L522 120.4 L522.8 121.6 L523.5 122.6 L524.3 123.3 L525 123.8 L525.8 124.2 L526.5 124.5 L527.3 124.7 L528.1 124.9 L528.8 125 L529.6 125.1 L530.3 125.1 L531.1 125.2" fill="none" stroke="#546060" stroke-width="0.6120689655172413" stroke-linejoin="round"/>
<path d="M475 123.3 L475.8 121.4 L476.5 118 L477.3 113.3 L478 108 L478.8 103.5 L479.5 100.3 L480.3 98.3 L481.1 97 L481.8 96.1 L482.6 95.3 L483.3 94.7 L484.1 94.1 L484.9 93.6 L485.6 93 L486.4 92.6 L487.1 92.1 L487.9 91.8 L488.6 91.5 L489.4 91.3 L490.2 91.1 L490.9 91.1 L491.7 91.1 L492.4 91.3 L493.2 91.5 L493.9 91.8 L494.7 92.1 L495.5 92.6 L496.2 93 L497 93.5 L497.7 94.1 L498.5 94.6 L499.3 95 L500 95.5 L500.8 95.8 L501.5 95.9 L502.3 95.9 L503 95.6 L503.8 95 L504.6 94 L505.3 92.8 L506.1 91.3 L506.8 89.6 L507.6 87.9 L508.4 86.4 L509.1 85.4 L509.9 85 L510.6 85.3 L511.4 86.5 L512.1 88.3 L512.9 90.6 L513.7 93.5 L514.4 96.7 L515.2 100.2 L515.9 103.7 L516.7 107.1 L517.4 110.3 L518.2 113.2 L519 115.8 L519.7 117.9 L520.5 119.6 L521.2 121 L522 122.1 L522.8 123 L523.5 123.6 L524.3 124.1 L525 124.4 L525.8 124.7 L526.5 124.8 L527.3 125 L528.1 125.1 L528.8 125.1 L529.6 125.2 L530.3 125.2" fill="none" stroke="#4e5959" stroke-width="0.6206896551724138" stroke-linejoin="round"/>
<path d="M475 123.3 L475.8 121.2 L476.5 117.7 L477.3 112.8 L478 107.4 L478.8 102.9 L479.5 99.9 L480.3 97.9 L481.1 96.7 L481.8 95.8 L482.6 95.1 L483.3 94.5 L484.1 93.9 L484.9 93.3 L485.6 92.8 L486.4 92.3 L487.1 91.9 L487.9 91.5 L488.6 91.2 L489.4 91 L490.2 90.9 L490.9 90.9 L491.7 90.9 L492.4 91 L493.2 91.3 L493.9 91.6 L494.7 91.9 L495.5 92.4 L496.2 92.8 L497 93.3 L497.7 93.8 L498.5 94.3 L499.3 94.8 L500 95.2 L500.8 95.4 L501.5 95.5 L502.3 95.3 L503 94.9 L503.8 94.2 L504.6 93.2 L505.3 92 L506.1 90.7 L506.8 89.3 L507.6 88.1 L508.4 87.3 L509.1 87.1 L509.9 87.6 L510.6 88.8 L511.4 90.6 L512.1 92.9 L512.9 95.7 L513.7 98.9 L514.4 102.2 L515.2 105.6 L515.9 108.8 L516.7 111.9 L517.4 114.6 L518.2 116.9 L519 118.8 L519.7 120.4 L520.5 121.6 L521.2 122.6 L522 123.3 L522.8 123.8 L523.5 124.2 L524.3 124.5 L525 124.7 L525.8 124.9 L526.5 125 L527.3 125.1 L528.1 125.1 L528.8 125.2" fill="none" stroke="#485252" stroke-width="0.6293103448275862" stroke-linejoin="round"/>
<path d="M475 123.3 L475.8 121.1 L476.5 117.5 L477.3 112.3 L478 106.9 L478.8 102.4 L479.5 99.5 L480.3 97.7 L481.1 96.5 L481.8 95.7 L482.6 95 L483.3 94.4 L484.1 93.8 L484.9 93.2 L485.6 92.7 L486.4 92.2 L487.1 91.8 L487.9 91.4 L488.6 91.1 L489.4 90.9 L490.2 90.8 L490.9 90.7 L491.7 90.8 L492.4 90.9 L493.2 91.1 L493.9 91.4 L494.7 91.8 L495.5 92.2 L496.2 92.7 L497 93.2 L497.7 93.7 L498.5 94.2 L499.3 94.6 L500 94.9 L500.8 95.1 L501.5 95.1 L502.3 94.9 L503 94.4 L503.8 93.6 L504.6 92.7 L505.3 91.6 L506.1 90.6 L506.8 89.7 L507.6 89.1 L508.4 89.1 L509.1 89.7 L509.9 91 L510.6 92.8 L511.4 95.2 L512.1 97.9 L512.9 101 L513.7 104.2 L514.4 107.4 L515.2 110.5 L515.9 113.3 L516.7 115.8 L517.4 117.9 L518.2 119.7 L519 121.1 L519.7 122.1 L520.5 123 L521.2 123.6 L522 124.1 L522.8 124.4 L523.5 124.7 L524.3 124.8 L525 125 L525.8 125 L526.5 125.1 L527.3 125.2 L528.1 125.2" fill="none" stroke="#424b4b" stroke-width="0.6379310344827587" stroke-linejoin="round"/>
<path d="M475 123.2 L475.8 121 L476.5 117.2 L477.3 111.9 L478 106.3 L478.8 102 L479.5 99.2 L480.3 97.5 L481.1 96.4 L481.8 95.6 L482.6 95 L483.3 94.4 L484.1 93.8 L484.9 93.2 L485.6 92.7 L486.4 92.2 L487.1 91.8 L487.9 91.4 L488.6 91.1 L489.4 90.9 L490.2 90.8 L490.9 90.7 L491.7 90.8 L492.4 90.9 L493.2 91.1 L493.9 91.4 L494.7 91.8 L495.5 92.2 L496.2 92.7 L497 93.2 L497.7 93.7 L498.5 94.1 L499.3 94.5 L500 94.7 L500.8 94.8 L501.5 94.8 L502.3 94.5 L503 93.9 L503.8 93.3 L504.6 92.5 L505.3 91.7 L506.1 91.1 L506.8 90.8 L507.6 91 L508.4 91.8 L509.1 93.1 L509.9 95 L510.6 97.3 L511.4 100 L512.1 102.9 L512.9 106 L513.7 109.1 L514.4 112 L515.2 114.7 L515.9 116.9 L516.7 118.9 L517.4 120.4 L518.2 121.7 L519 122.6 L519.7 123.3 L520.5 123.9 L521.2 124.3 L522 124.5 L522.8 124.8 L523.5 124.9 L524.3 125 L525 125.1 L525.8 125.1 L526.5 125.2" fill="none" stroke="#3d4545" stroke-width="0.646551724137931" stroke-linejoin="round"/>
<path d="M475 123.2 L475.8 120.9 L476.5 116.9 L477.3 111.4 L478 105.9 L478.8 101.7 L479.5 99 L480.3 97.5 L481.1 96.4 L481.8 95.7 L482.6 95 L483.3 94.4 L484.1 93.9 L484.9 93.3 L485.6 92.8 L486.4 92.3 L487.1 91.9 L487.9 91.5 L488.6 91.2 L489.4 91 L490.2 90.9 L490.9 90.8 L491.7 90.9 L492.4 91 L493.2 91.2 L493.9 91.5 L494.7 91.9 L495.5 92.3 L496.2 92.8 L497 93.2 L497.7 93.7 L498.5 94.1 L499.3 94.4 L500 94.6 L500.8 94.7 L501.5 94.5 L502.3 94.2 L503 93.8 L503.8 93.2 L504.6 92.7 L505.3 92.4 L506.1 92.3 L506.8 92.7 L507.6 93.7 L508.4 95.1 L509.1 97 L509.9 99.3 L510.6 102 L511.4 104.9 L512.1 107.8 L512.9 110.8 L513.7 113.5 L514.4 115.9 L515.2 118 L515.9 119.7 L516.7 121.1 L517.4 122.2 L518.2 123 L519 123.6 L519.7 124.1 L520.5 124.4 L521.2 124.7 L522 124.8 L522.8 125 L523.5 125.1 L524.3 125.1 L525 125.2 L525.8 125.2" fill="none" stroke="#384040" stroke-width="0.6551724137931034" stroke-linejoin="round"/>
<path d="M475 123.2 L475.8 120.8 L476.5 116.6 L477.3 111 L478 105.5 L478.8 101.4 L479.5 99 L480.3 97.5 L481.1 96.5 L481.8 95.8 L482.6 95.2 L483.3 94.6 L484.1 94.1 L484.9 93.5 L485.6 93 L486.4 92.5 L487.1 92.1 L487.9 91.7 L488.6 91.4 L489.4 91.2 L490.2 91.1 L490.9 91 L491.7 91.1 L492.4 91.2 L493.2 91.4 L493.9 91.7 L494.7 92.1 L495.5 92.5 L496.2 93 L497 93.4 L497.7 93.8 L498.5 94.2 L499.3 94.4 L500 94.6 L500.8 94.6 L501.5 94.5 L502.3 94.2 L503 93.9 L503.8 93.7 L504.6 93.6 L505.3 93.8 L506.1 94.4 L506.8 95.5 L507.6 97 L508.4 98.9 L509.1 101.2 L509.9 103.9 L510.6 106.7 L511.4 109.6 L512.1 112.3 L512.9 114.9 L513.7 117.1 L514.4 119 L515.2 120.5 L515.9 121.7 L516.7 122.7 L517.4 123.4 L518.2 123.9 L519 124.3 L519.7 124.6 L520.5 124.8 L521.2 124.9 L522 125 L522.8 125.1 L523.5 125.2 L524.3 125.2" fill="none" stroke="#343a3a" stroke-width="0.6637931034482758" stroke-linejoin="round"/>
<path d="M475 123.2 L475.8 120.7 L476.5 116.4 L477.3 110.6 L478 105.1 L478.8 101.3 L479.5 99 L480.3 97.6 L481.1 96.8 L481.8 96.1 L482.6 95.5 L483.3 94.9 L484.1 94.3 L484.9 93.8 L485.6 93.3 L486.4 92.8 L487.1 92.4 L487.9 92 L488.6 91.7 L489.4 91.5 L490.2 91.4 L490.9 91.4 L491.7 91.4 L492.4 91.5 L493.2 91.8 L493.9 92.1 L494.7 92.4 L495.5 92.8 L496.2 93.2 L497 93.6 L497.7 94 L498.5 94.3 L499.3 94.6 L500 94.7 L500.8 94.7 L501.5 94.7 L502.3 94.6 L503 94.6 L503.8 94.7 L504.6 95.2 L505.3 96 L506.1 97.2 L506.8 98.8 L507.6 100.8 L508.4 103.1 L509.1 105.7 L509.9 108.5 L510.6 111.2 L511.4 113.8 L512.1 116.2 L512.9 118.2 L513.7 119.9 L514.4 121.2 L515.2 122.3 L515.9 123.1 L516.7 123.7 L517.4 124.1 L518.2 124.5 L519 124.7 L519.7 124.9 L520.5 125 L521.2 125.1 L522 125.1 L522.8 125.2" fill="none" stroke="#303535" stroke-width="0.6724137931034483" stroke-linejoin="round"/>
<path d="M475 123.2 L475.8 120.6 L476.5 116.1 L477.3 110.3 L478 104.9 L478.8 101.2 L479.5 99.1 L480.3 97.9 L481.1 97.1 L481.8 96.4 L482.6 95.8 L483.3 95.3 L484.1 94.7 L484.9 94.2 L485.6 93.7 L486.4 93.2 L487.1 92.8 L487.9 92.5 L488.6 92.2 L489.4 92 L490.2 91.8 L490.9 91.8 L491.7 91.8 L492.4 92 L493.2 92.2 L493.9 92.5 L494.7 92.8 L495.5 93.2 L496.2 93.6 L497 94 L497.7 94.3 L498.5 94.6 L499.3 94.8 L500 95 L500.8 95.1 L501.5 95.2 L502.3 95.5 L503 95.8 L503.8 96.5 L504.6 97.5 L505.3 98.8 L506.1 100.5 L506.8 102.6 L507.6 105 L508.4 107.5 L509.1 110.2 L509.9 112.8 L510.6 115.2 L511.4 117.4 L512.1 119.2 L512.9 120.7 L513.7 121.9 L514.4 122.8 L515.2 123.5 L515.9 124 L516.7 124.3 L517.4 124.6 L518.2 124.8 L519 124.9 L519.7 125 L520.5 125.1 L521.2 125.2 L522 125.2" fill="none" stroke="#2c3131" stroke-width="0.6810344827586207" stroke-linejoin="round"/>
<path d="M475 123.2 L475.8 120.5 L476.5 115.9 L477.3 110 L478 104.7 L478.8 101.3 L479.5 99.3 L480.3 98.2 L481.1 97.5 L481.8 96.9 L482.6 96.3 L483.3 95.7 L484.1 95.2 L484.9 94.7 L485.6 94.2 L486.4 93.7 L487.1 93.3 L487.9 93 L488.6 92.7 L489.4 92.5 L490.2 92.4 L490.9 92.3 L491.7 92.4 L492.4 92.5 L493.2 92.7 L493.9 93 L494.7 93.3 L495.5 93.7 L496.2 94 L497 94.4 L497.7 94.7 L498.5 95 L499.3 95.3 L500 95.6 L500.8 95.9 L501.5 96.3 L502.3 96.9 L503 97.8 L503.8 98.9 L504.6 100.4 L505.3 102.2 L506.1 104.4 L506.8 106.8 L507.6 109.3 L508.4 111.9 L509.1 114.4 L509.9 116.6 L510.6 118.6 L511.4 120.2 L512.1 121.5 L512.9 122.5 L513.7 123.3 L514.4 123.8 L515.2 124.2 L515.9 124.5 L516.7 124.7 L517.4 124.9 L518.2 125 L519 125.1 L519.7 125.2 L520.5 125.2" fill="none" stroke="#292d2d" stroke-width="0.6896551724137931" stroke-linejoin="round"/>
<path d="M475 123.2 L475.8 120.5 L476.5 115.7 L477.3 109.7 L478 104.6 L478.8 101.4 L479.5 99.7 L480.3 98.7 L481.1 98 L481.8 97.4 L482.6 96.9 L483.3 96.3 L484.1 95.8 L484.9 95.3 L485.6 94.8 L486.4 94.4 L487.1 94 L487.9 93.6 L488.6 93.3 L489.4 93.1 L490.2 93 L490.9 93 L491.7 93 L492.4 93.1 L493.2 93.3 L493.9 93.6 L494.7 93.9 L495.5 94.3 L496.2 94.6 L497 95 L497.7 95.4 L498.5 95.7 L499.3 96.1 L500 96.6 L500.8 97.2 L501.5 98 L502.3 99 L503 100.4 L503.8 102 L504.6 103.9 L505.3 106.2 L506.1 108.6 L506.8 111.1 L507.6 113.6 L508.4 115.9 L509.1 118 L509.9 119.7 L510.6 121.1 L511.4 122.2 L512.1 123.1 L512.9 123.7 L513.7 124.1 L514.4 124.5 L515.2 124.7 L515.9 124.9 L516.7 125 L517.4 125.1 L518.2 125.1 L519 125.2" fill="none" stroke="#262929" stroke-width="0.6982758620689655" stroke-linejoin="round"/>
<path d="M475 123.2 L475.8 120.4 L476.5 115.5 L477.3 109.5 L478 104.6 L478.8 101.7 L479.5 100.1 L480.3 99.2 L481.1 98.6 L481.8 98 L482.6 97.5 L483.3 97 L484.1 96.5 L484.9 96 L485.6 95.5 L486.4 95.1 L487.1 94.7 L487.9 94.4 L488.6 94.1 L489.4 93.9 L490.2 93.8 L490.9 93.7 L491.7 93.8 L492.4 93.9 L493.2 94.1 L493.9 94.3 L494.7 94.7 L495.5 95 L496.2 95.4 L497 95.8 L497.7 96.2 L498.5 96.8 L499.3 97.4 L500 98.2 L500.8 99.1 L501.5 100.4 L502.3 101.9 L503 103.6 L503.8 105.7 L504.6 108 L505.3 110.5 L506.1 113 L506.8 115.3 L507.6 117.5 L508.4 119.3 L509.1 120.8 L509.9 122 L510.6 122.9 L511.4 123.6 L512.1 124.1 L512.9 124.4 L513.7 124.7 L514.4 124.9 L515.2 125 L515.9 125.1 L516.7 125.1 L517.4 125.2" fill="none" stroke="#232626" stroke-width="0.7068965517241379" stroke-linejoin="round"/>
<path d="M475 123.2 L475.8 120.3 L476.5 115.3 L477.3 109.4 L478 104.8 L478.8 102.1 L479.5 100.7 L480.3 99.9 L481.1 99.3 L481.8 98.8 L482.6 98.3 L483.3 97.8 L484.1 97.3 L484.9 96.8 L485.6 96.3 L486.4 95.9 L487.1 95.5 L487.9 95.2 L488.6 95 L489.4 94.8 L490.2 94.6 L490.9 94.6 L491.7 94.7 L492.4 94.8 L493.2 95 L493.9 95.2 L494.7 95.5 L495.5 95.9 L496.2 96.4 L497 96.9 L497.7 97.5 L498.5 98.3 L499.3 99.2 L500 100.4 L500.8 101.8 L501.5 103.5 L502.3 105.4 L503 107.7 L503.8 110.1 L504.6 112.5 L505.3 114.9 L506.1 117.1 L506.8 119 L507.6 120.6 L508.4 121.8 L509.1 122.8 L509.9 123.5 L510.6 124 L511.4 124.4 L512.1 124.7 L512.9 124.9 L513.7 125 L514.4 125.1 L515.2 125.1 L515.9 125.2" fill="none" stroke="#212323" stroke-width="0.7155172413793103" stroke-linejoin="round"/>
<path d="M475 123.2 L475.8 120.3 L476.5 115.2 L477.3 109.3 L478 105 L478.8 102.6 L479.5 101.4 L480.3 100.6 L481.1 100.1 L481.8 99.6 L482.6 99.1 L483.3 98.6 L484.1 98.2 L484.9 97.7 L485.6 97.3 L486.4 96.9 L487.1 96.5 L487.9 96.2 L488.6 95.9 L489.4 95.7 L490.2 95.6 L490.9 95.6 L491.7 95.7 L492.4 95.8 L493.2 96 L493.9 96.3 L494.7 96.7 L495.5 97.1 L496.2 97.7 L497 98.5 L497.7 99.4 L498.5 100.5 L499.3 101.8 L500 103.4 L500.8 105.3 L501.5 107.5 L502.3 109.9 L503 112.4 L503.8 114.8 L504.6 117 L505.3 119 L506.1 120.6 L506.8 121.9 L507.6 122.8 L508.4 123.5 L509.1 124.1 L509.9 124.4 L510.6 124.7 L511.4 124.9 L512.1 125 L512.9 125.1 L513.7 125.2 L514.4 125.2" fill="none" stroke="#1f2121" stroke-width="0.7241379310344828" stroke-linejoin="round"/>
<path d="M475 123.3 L475.8 120.3 L476.5 115.1 L477.3 109.4 L478 105.3 L478.8 103.2 L479.5 102.2 L480.3 101.5 L481.1 101 L481.8 100.5 L482.6 100.1 L483.3 99.6 L484.1 99.2 L484.9 98.7 L485.6 98.3 L486.4 97.9 L487.1 97.5 L487.9 97.2 L488.6 97 L489.4 96.8 L490.2 96.7 L490.9 96.7 L491.7 96.8 L492.4 97 L493.2 97.3 L493.9 97.7 L494.7 98.2 L495.5 98.8 L496.2 99.7 L497 100.8 L497.7 102.1 L498.5 103.7 L499.3 105.6 L500 107.8 L500.8 110.2 L501.5 112.7 L502.3 115.2 L503 117.4 L503.8 119.3 L504.6 120.9 L505.3 122.1 L506.1 123.1 L506.8 123.7 L507.6 124.2 L508.4 124.5 L509.1 124.8 L509.9 124.9 L510.6 125.1 L511.4 125.1 L512.1 125.2" fill="none" stroke="#1d2020" stroke-width="0.7327586206896551" stroke-linejoin="round"/>
<path d="M475 123.3 L475.8 120.3 L476.5 115.1 L477.3 109.5 L478 105.8 L478.8 104 L479.5 103 L480.3 102.5 L481.1 102 L481.8 101.6 L482.6 101.1 L483.3 100.7 L484.1 100.2 L484.9 99.8 L485.6 99.4 L486.4 99 L487.1 98.7 L487.9 98.4 L488.6 98.2 L489.4 98.1 L490.2 98 L490.9 98.1 L491.7 98.3 L492.4 98.5 L493.2 99 L493.9 99.6 L494.7 100.4 L495.5 101.5 L496.2 102.9 L497 104.6 L497.7 106.7 L498.5 109 L499.3 111.5 L500 114.1 L500.8 116.5 L501.5 118.6 L502.3 120.4 L503 121.8 L503.8 122.8 L504.6 123.6 L505.3 124.1 L506.1 124.5 L506.8 124.7 L507.6 124.9 L508.4 125 L509.1 125.1 L509.9 125.2" fill="none" stroke="#1c1e1e" stroke-width="0.7413793103448276" stroke-linejoin="round"/>
<path d="M475 123.3 L475.8 120.3 L476.5 115.1 L477.3 109.8 L478 106.4 L478.8 104.8 L479.5 104 L480.3 103.5 L481.1 103.1 L481.8 102.7 L482.6 102.3 L483.3 101.9 L484.1 101.5 L484.9 101.1 L485.6 100.7 L486.4 100.4 L487.1 100.1 L487.9 100 L488.6 99.9 L489.4 100 L490.2 100.2 L490.9 100.6 L491.7 101.3 L492.4 102.4 L493.2 103.8 L493.9 105.6 L494.7 107.8 L495.5 110.3 L496.2 113 L497 115.6 L497.7 117.9 L498.5 119.9 L499.3 121.4 L500 122.6 L500.8 123.4 L501.5 124 L502.3 124.5 L503 124.7 L503.8 124.9 L504.6 125 L505.3 125.1 L506.1 125.2" fill="none" stroke="#1c1e1e" stroke-width="0.75" stroke-linejoin="round"/>
<rect x="475" y="30.7" width="75.8" height="94.6" fill="none" stroke="#111" stroke-width="0.8"/>
<line x1="475" y1="125.3" x2="475" y2="123.8" stroke="#000" stroke-width="0.5"/>
<text x="475" y="134" font-size="7.9" text-anchor="middle" stroke="#000" stroke-width="0.1">-20</text>
<line x1="490.2" y1="125.3" x2="490.2" y2="123.8" stroke="#000" stroke-width="0.5"/>
<text x="490.2" y="134" font-size="7.9" text-anchor="middle" stroke="#000" stroke-width="0.1">0</text>
<line x1="505.3" y1="125.3" x2="505.3" y2="123.8" stroke="#000" stroke-width="0.5"/>
<text x="505.3" y="134" font-size="7.9" text-anchor="middle" stroke="#000" stroke-width="0.1">20</text>
<line x1="520.5" y1="125.3" x2="520.5" y2="123.8" stroke="#000" stroke-width="0.5"/>
<text x="520.5" y="134" font-size="7.9" text-anchor="middle" stroke="#000" stroke-width="0.1">40</text>
<line x1="535.6" y1="125.3" x2="535.6" y2="123.8" stroke="#000" stroke-width="0.5"/>
<text x="535.6" y="134" font-size="7.9" text-anchor="middle" stroke="#000" stroke-width="0.1">60</text>
<line x1="550.8" y1="125.3" x2="550.8" y2="123.8" stroke="#000" stroke-width="0.5"/>
<text x="550.8" y="134" font-size="7.9" text-anchor="middle" stroke="#000" stroke-width="0.1">80</text>
<line x1="475" y1="103.8" x2="476.5" y2="103.8" stroke="#000" stroke-width="0.5"/>
<line x1="475" y1="82.2" x2="476.5" y2="82.2" stroke="#000" stroke-width="0.5"/>
<line x1="475" y1="60.7" x2="476.5" y2="60.7" stroke="#000" stroke-width="0.5"/>
<line x1="475" y1="39.2" x2="476.5" y2="39.2" stroke="#000" stroke-width="0.5"/>
<text x="473.5" y="41.8" font-size="7.9" text-anchor="end" stroke="#000" stroke-width="0.1">100</text>
<text x="475.5" y="27.6" font-size="7.9" stroke="#000" stroke-width="0.1">Time <tspan font-style="italic">t</tspan> = 1s</text>
<text x="471.1" y="84.3" font-size="7.9" text-anchor="middle" transform="rotate(-90 471.1 84.3)" stroke="#000" stroke-width="0.1">Δ<tspan font-style="italic">E</tspan><tspan font-style="italic">τ</tspan> [MPa]</text>
<text x="512.9" y="141.3" font-size="7.9" text-anchor="middle" stroke="#000" stroke-width="0.1"><tspan font-style="italic">T</tspan> [°C]</text>
<line x1="518.5" y1="40.7" x2="509" y2="37.5" stroke="#000" stroke-width="0.6"/>
<circle cx="518.5" cy="40.7" r="1.2" fill="#fff" stroke="#111" stroke-width="0.5"/>
<text x="508.5" y="40" font-size="7.9" text-anchor="end" stroke="#000" stroke-width="0.1">VW</text>
<line x1="482" y1="95.9" x2="486" y2="82" stroke="#000" stroke-width="0.6"/>
<rect x="480.9" y="94.8" width="2.2" height="2.2" fill="#fff" stroke="#111" stroke-width="0.5"/>
<text x="479.5" y="81.2" font-size="7.9" stroke="#000" stroke-width="0.1">AB</text>
<path d="M577.1 125.3 L577.1 109.8 L577.1 101.2 L577.1 98.6 L577.1 101.2 L577.9 107.2 L581.6 115.8 L584.7 122.7 L586.2 125.3 Z" fill="#cfe6e6" fill-opacity="0.75"/>
<path d="M577.1 108.9 L577.9 107.8 L578.6 107 L579.4 106.5 L580.1 106.1 L580.9 105.9 L581.6 105.8 L582.4 105.7 L583.2 105.7 L583.9 105.8 L584.7 105.9 L585.4 106.1 L586.2 106.3 L587 106.5 L587.7 106.8 L588.5 107.1 L589.2 107.4 L590 107.7 L590.7 108 L591.5 108.3 L592.3 108.6 L593 108.8 L593.8 108.9 L594.5 108.9 L595.3 108.8 L596 108.5 L596.8 107.9 L597.6 106.9 L598.3 105.3 L599.1 103.2 L599.8 100.2 L600.6 96.4 L601.4 91.7 L602.1 86 L602.9 79.5 L603.6 72.3 L604.4 64.7 L605.1 57.2 L605.9 50.2 L606.7 44.1 L607.4 39.6 L608.2 36.9 L608.9 36.4 L609.7 37.4 L610.5 39.4 L611.2 42.4 L612 46.3 L612.7 50.9 L613.5 56 L614.2 61.6 L615 67.4 L615.8 73.4 L616.5 79.3 L617.3 85 L618 90.4 L618.8 95.5 L619.5 100.1 L620.3 104.3 L621.1 107.9 L621.8 111.1 L622.6 113.9 L623.3 116.2 L624.1 118.1 L624.9 119.7 L625.6 121 L626.4 122 L627.1 122.8 L627.9 123.5 L628.6 123.9 L629.4 124.3 L630.2 124.6 L630.9 124.8 L631.7 124.9 L632.4 125 L633.2 125.1 L634 125.2" fill="none" stroke="#bfdede" stroke-width="0.5" stroke-linejoin="round"/>
<path d="M577.1 107.3 L577.9 106.1 L578.6 105.3 L579.4 104.8 L580.1 104.4 L580.9 104.2 L581.6 104 L582.4 104 L583.2 104 L583.9 104 L584.7 104.2 L585.4 104.4 L586.2 104.6 L587 104.9 L587.7 105.2 L588.5 105.5 L589.2 105.8 L590 106.1 L590.7 106.5 L591.5 106.8 L592.3 107.1 L593 107.3 L593.8 107.4 L594.5 107.4 L595.3 107.3 L596 106.9 L596.8 106.2 L597.6 105.1 L598.3 103.4 L599.1 101 L599.8 97.9 L600.6 93.9 L601.4 89 L602.1 83.2 L602.9 76.7 L603.6 69.8 L604.4 62.7 L605.1 56 L605.9 50 L606.7 45.2 L607.4 42.1 L608.2 41 L608.9 41.6 L609.7 43.4 L610.5 46.1 L611.2 49.6 L612 53.9 L612.7 58.8 L613.5 64.1 L614.2 69.8 L615 75.5 L615.8 81.2 L616.5 86.8 L617.3 92 L618 96.9 L618.8 101.4 L619.5 105.4 L620.3 108.9 L621.1 112 L621.8 114.6 L622.6 116.8 L623.3 118.7 L624.1 120.2 L624.9 121.4 L625.6 122.3 L626.4 123.1 L627.1 123.6 L627.9 124.1 L628.6 124.4 L629.4 124.7 L630.2 124.8 L630.9 125 L631.7 125.1 L632.4 125.1 L633.2 125.2" fill="none" stroke="#b5d2d2" stroke-width="0.5086206896551724" stroke-linejoin="round"/>
<path d="M577.1 105.7 L577.9 104.5 L578.6 103.7 L579.4 103.1 L580.1 102.8 L580.9 102.5 L581.6 102.4 L582.4 102.3 L583.2 102.3 L583.9 102.4 L584.7 102.6 L585.4 102.8 L586.2 103 L587 103.3 L587.7 103.6 L588.5 103.9 L589.2 104.3 L590 104.7 L590.7 105 L591.5 105.3 L592.3 105.6 L593 105.9 L593.8 106 L594.5 106 L595.3 105.8 L596 105.4 L596.8 104.6 L597.6 103.3 L598.3 101.5 L599.1 98.9 L599.8 95.6 L600.6 91.4 L601.4 86.4 L602.1 80.6 L602.9 74.3 L603.6 67.7 L604.4 61.3 L605.1 55.4 L605.9 50.6 L606.7 47.2 L607.4 45.5 L608.2 45.8 L608.9 47.2 L609.7 49.6 L610.5 52.9 L611.2 56.9 L612 61.5 L612.7 66.6 L613.5 72 L614.2 77.6 L615 83.1 L615.8 88.5 L616.5 93.6 L617.3 98.3 L618 102.7 L618.8 106.5 L619.5 109.9 L620.3 112.9 L621.1 115.4 L621.8 117.5 L622.6 119.2 L623.3 120.6 L624.1 121.7 L624.9 122.6 L625.6 123.3 L626.4 123.8 L627.1 124.2 L627.9 124.5 L628.6 124.7 L629.4 124.9 L630.2 125 L630.9 125.1 L631.7 125.2 L632.4 125.2" fill="none" stroke="#abc7c7" stroke-width="0.5172413793103449" stroke-linejoin="round"/>
<path d="M577.1 104.2 L577.9 103 L578.6 102.2 L579.4 101.6 L580.1 101.2 L580.9 101 L581.6 100.8 L582.4 100.8 L583.2 100.8 L583.9 100.9 L584.7 101 L585.4 101.3 L586.2 101.5 L587 101.8 L587.7 102.2 L588.5 102.5 L589.2 102.9 L590 103.3 L590.7 103.7 L591.5 104 L592.3 104.3 L593 104.6 L593.8 104.7 L594.5 104.7 L595.3 104.4 L596 103.9 L596.8 103 L597.6 101.6 L598.3 99.6 L599.1 96.8 L599.8 93.3 L600.6 89 L601.4 84 L602.1 78.3 L602.9 72.3 L603.6 66.2 L604.4 60.6 L605.1 55.7 L605.9 52.1 L606.7 50.1 L607.4 49.8 L608.2 51 L608.9 53.1 L609.7 56.1 L610.5 59.8 L611.2 64.2 L612 69.1 L612.7 74.3 L613.5 79.6 L614.2 85 L615 90.2 L615.8 95.1 L616.5 99.7 L617.3 103.9 L618 107.6 L618.8 110.9 L619.5 113.7 L620.3 116.1 L621.1 118.1 L621.8 119.7 L622.6 121 L623.3 122.1 L624.1 122.9 L624.9 123.5 L625.6 124 L626.4 124.3 L627.1 124.6 L627.9 124.8 L628.6 125 L629.4 125.1 L630.2 125.1 L630.9 125.2" fill="none" stroke="#a2bcbc" stroke-width="0.5258620689655172" stroke-linejoin="round"/>
<path d="M577.1 102.8 L577.9 101.6 L578.6 100.7 L579.4 100.2 L580.1 99.8 L580.9 99.6 L581.6 99.4 L582.4 99.4 L583.2 99.4 L583.9 99.5 L584.7 99.6 L585.4 99.9 L586.2 100.1 L587 100.5 L587.7 100.8 L588.5 101.2 L589.2 101.6 L590 102 L590.7 102.4 L591.5 102.8 L592.3 103.1 L593 103.3 L593.8 103.4 L594.5 103.4 L595.3 103.1 L596 102.5 L596.8 101.4 L597.6 99.9 L598.3 97.7 L599.1 94.8 L599.8 91.1 L600.6 86.8 L601.4 81.7 L602.1 76.3 L602.9 70.7 L603.6 65.3 L604.4 60.5 L605.1 56.8 L605.9 54.5 L606.7 53.8 L607.4 54.7 L608.2 56.6 L608.9 59.3 L609.7 62.7 L610.5 66.9 L611.2 71.5 L612 76.5 L612.7 81.6 L613.5 86.8 L614.2 91.8 L615 96.6 L615.8 101.1 L616.5 105.1 L617.3 108.7 L618 111.8 L618.8 114.5 L619.5 116.8 L620.3 118.6 L621.1 120.2 L621.8 121.4 L622.6 122.4 L623.3 123.1 L624.1 123.7 L624.9 124.1 L625.6 124.5 L626.4 124.7 L627.1 124.9 L627.9 125 L628.6 125.1 L629.4 125.1 L630.2 125.2" fill="none" stroke="#99b1b1" stroke-width="0.5344827586206897" stroke-linejoin="round"/>
<path d="M577.1 101.5 L577.9 100.3 L578.6 99.4 L579.4 98.9 L580.1 98.5 L580.9 98.2 L581.6 98.1 L582.4 98 L583.2 98.1 L583.9 98.2 L584.7 98.3 L585.4 98.6 L586.2 98.9 L587 99.2 L587.7 99.6 L588.5 100 L589.2 100.4 L590 100.8 L590.7 101.2 L591.5 101.6 L592.3 101.9 L593 102.2 L593.8 102.3 L594.5 102.2 L595.3 101.8 L596 101.1 L596.8 99.9 L597.6 98.2 L598.3 95.9 L599.1 92.8 L599.8 89.1 L600.6 84.7 L601.4 79.8 L602.1 74.7 L602.9 69.6 L603.6 65 L604.4 61.3 L605.1 58.7 L605.9 57.7 L606.7 58.3 L607.4 59.9 L608.2 62.3 L608.9 65.6 L609.7 69.4 L610.5 73.9 L611.2 78.6 L612 83.6 L612.7 88.6 L613.5 93.4 L614.2 98.1 L615 102.4 L615.8 106.3 L616.5 109.7 L617.3 112.7 L618 115.3 L618.8 117.4 L619.5 119.2 L620.3 120.6 L621.1 121.8 L621.8 122.7 L622.6 123.3 L623.3 123.9 L624.1 124.3 L624.9 124.6 L625.6 124.8 L626.4 124.9 L627.1 125 L627.9 125.1 L628.6 125.2 L629.4 125.2" fill="none" stroke="#90a7a7" stroke-width="0.5431034482758621" stroke-linejoin="round"/>
<path d="M577.1 100.3 L577.9 99 L578.6 98.2 L579.4 97.7 L580.1 97.3 L580.9 97 L581.6 96.9 L582.4 96.8 L583.2 96.9 L583.9 97 L584.7 97.1 L585.4 97.4 L586.2 97.7 L587 98 L587.7 98.4 L588.5 98.9 L589.2 99.3 L590 99.7 L590.7 100.2 L591.5 100.5 L592.3 100.9 L593 101.1 L593.8 101.1 L594.5 101 L595.3 100.6 L596 99.7 L596.8 98.4 L597.6 96.6 L598.3 94.1 L599.1 90.9 L599.8 87.1 L600.6 82.8 L601.4 78.2 L602.1 73.5 L602.9 69.2 L603.6 65.5 L604.4 62.8 L605.1 61.5 L605.9 61.8 L606.7 63.1 L607.4 65.3 L608.2 68.3 L608.9 72 L609.7 76.2 L610.5 80.7 L611.2 85.5 L612 90.3 L612.7 95 L613.5 99.5 L614.2 103.6 L615 107.4 L615.8 110.7 L616.5 113.6 L617.3 116 L618 118 L618.8 119.7 L619.5 121 L620.3 122.1 L621.1 122.9 L621.8 123.5 L622.6 124 L623.3 124.4 L624.1 124.6 L624.9 124.8 L625.6 125 L626.4 125.1 L627.1 125.1 L627.9 125.2" fill="none" stroke="#879d9d" stroke-width="0.5517241379310345" stroke-linejoin="round"/>
<path d="M577.1 99.1 L577.9 97.9 L578.6 97.1 L579.4 96.6 L580.1 96.2 L580.9 95.9 L581.6 95.8 L582.4 95.7 L583.2 95.8 L583.9 95.9 L584.7 96.1 L585.4 96.3 L586.2 96.6 L587 97 L587.7 97.4 L588.5 97.8 L589.2 98.3 L590 98.8 L590.7 99.2 L591.5 99.6 L592.3 99.9 L593 100.1 L593.8 100.1 L594.5 99.9 L595.3 99.4 L596 98.4 L596.8 97 L597.6 95 L598.3 92.4 L599.1 89.2 L599.8 85.4 L600.6 81.3 L601.4 77 L602.1 72.9 L602.9 69.4 L603.6 66.7 L604.4 65.2 L605.1 65.1 L605.9 66.3 L606.7 68.3 L607.4 71 L608.2 74.4 L608.9 78.4 L609.7 82.8 L610.5 87.4 L611.2 92 L612 96.5 L612.7 100.9 L613.5 104.9 L614.2 108.5 L615 111.7 L615.8 114.4 L616.5 116.7 L617.3 118.6 L618 120.2 L618.8 121.4 L619.5 122.4 L620.3 123.2 L621.1 123.7 L621.8 124.2 L622.6 124.5 L623.3 124.7 L624.1 124.9 L624.9 125 L625.6 125.1 L626.4 125.1 L627.1 125.2" fill="none" stroke="#7f9393" stroke-width="0.5603448275862069" stroke-linejoin="round"/>
<path d="M577.1 98.1 L577.9 96.9 L578.6 96.1 L579.4 95.6 L580.1 95.2 L580.9 94.9 L581.6 94.8 L582.4 94.7 L583.2 94.8 L583.9 94.9 L584.7 95.1 L585.4 95.3 L586.2 95.7 L587 96.1 L587.7 96.5 L588.5 96.9 L589.2 97.4 L590 97.9 L590.7 98.3 L591.5 98.7 L592.3 99 L593 99.1 L593.8 99.1 L594.5 98.8 L595.3 98.2 L596 97.2 L596.8 95.6 L597.6 93.5 L598.3 90.8 L599.1 87.6 L599.8 84 L600.6 80.1 L601.4 76.4 L602.1 73 L602.9 70.4 L603.6 68.7 L604.4 68.4 L605.1 69.3 L605.9 71.1 L606.7 73.6 L607.4 76.8 L608.2 80.6 L608.9 84.8 L609.7 89.2 L610.5 93.6 L611.2 98 L612 102.2 L612.7 106.1 L613.5 109.5 L614.2 112.6 L615 115.2 L615.8 117.4 L616.5 119.2 L617.3 120.6 L618 121.8 L618.8 122.7 L619.5 123.4 L620.3 123.9 L621.1 124.3 L621.8 124.6 L622.6 124.8 L623.3 124.9 L624.1 125 L624.9 125.1 L625.6 125.2 L626.4 125.2" fill="none" stroke="#778989" stroke-width="0.5689655172413793" stroke-linejoin="round"/>
<path d="M577.1 97.1 L577.9 96 L578.6 95.2 L579.4 94.7 L580.1 94.3 L580.9 94.1 L581.6 93.9 L582.4 93.9 L583.2 93.9 L583.9 94 L584.7 94.2 L585.4 94.5 L586.2 94.8 L587 95.2 L587.7 95.6 L588.5 96.1 L589.2 96.6 L590 97.1 L590.7 97.5 L591.5 97.9 L592.3 98.2 L593 98.3 L593.8 98.2 L594.5 97.8 L595.3 97.1 L596 95.9 L596.8 94.3 L597.6 92.1 L598.3 89.4 L599.1 86.2 L599.8 82.8 L600.6 79.4 L601.4 76.3 L602.1 73.7 L602.9 72.1 L603.6 71.5 L604.4 72.3 L605.1 73.8 L605.9 76.2 L606.7 79.2 L607.4 82.7 L608.2 86.7 L608.9 90.9 L609.7 95.2 L610.5 99.5 L611.2 103.5 L612 107.2 L612.7 110.5 L613.5 113.4 L614.2 115.9 L615 118 L615.8 119.7 L616.5 121.1 L617.3 122.1 L618 123 L618.8 123.6 L619.5 124.1 L620.3 124.4 L621.1 124.7 L621.8 124.8 L622.6 125 L623.3 125.1 L624.1 125.1 L624.9 125.2" fill="none" stroke="#6f8080" stroke-width="0.5775862068965517" stroke-linejoin="round"/>
<path d="M577.1 96.3 L577.9 95.2 L578.6 94.4 L579.4 93.9 L580.1 93.5 L580.9 93.3 L581.6 93.1 L582.4 93.1 L583.2 93.1 L583.9 93.2 L584.7 93.4 L585.4 93.7 L586.2 94.1 L587 94.5 L587.7 94.9 L588.5 95.4 L589.2 95.9 L590 96.3 L590.7 96.8 L591.5 97.2 L592.3 97.4 L593 97.5 L593.8 97.3 L594.5 96.9 L595.3 96.1 L596 94.8 L596.8 93 L597.6 90.8 L598.3 88.1 L599.1 85.2 L599.8 82.1 L600.6 79.3 L601.4 76.9 L602.1 75.2 L602.9 74.6 L603.6 75.1 L604.4 76.5 L605.1 78.6 L605.9 81.4 L606.7 84.8 L607.4 88.6 L608.2 92.6 L608.9 96.8 L609.7 100.9 L610.5 104.7 L611.2 108.3 L612 111.5 L612.7 114.3 L613.5 116.6 L614.2 118.6 L615 120.2 L615.8 121.4 L616.5 122.4 L617.3 123.2 L618 123.8 L618.8 124.2 L619.5 124.5 L620.3 124.7 L621.1 124.9 L621.8 125 L622.6 125.1 L623.3 125.1 L624.1 125.2" fill="none" stroke="#687878" stroke-width="0.5862068965517242" stroke-linejoin="round"/>
<path d="M577.1 95.5 L577.9 94.5 L578.6 93.7 L579.4 93.2 L580.1 92.9 L580.9 92.6 L581.6 92.5 L582.4 92.4 L583.2 92.5 L583.9 92.6 L584.7 92.8 L585.4 93.1 L586.2 93.4 L587 93.8 L587.7 94.3 L588.5 94.8 L589.2 95.3 L590 95.7 L590.7 96.2 L591.5 96.5 L592.3 96.7 L593 96.8 L593.8 96.5 L594.5 96 L595.3 95.1 L596 93.7 L596.8 91.9 L597.6 89.7 L598.3 87.2 L599.1 84.5 L599.8 81.9 L600.6 79.7 L601.4 78.1 L602.1 77.4 L602.9 77.7 L603.6 79 L604.4 81 L605.1 83.6 L605.9 86.8 L606.7 90.4 L607.4 94.3 L608.2 98.3 L608.9 102.2 L609.7 105.9 L610.5 109.4 L611.2 112.4 L612 115.1 L612.7 117.3 L613.5 119.1 L614.2 120.6 L615 121.8 L615.8 122.7 L616.5 123.4 L617.3 123.9 L618 124.3 L618.8 124.6 L619.5 124.8 L620.3 124.9 L621.1 125 L621.8 125.1 L622.6 125.2 L623.3 125.2" fill="none" stroke="#616f6f" stroke-width="0.5948275862068966" stroke-linejoin="round"/>
<path d="M577.1 94.9 L577.9 93.9 L578.6 93.2 L579.4 92.7 L580.1 92.3 L580.9 92.1 L581.6 91.9 L582.4 91.9 L583.2 91.9 L583.9 92 L584.7 92.2 L585.4 92.5 L586.2 92.9 L587 93.3 L587.7 93.8 L588.5 94.3 L589.2 94.7 L590 95.2 L590.7 95.6 L591.5 95.9 L592.3 96.1 L593 96.1 L593.8 95.8 L594.5 95.2 L595.3 94.2 L596 92.8 L596.8 91 L597.6 88.8 L598.3 86.6 L599.1 84.3 L599.8 82.3 L600.6 80.8 L601.4 80.1 L602.1 80.3 L602.9 81.4 L603.6 83.3 L604.4 85.7 L605.1 88.7 L605.9 92.2 L606.7 95.9 L607.4 99.7 L608.2 103.5 L608.9 107.1 L609.7 110.4 L610.5 113.3 L611.2 115.8 L612 117.9 L612.7 119.7 L613.5 121 L614.2 122.1 L615 123 L615.8 123.6 L616.5 124.1 L617.3 124.4 L618 124.7 L618.8 124.8 L619.5 125 L620.3 125.1 L621.1 125.1 L621.8 125.2 L622.6 125.2" fill="none" stroke="#5a6767" stroke-width="0.603448275862069" stroke-linejoin="round"/>
<path d="M577.1 94.3 L577.9 93.4 L578.6 92.7 L579.4 92.2 L580.1 91.9 L580.9 91.6 L581.6 91.5 L582.4 91.4 L583.2 91.5 L583.9 91.6 L584.7 91.8 L585.4 92.1 L586.2 92.5 L587 92.9 L587.7 93.4 L588.5 93.8 L589.2 94.3 L590 94.8 L590.7 95.2 L591.5 95.5 L592.3 95.6 L593 95.5 L593.8 95.1 L594.5 94.4 L595.3 93.4 L596 92 L596.8 90.2 L597.6 88.3 L598.3 86.4 L599.1 84.6 L599.8 83.3 L600.6 82.6 L601.4 82.7 L602.1 83.7 L602.9 85.4 L603.6 87.7 L604.4 90.6 L605.1 93.9 L605.9 97.4 L606.7 101.1 L607.4 104.7 L608.2 108.2 L608.9 111.3 L609.7 114.1 L610.5 116.5 L611.2 118.5 L612 120.1 L612.7 121.4 L613.5 122.4 L614.2 123.2 L615 123.8 L615.8 124.2 L616.5 124.5 L617.3 124.7 L618 124.9 L618.8 125 L619.5 125.1 L620.3 125.1 L621.1 125.2" fill="none" stroke="#546060" stroke-width="0.6120689655172413" stroke-linejoin="round"/>
<path d="M577.1 93.9 L577.9 93 L578.6 92.3 L579.4 91.9 L580.1 91.5 L580.9 91.3 L581.6 91.1 L582.4 91.1 L583.2 91.1 L583.9 91.3 L584.7 91.5 L585.4 91.8 L586.2 92.1 L587 92.6 L587.7 93 L588.5 93.5 L589.2 94 L590 94.4 L590.7 94.8 L591.5 95.1 L592.3 95.1 L593 95 L593.8 94.5 L594.5 93.8 L595.3 92.7 L596 91.3 L596.8 89.8 L597.6 88.1 L598.3 86.6 L599.1 85.5 L599.8 84.9 L600.6 85 L601.4 85.9 L602.1 87.5 L602.9 89.7 L603.6 92.4 L604.4 95.5 L605.1 98.9 L605.9 102.4 L606.7 105.9 L607.4 109.2 L608.2 112.3 L608.9 114.9 L609.7 117.2 L610.5 119.1 L611.2 120.6 L612 121.8 L612.7 122.7 L613.5 123.4 L614.2 123.9 L615 124.3 L615.8 124.6 L616.5 124.8 L617.3 124.9 L618 125 L618.8 125.1 L619.5 125.2 L620.3 125.2" fill="none" stroke="#4e5959" stroke-width="0.6206896551724138" stroke-linejoin="round"/>
<path d="M577.1 93.6 L577.9 92.7 L578.6 92.1 L579.4 91.6 L580.1 91.3 L580.9 91 L581.6 90.9 L582.4 90.9 L583.2 90.9 L583.9 91 L584.7 91.3 L585.4 91.6 L586.2 91.9 L587 92.3 L587.7 92.8 L588.5 93.3 L589.2 93.8 L590 94.2 L590.7 94.5 L591.5 94.7 L592.3 94.7 L593 94.5 L593.8 94 L594.5 93.3 L595.3 92.2 L596 91 L596.8 89.7 L597.6 88.4 L598.3 87.5 L599.1 87 L599.8 87.1 L600.6 88 L601.4 89.5 L602.1 91.5 L602.9 94.1 L603.6 97.1 L604.4 100.4 L605.1 103.7 L605.9 107.1 L606.7 110.3 L607.4 113.1 L608.2 115.7 L608.9 117.8 L609.7 119.6 L610.5 121 L611.2 122.1 L612 122.9 L612.7 123.6 L613.5 124 L614.2 124.4 L615 124.6 L615.8 124.8 L616.5 125 L617.3 125 L618 125.1 L618.8 125.2 L619.5 125.2" fill="none" stroke="#485252" stroke-width="0.6293103448275862" stroke-linejoin="round"/>
<path d="M577.1 93.4 L577.9 92.5 L578.6 91.9 L579.4 91.5 L580.1 91.2 L580.9 90.9 L581.6 90.8 L582.4 90.7 L583.2 90.8 L583.9 90.9 L584.7 91.1 L585.4 91.4 L586.2 91.8 L587 92.2 L587.7 92.7 L588.5 93.2 L589.2 93.6 L590 94 L590.7 94.3 L591.5 94.5 L592.3 94.4 L593 94.2 L593.8 93.7 L594.5 92.9 L595.3 92 L596 91 L596.8 90 L597.6 89.2 L598.3 88.9 L599.1 89 L599.8 89.9 L600.6 91.3 L601.4 93.3 L602.1 95.8 L602.9 98.6 L603.6 101.7 L604.4 105 L605.1 108.2 L605.9 111.2 L606.7 114 L607.4 116.4 L608.2 118.4 L608.9 120 L609.7 121.4 L610.5 122.4 L611.2 123.2 L612 123.7 L612.7 124.2 L613.5 124.5 L614.2 124.7 L615 124.9 L615.8 125 L616.5 125.1 L617.3 125.1 L618 125.2" fill="none" stroke="#424b4b" stroke-width="0.6379310344827587" stroke-linejoin="round"/>
<path d="M577.1 93.3 L577.9 92.5 L578.6 91.9 L579.4 91.5 L580.1 91.1 L580.9 90.9 L581.6 90.8 L582.4 90.7 L583.2 90.8 L583.9 90.9 L584.7 91.1 L585.4 91.4 L586.2 91.8 L587 92.2 L587.7 92.7 L588.5 93.1 L589.2 93.6 L590 93.9 L590.7 94.2 L591.5 94.3 L592.3 94.2 L593 94 L593.8 93.5 L594.5 92.8 L595.3 92.1 L596 91.4 L596.8 90.8 L597.6 90.6 L598.3 90.8 L599.1 91.7 L599.8 93.1 L600.6 95 L601.4 97.3 L602.1 100.1 L602.9 103.1 L603.6 106.2 L604.4 109.3 L605.1 112.2 L605.9 114.8 L606.7 117 L607.4 118.9 L608.2 120.5 L608.9 121.7 L609.7 122.6 L610.5 123.4 L611.2 123.9 L612 124.3 L612.7 124.6 L613.5 124.8 L614.2 124.9 L615 125 L615.8 125.1 L616.5 125.1 L617.3 125.2" fill="none" stroke="#3d4545" stroke-width="0.646551724137931" stroke-linejoin="round"/>
<path d="M577.1 93.3 L577.9 92.5 L578.6 92 L579.4 91.6 L580.1 91.2 L580.9 91 L581.6 90.9 L582.4 90.8 L583.2 90.9 L583.9 91 L584.7 91.2 L585.4 91.5 L586.2 91.9 L587 92.3 L587.7 92.7 L588.5 93.2 L589.2 93.6 L590 93.9 L590.7 94.2 L591.5 94.2 L592.3 94.2 L593 93.9 L593.8 93.5 L594.5 93 L595.3 92.5 L596 92.2 L596.8 92.1 L597.6 92.5 L598.3 93.3 L599.1 94.7 L599.8 96.5 L600.6 98.8 L601.4 101.5 L602.1 104.3 L602.9 107.3 L603.6 110.3 L604.4 113 L605.1 115.5 L605.9 117.7 L606.7 119.5 L607.4 120.9 L608.2 122 L608.9 122.9 L609.7 123.5 L610.5 124 L611.2 124.4 L612 124.6 L612.7 124.8 L613.5 124.9 L614.2 125 L615 125.1 L615.8 125.2 L616.5 125.2" fill="none" stroke="#384040" stroke-width="0.6551724137931034" stroke-linejoin="round"/>
<path d="M577.1 93.4 L577.9 92.7 L578.6 92.2 L579.4 91.8 L580.1 91.4 L580.9 91.2 L581.6 91.1 L582.4 91 L583.2 91.1 L583.9 91.2 L584.7 91.4 L585.4 91.7 L586.2 92.1 L587 92.5 L587.7 92.9 L588.5 93.3 L589.2 93.7 L590 94 L590.7 94.2 L591.5 94.3 L592.3 94.2 L593 94 L593.8 93.8 L594.5 93.5 L595.3 93.4 L596 93.5 L596.8 94 L597.6 94.9 L598.3 96.2 L599.1 98 L599.8 100.3 L600.6 102.8 L601.4 105.6 L602.1 108.5 L602.9 111.3 L603.6 113.9 L604.4 116.3 L605.1 118.3 L605.9 120 L606.7 121.3 L607.4 122.3 L608.2 123.1 L608.9 123.7 L609.7 124.1 L610.5 124.5 L611.2 124.7 L612 124.9 L612.7 125 L613.5 125.1 L614.2 125.1 L615 125.2" fill="none" stroke="#343a3a" stroke-width="0.6637931034482758" stroke-linejoin="round"/>
<path d="M577.1 93.6 L577.9 93 L578.6 92.5 L579.4 92.1 L580.1 91.8 L580.9 91.5 L581.6 91.4 L582.4 91.4 L583.2 91.4 L583.9 91.5 L584.7 91.8 L585.4 92 L586.2 92.4 L587 92.8 L587.7 93.2 L588.5 93.6 L589.2 93.9 L590 94.2 L590.7 94.4 L591.5 94.5 L592.3 94.5 L593 94.5 L593.8 94.4 L594.5 94.5 L595.3 94.7 L596 95.3 L596.8 96.3 L597.6 97.7 L598.3 99.4 L599.1 101.6 L599.8 104.1 L600.6 106.8 L601.4 109.5 L602.1 112.2 L602.9 114.8 L603.6 117 L604.4 118.9 L605.1 120.4 L605.9 121.7 L606.7 122.6 L607.4 123.3 L608.2 123.9 L608.9 124.3 L609.7 124.6 L610.5 124.8 L611.2 124.9 L612 125 L612.7 125.1 L613.5 125.2 L614.2 125.2" fill="none" stroke="#303535" stroke-width="0.6724137931034483" stroke-linejoin="round"/>
<path d="M577.1 94 L577.9 93.3 L578.6 92.9 L579.4 92.5 L580.1 92.2 L580.9 92 L581.6 91.8 L582.4 91.8 L583.2 91.8 L583.9 92 L584.7 92.2 L585.4 92.5 L586.2 92.8 L587 93.2 L587.7 93.6 L588.5 93.9 L589.2 94.3 L590 94.6 L590.7 94.8 L591.5 94.9 L592.3 95.1 L593 95.2 L593.8 95.4 L594.5 95.9 L595.3 96.6 L596 97.6 L596.8 99 L597.6 100.8 L598.3 102.9 L599.1 105.3 L599.8 107.9 L600.6 110.6 L601.4 113.2 L602.1 115.6 L602.9 117.7 L603.6 119.5 L604.4 120.9 L605.1 122 L605.9 122.9 L606.7 123.6 L607.4 124 L608.2 124.4 L608.9 124.6 L609.7 124.8 L610.5 125 L611.2 125.1 L612 125.1 L612.7 125.2" fill="none" stroke="#2c3131" stroke-width="0.6810344827586207" stroke-linejoin="round"/>
<path d="M577.1 94.4 L577.9 93.8 L578.6 93.4 L579.4 93 L580.1 92.7 L580.9 92.5 L581.6 92.4 L582.4 92.3 L583.2 92.4 L583.9 92.5 L584.7 92.7 L585.4 93 L586.2 93.3 L587 93.7 L587.7 94.1 L588.5 94.4 L589.2 94.8 L590 95.1 L590.7 95.3 L591.5 95.6 L592.3 95.9 L593 96.3 L593.8 96.9 L594.5 97.7 L595.3 98.8 L596 100.3 L596.8 102.1 L597.6 104.2 L598.3 106.5 L599.1 109.1 L599.8 111.7 L600.6 114.1 L601.4 116.4 L602.1 118.4 L602.9 120.1 L603.6 121.4 L604.4 122.4 L605.1 123.2 L605.9 123.8 L606.7 124.2 L607.4 124.5 L608.2 124.7 L608.9 124.9 L609.7 125 L610.5 125.1 L611.2 125.1 L612 125.2" fill="none" stroke="#292d2d" stroke-width="0.6896551724137931" stroke-linejoin="round"/>
<path d="M577.1 95 L577.9 94.4 L578.6 94 L579.4 93.6 L580.1 93.3 L580.9 93.1 L581.6 93 L582.4 93 L583.2 93 L583.9 93.1 L584.7 93.4 L585.4 93.6 L586.2 93.9 L587 94.3 L587.7 94.7 L588.5 95 L589.2 95.4 L590 95.8 L590.7 96.2 L591.5 96.6 L592.3 97.1 L593 97.8 L593.8 98.8 L594.5 100 L595.3 101.5 L596 103.3 L596.8 105.4 L597.6 107.8 L598.3 110.2 L599.1 112.7 L599.8 115.1 L600.6 117.3 L601.4 119.1 L602.1 120.6 L602.9 121.8 L603.6 122.8 L604.4 123.5 L605.1 124 L605.9 124.4 L606.7 124.6 L607.4 124.8 L608.2 125 L608.9 125.1 L609.7 125.1 L610.5 125.2" fill="none" stroke="#262929" stroke-width="0.6982758620689655" stroke-linejoin="round"/>
<path d="M577.1 95.7 L577.9 95.1 L578.6 94.7 L579.4 94.4 L580.1 94.1 L580.9 93.9 L581.6 93.8 L582.4 93.7 L583.2 93.8 L583.9 93.9 L584.7 94.1 L585.4 94.4 L586.2 94.7 L587 95 L587.7 95.4 L588.5 95.8 L589.2 96.3 L590 96.7 L590.7 97.3 L591.5 97.9 L592.3 98.8 L593 99.8 L593.8 101.1 L594.5 102.7 L595.3 104.5 L596 106.7 L596.8 109 L597.6 111.5 L598.3 113.9 L599.1 116.2 L599.8 118.2 L600.6 119.9 L601.4 121.3 L602.1 122.3 L602.9 123.2 L603.6 123.8 L604.4 124.2 L605.1 124.5 L605.9 124.7 L606.7 124.9 L607.4 125 L608.2 125.1 L608.9 125.2 L609.7 125.2" fill="none" stroke="#232626" stroke-width="0.7068965517241379" stroke-linejoin="round"/>
<path d="M577.1 96.4 L577.9 96 L578.6 95.6 L579.4 95.2 L580.1 94.9 L580.9 94.8 L581.6 94.6 L582.4 94.6 L583.2 94.6 L583.9 94.8 L584.7 95 L585.4 95.2 L586.2 95.6 L587 95.9 L587.7 96.3 L588.5 96.8 L589.2 97.4 L590 98 L590.7 98.8 L591.5 99.7 L592.3 100.8 L593 102.2 L593.8 103.9 L594.5 105.8 L595.3 108 L596 110.4 L596.8 112.8 L597.6 115.1 L598.3 117.3 L599.1 119.1 L599.8 120.7 L600.6 121.9 L601.4 122.8 L602.1 123.5 L602.9 124.1 L603.6 124.4 L604.4 124.7 L605.1 124.9 L605.9 125 L606.7 125.1 L607.4 125.2 L608.2 125.2" fill="none" stroke="#212323" stroke-width="0.7155172413793103" stroke-linejoin="round"/>
<path d="M577.1 97.3 L577.9 96.9 L578.6 96.5 L579.4 96.2 L580.1 95.9 L580.9 95.7 L581.6 95.6 L582.4 95.6 L583.2 95.6 L583.9 95.8 L584.7 96 L585.4 96.2 L586.2 96.6 L587 97 L587.7 97.5 L588.5 98.1 L589.2 98.8 L590 99.7 L590.7 100.7 L591.5 101.9 L592.3 103.4 L593 105.2 L593.8 107.2 L594.5 109.5 L595.3 111.9 L596 114.3 L596.8 116.5 L597.6 118.5 L598.3 120.2 L599.1 121.6 L599.8 122.6 L600.6 123.4 L601.4 123.9 L602.1 124.3 L602.9 124.6 L603.6 124.8 L604.4 125 L605.1 125.1 L605.9 125.1 L606.7 125.2" fill="none" stroke="#1f2121" stroke-width="0.7241379310344828" stroke-linejoin="round"/>
<path d="M577.1 98.3 L577.9 97.9 L578.6 97.5 L579.4 97.2 L580.1 97 L580.9 96.8 L581.6 96.7 L582.4 96.7 L583.2 96.8 L583.9 96.9 L584.7 97.1 L585.4 97.4 L586.2 97.9 L587 98.4 L587.7 99 L588.5 99.8 L589.2 100.7 L590 101.9 L590.7 103.3 L591.5 104.9 L592.3 106.9 L593 109.1 L593.8 111.4 L594.5 113.8 L595.3 116.1 L596 118.2 L596.8 120 L597.6 121.4 L598.3 122.5 L599.1 123.3 L599.8 123.9 L600.6 124.3 L601.4 124.6 L602.1 124.8 L602.9 125 L603.6 125.1 L604.4 125.2 L605.1 125.2" fill="none" stroke="#1d2020" stroke-width="0.7327586206896551" stroke-linejoin="round"/>
<path d="M577.1 99.4 L577.9 99 L578.6 98.7 L579.4 98.4 L580.1 98.2 L580.9 98 L581.6 97.9 L582.4 97.9 L583.2 98 L583.9 98.2 L584.7 98.5 L585.4 98.9 L586.2 99.5 L587 100.2 L587.7 101 L588.5 102.1 L589.2 103.5 L590 105.1 L590.7 107.1 L591.5 109.3 L592.3 111.7 L593 114.2 L593.8 116.5 L594.5 118.6 L595.3 120.3 L596 121.7 L596.8 122.8 L597.6 123.5 L598.3 124.1 L599.1 124.5 L599.8 124.7 L600.6 124.9 L601.4 125 L602.1 125.1 L602.9 125.2" fill="none" stroke="#1c1e1e" stroke-width="0.7413793103448276" stroke-linejoin="round"/>
<path d="M577.1 100.7 L577.9 100.3 L578.6 100 L579.4 99.8 L580.1 99.6 L580.9 99.5 L581.6 99.5 L582.4 99.6 L583.2 99.9 L583.9 100.3 L584.7 100.9 L585.4 101.8 L586.2 103 L587 104.5 L587.7 106.3 L588.5 108.5 L589.2 111 L590 113.6 L590.7 116.1 L591.5 118.3 L592.3 120.2 L593 121.6 L593.8 122.7 L594.5 123.5 L595.3 124.1 L596 124.5 L596.8 124.8 L597.6 124.9 L598.3 125.1 L599.1 125.1 L599.8 125.2" fill="none" stroke="#1c1e1e" stroke-width="0.75" stroke-linejoin="round"/>
<rect x="577.1" y="30.7" width="75.8" height="94.6" fill="none" stroke="#111" stroke-width="0.8"/>
<line x1="577.1" y1="125.3" x2="577.1" y2="123.8" stroke="#000" stroke-width="0.5"/>
<text x="577.1" y="134" font-size="7.9" text-anchor="middle" stroke="#000" stroke-width="0.1">-20</text>
<line x1="592.3" y1="125.3" x2="592.3" y2="123.8" stroke="#000" stroke-width="0.5"/>
<text x="592.3" y="134" font-size="7.9" text-anchor="middle" stroke="#000" stroke-width="0.1">0</text>
<line x1="607.4" y1="125.3" x2="607.4" y2="123.8" stroke="#000" stroke-width="0.5"/>
<text x="607.4" y="134" font-size="7.9" text-anchor="middle" stroke="#000" stroke-width="0.1">20</text>
<line x1="622.6" y1="125.3" x2="622.6" y2="123.8" stroke="#000" stroke-width="0.5"/>
<text x="622.6" y="134" font-size="7.9" text-anchor="middle" stroke="#000" stroke-width="0.1">40</text>
<line x1="637.7" y1="125.3" x2="637.7" y2="123.8" stroke="#000" stroke-width="0.5"/>
<text x="637.7" y="134" font-size="7.9" text-anchor="middle" stroke="#000" stroke-width="0.1">60</text>
<line x1="652.9" y1="125.3" x2="652.9" y2="123.8" stroke="#000" stroke-width="0.5"/>
<text x="652.9" y="134" font-size="7.9" text-anchor="middle" stroke="#000" stroke-width="0.1">80</text>
<line x1="577.1" y1="103.8" x2="578.6" y2="103.8" stroke="#000" stroke-width="0.5"/>
<line x1="577.1" y1="82.2" x2="578.6" y2="82.2" stroke="#000" stroke-width="0.5"/>
<line x1="577.1" y1="60.7" x2="578.6" y2="60.7" stroke="#000" stroke-width="0.5"/>
<line x1="577.1" y1="39.2" x2="578.6" y2="39.2" stroke="#000" stroke-width="0.5"/>
<text x="575.6" y="41.8" font-size="7.9" text-anchor="end" stroke="#000" stroke-width="0.1">100</text>
<text x="577.6" y="27.6" font-size="7.9" stroke="#000" stroke-width="0.1">Time <tspan font-style="italic">t</tspan> = 1e4s</text>
<text x="573.2" y="84.3" font-size="7.9" text-anchor="middle" transform="rotate(-90 573.2 84.3)" stroke="#000" stroke-width="0.1">Δ<tspan font-style="italic">E</tspan><tspan font-style="italic">τ</tspan> [MPa]</text>
<text x="615" y="141.3" font-size="7.9" text-anchor="middle" stroke="#000" stroke-width="0.1"><tspan font-style="italic">T</tspan> [°C]</text>
<line x1="610.8" y1="51.1" x2="621" y2="46" stroke="#000" stroke-width="0.6"/>
<path d="M610.8 49.6 L612.3 51.1 L610.8 52.6 L609.3 51.1 Z" fill="#fff" stroke="#111" stroke-width="0.5"/>
<text x="621.5" y="47" font-size="7.9" stroke="#000" stroke-width="0.1">VW</text>
<line x1="586" y1="95" x2="589" y2="86" stroke="#000" stroke-width="0.6"/>
<rect x="584.9" y="93.9" width="2.2" height="2.2" fill="#fff" stroke="#111" stroke-width="0.5"/>
<text x="581.8" y="84" font-size="7.9" stroke="#000" stroke-width="0.1">AB</text>
<defs><linearGradient id="cbB" x1="0" y1="1" x2="0" y2="0"><stop offset="0.0" stop-color="#1c1e1e"/><stop offset="0.1" stop-color="#2d3232"/><stop offset="0.2" stop-color="#3e4646"/><stop offset="0.3" stop-color="#4e5959"/><stop offset="0.4" stop-color="#5f6d6d"/><stop offset="0.5" stop-color="#708181"/><stop offset="0.6" stop-color="#819595"/><stop offset="0.7" stop-color="#92a9a9"/><stop offset="0.8" stop-color="#a2bcbc"/><stop offset="0.9" stop-color="#b3d0d0"/><stop offset="1.0" stop-color="#c4e4e4"/></linearGradient></defs>
<rect x="665.2" y="31" width="6.2" height="94.3" fill="url(#cbB)" stroke="#111" stroke-width="0.6"/>
<text x="668.3" y="28" font-size="7.9" text-anchor="middle" stroke="#000" stroke-width="0.1">VW</text>
<text x="668.3" y="134" font-size="7.9" text-anchor="middle" stroke="#000" stroke-width="0.1">AB</text>
<text x="3.9" y="167.9" font-size="13.2" font-weight="bold" stroke="#000" stroke-width="0.1">c</text>
<text x="18.9" y="167.2" font-size="9.35" stroke="#000" stroke-width="0.1">Material Mixture Estimation</text>
<path d="M61.4 198.3 L141.8 208.4 L141.8 213.9 L61.4 216.6 Z" fill="#000" fill-opacity="0.075"/>
<path d="M61.4 203.8 L119 243.1 L119 246.8 L61.4 227.6 Z" fill="#000" fill-opacity="0.075"/>
<path d="M61.4 213 L160.8 250.5 L160.8 253.2 L61.4 223 Z" fill="#000" fill-opacity="0.075"/>
<path d="M38.3 180.7 L43 183.5 L37.1 185.7 L32.3 182.9 Z" fill="#161616" stroke="#161616" stroke-width="0.35"/>
<path d="M43 183.5 L47.7 186.3 L41.8 188.5 L37.1 185.7 Z" fill="#161616" stroke="#161616" stroke-width="0.35"/>
<path d="M47.7 186.3 L52.5 189.1 L46.5 191.3 L41.8 188.5 Z" fill="#161616" stroke="#161616" stroke-width="0.35"/>
<path d="M52.5 189.1 L57.2 191.9 L51.2 194.1 L46.5 191.3 Z" fill="#161616" stroke="#161616" stroke-width="0.35"/>
<path d="M57.2 191.9 L61.9 194.7 L55.9 196.9 L51.2 194.1 Z" fill="#bfe2e2" stroke="#3a4545" stroke-width="0.35"/>
<path d="M32.3 182.9 L37.1 185.7 L31.1 187.9 L26.4 185.1 Z" fill="#161616" stroke="#161616" stroke-width="0.35"/>
<path d="M37.1 185.7 L41.8 188.5 L35.8 190.7 L31.1 187.9 Z" fill="#161616" stroke="#161616" stroke-width="0.35"/>
<path d="M41.8 188.5 L46.5 191.3 L40.5 193.5 L35.8 190.7 Z" fill="#161616" stroke="#161616" stroke-width="0.35"/>
<path d="M46.5 191.3 L51.2 194.1 L45.3 196.3 L40.5 193.5 Z" fill="#bfe2e2" stroke="#3a4545" stroke-width="0.35"/>
<path d="M51.2 194.1 L55.9 196.9 L50 199.1 L45.3 196.3 Z" fill="#161616" stroke="#161616" stroke-width="0.35"/>
<path d="M26.4 185.1 L31.1 187.9 L25.1 190 L20.4 187.2 Z" fill="#161616" stroke="#161616" stroke-width="0.35"/>
<path d="M31.1 187.9 L35.8 190.7 L29.9 192.8 L25.1 190 Z" fill="#bfe2e2" stroke="#3a4545" stroke-width="0.35"/>
<path d="M35.8 190.7 L40.5 193.5 L34.6 195.6 L29.9 192.8 Z" fill="#bfe2e2" stroke="#3a4545" stroke-width="0.35"/>
<path d="M40.5 193.5 L45.3 196.3 L39.3 198.4 L34.6 195.6 Z" fill="#161616" stroke="#161616" stroke-width="0.35"/>
<path d="M45.3 196.3 L50 199.1 L44 201.2 L39.3 198.4 Z" fill="#161616" stroke="#161616" stroke-width="0.35"/>
<path d="M20.4 187.2 L25.1 190 L19.2 192.2 L14.5 189.4 Z" fill="#bfe2e2" stroke="#3a4545" stroke-width="0.35"/>
<path d="M25.1 190 L29.9 192.8 L23.9 195 L19.2 192.2 Z" fill="#161616" stroke="#161616" stroke-width="0.35"/>
<path d="M29.9 192.8 L34.6 195.6 L28.6 197.8 L23.9 195 Z" fill="#bfe2e2" stroke="#3a4545" stroke-width="0.35"/>
<path d="M34.6 195.6 L39.3 198.4 L33.3 200.6 L28.6 197.8 Z" fill="#bfe2e2" stroke="#3a4545" stroke-width="0.35"/>
<path d="M39.3 198.4 L44 201.2 L38.1 203.4 L33.3 200.6 Z" fill="#bfe2e2" stroke="#3a4545" stroke-width="0.35"/>
<path d="M14.5 189.4 L19.2 192.2 L13.2 194.4 L8.5 191.6 Z" fill="#161616" stroke="#161616" stroke-width="0.35"/>
<path d="M19.2 192.2 L23.9 195 L17.9 197.2 L13.2 194.4 Z" fill="#bfe2e2" stroke="#3a4545" stroke-width="0.35"/>
<path d="M23.9 195 L28.6 197.8 L22.7 200 L17.9 197.2 Z" fill="#bfe2e2" stroke="#3a4545" stroke-width="0.35"/>
<path d="M28.6 197.8 L33.3 200.6 L27.4 202.8 L22.7 200 Z" fill="#bfe2e2" stroke="#3a4545" stroke-width="0.35"/>
<path d="M33.3 200.6 L38.1 203.4 L32.1 205.6 L27.4 202.8 Z" fill="#bfe2e2" stroke="#3a4545" stroke-width="0.35"/>
<path d="M8.5 191.6 L13.2 194.3 L13.3 201.1 L8.6 198.3 Z" fill="#161616" stroke="#161616" stroke-width="0.35"/>
<path d="M13.2 194.3 L17.9 197.1 L18 203.8 L13.3 201.1 Z" fill="#bfe2e2" stroke="#3a4545" stroke-width="0.35"/>
<path d="M17.9 197.1 L22.6 199.8 L22.7 206.5 L18 203.8 Z" fill="#161616" stroke="#161616" stroke-width="0.35"/>
<path d="M22.6 199.8 L27.3 202.6 L27.4 209.3 L22.7 206.5 Z" fill="#bfe2e2" stroke="#3a4545" stroke-width="0.35"/>
<path d="M27.3 202.6 L32 205.3 L32.1 212 L27.4 209.3 Z" fill="#bfe2e2" stroke="#3a4545" stroke-width="0.35"/>
<path d="M8.6 198.3 L13.3 201.1 L13.4 207.8 L8.7 205 Z" fill="#bfe2e2" stroke="#3a4545" stroke-width="0.35"/>
<path d="M13.3 201.1 L18 203.8 L18.1 210.5 L13.4 207.8 Z" fill="#bfe2e2" stroke="#3a4545" stroke-width="0.35"/>
<path d="M18 203.8 L22.7 206.5 L22.8 213.3 L18.1 210.5 Z" fill="#161616" stroke="#161616" stroke-width="0.35"/>
<path d="M22.7 206.5 L27.4 209.3 L27.5 216 L22.8 213.3 Z" fill="#bfe2e2" stroke="#3a4545" stroke-width="0.35"/>
<path d="M27.4 209.3 L32.1 212 L32.2 218.7 L27.5 216 Z" fill="#bfe2e2" stroke="#3a4545" stroke-width="0.35"/>
<path d="M8.7 205 L13.4 207.8 L13.5 214.5 L8.8 211.8 Z" fill="#bfe2e2" stroke="#3a4545" stroke-width="0.35"/>
<path d="M13.4 207.8 L18.1 210.5 L18.2 217.2 L13.5 214.5 Z" fill="#bfe2e2" stroke="#3a4545" stroke-width="0.35"/>
<path d="M18.1 210.5 L22.8 213.3 L22.9 220 L18.2 217.2 Z" fill="#161616" stroke="#161616" stroke-width="0.35"/>
<path d="M22.8 213.3 L27.5 216 L27.6 222.7 L22.9 220 Z" fill="#bfe2e2" stroke="#3a4545" stroke-width="0.35"/>
<path d="M27.5 216 L32.2 218.7 L32.3 225.5 L27.6 222.7 Z" fill="#bfe2e2" stroke="#3a4545" stroke-width="0.35"/>
<path d="M8.8 211.8 L13.5 214.5 L13.6 221.2 L8.9 218.5 Z" fill="#bfe2e2" stroke="#3a4545" stroke-width="0.35"/>
<path d="M13.5 214.5 L18.2 217.2 L18.3 224 L13.6 221.2 Z" fill="#bfe2e2" stroke="#3a4545" stroke-width="0.35"/>
<path d="M18.2 217.2 L22.9 220 L23 226.7 L18.3 224 Z" fill="#bfe2e2" stroke="#3a4545" stroke-width="0.35"/>
<path d="M22.9 220 L27.6 222.7 L27.7 229.4 L23 226.7 Z" fill="#161616" stroke="#161616" stroke-width="0.35"/>
<path d="M27.6 222.7 L32.3 225.5 L32.4 232.2 L27.7 229.4 Z" fill="#bfe2e2" stroke="#3a4545" stroke-width="0.35"/>
<path d="M8.9 218.5 L13.6 221.2 L13.7 227.9 L9 225.2 Z" fill="#161616" stroke="#161616" stroke-width="0.35"/>
<path d="M13.6 221.2 L18.3 224 L18.4 230.7 L13.7 227.9 Z" fill="#161616" stroke="#161616" stroke-width="0.35"/>
<path d="M18.3 224 L23 226.7 L23.1 233.4 L18.4 230.7 Z" fill="#bfe2e2" stroke="#3a4545" stroke-width="0.35"/>
<path d="M23 226.7 L27.7 229.4 L27.8 236.2 L23.1 233.4 Z" fill="#161616" stroke="#161616" stroke-width="0.35"/>
<path d="M27.7 229.4 L32.4 232.2 L32.5 238.9 L27.8 236.2 Z" fill="#161616" stroke="#161616" stroke-width="0.35"/>
<path d="M32 205.3 L38 203.2 L37.9 209.8 L31.9 212 Z" fill="#bfe2e2" stroke="#3a4545" stroke-width="0.35"/>
<path d="M38 203.2 L44 201.1 L43.8 207.7 L37.9 209.8 Z" fill="#bfe2e2" stroke="#3a4545" stroke-width="0.35"/>
<path d="M44 201.1 L49.9 198.9 L49.8 205.6 L43.8 207.7 Z" fill="#bfe2e2" stroke="#3a4545" stroke-width="0.35"/>
<path d="M49.9 198.9 L55.9 196.8 L55.8 203.5 L49.8 205.6 Z" fill="#161616" stroke="#161616" stroke-width="0.35"/>
<path d="M55.9 196.8 L61.9 194.7 L61.8 201.4 L55.8 203.5 Z" fill="#bfe2e2" stroke="#3a4545" stroke-width="0.35"/>
<path d="M31.9 212 L37.9 209.8 L37.7 216.5 L31.8 218.6 Z" fill="#bfe2e2" stroke="#3a4545" stroke-width="0.35"/>
<path d="M37.9 209.8 L43.8 207.7 L43.7 214.4 L37.7 216.5 Z" fill="#161616" stroke="#161616" stroke-width="0.35"/>
<path d="M43.8 207.7 L49.8 205.6 L49.7 212.3 L43.7 214.4 Z" fill="#161616" stroke="#161616" stroke-width="0.35"/>
<path d="M49.8 205.6 L55.8 203.5 L55.7 210.1 L49.7 212.3 Z" fill="#161616" stroke="#161616" stroke-width="0.35"/>
<path d="M55.8 203.5 L61.8 201.4 L61.7 208 L55.7 210.1 Z" fill="#bfe2e2" stroke="#3a4545" stroke-width="0.35"/>
<path d="M31.8 218.6 L37.7 216.5 L37.6 223.2 L31.6 225.3 Z" fill="#bfe2e2" stroke="#3a4545" stroke-width="0.35"/>
<path d="M37.7 216.5 L43.7 214.4 L43.6 221 L37.6 223.2 Z" fill="#bfe2e2" stroke="#3a4545" stroke-width="0.35"/>
<path d="M43.7 214.4 L49.7 212.3 L49.6 218.9 L43.6 221 Z" fill="#bfe2e2" stroke="#3a4545" stroke-width="0.35"/>
<path d="M49.7 212.3 L55.7 210.1 L55.6 216.8 L49.6 218.9 Z" fill="#bfe2e2" stroke="#3a4545" stroke-width="0.35"/>
<path d="M55.7 210.1 L61.7 208 L61.5 214.7 L55.6 216.8 Z" fill="#161616" stroke="#161616" stroke-width="0.35"/>
<path d="M31.6 225.3 L37.6 223.2 L37.5 229.8 L31.5 231.9 Z" fill="#bfe2e2" stroke="#3a4545" stroke-width="0.35"/>
<path d="M37.6 223.2 L43.6 221 L43.5 227.7 L37.5 229.8 Z" fill="#bfe2e2" stroke="#3a4545" stroke-width="0.35"/>
<path d="M43.6 221 L49.6 218.9 L49.5 225.6 L43.5 227.7 Z" fill="#bfe2e2" stroke="#3a4545" stroke-width="0.35"/>
<path d="M49.6 218.9 L55.6 216.8 L55.4 223.5 L49.5 225.6 Z" fill="#bfe2e2" stroke="#3a4545" stroke-width="0.35"/>
<path d="M55.6 216.8 L61.5 214.7 L61.4 221.3 L55.4 223.5 Z" fill="#bfe2e2" stroke="#3a4545" stroke-width="0.35"/>
<path d="M31.5 231.9 L37.5 229.8 L37.4 236.5 L31.4 238.6 Z" fill="#161616" stroke="#161616" stroke-width="0.35"/>
<path d="M37.5 229.8 L43.5 227.7 L43.4 234.4 L37.4 236.5 Z" fill="#bfe2e2" stroke="#3a4545" stroke-width="0.35"/>
<path d="M43.5 227.7 L49.5 225.6 L49.3 232.2 L43.4 234.4 Z" fill="#161616" stroke="#161616" stroke-width="0.35"/>
<path d="M49.5 225.6 L55.4 223.5 L55.3 230.1 L49.3 232.2 Z" fill="#bfe2e2" stroke="#3a4545" stroke-width="0.35"/>
<path d="M55.4 223.5 L61.4 221.3 L61.3 228 L55.3 230.1 Z" fill="#bfe2e2" stroke="#3a4545" stroke-width="0.35"/>
<line x1="84.6" y1="202.5" x2="84.6" y2="257.5" stroke="#d9d9d9" stroke-width="0.45"/>
<line x1="91.3" y1="200.7" x2="91.3" y2="255.7" stroke="#d9d9d9" stroke-width="0.45"/>
<line x1="98" y1="198.8" x2="98" y2="253.8" stroke="#d9d9d9" stroke-width="0.45"/>
<line x1="104.7" y1="197" x2="104.7" y2="252" stroke="#d9d9d9" stroke-width="0.45"/>
<line x1="111.4" y1="195.2" x2="111.4" y2="250.2" stroke="#d9d9d9" stroke-width="0.45"/>
<line x1="118.2" y1="193.3" x2="118.2" y2="248.3" stroke="#d9d9d9" stroke-width="0.45"/>
<line x1="124.9" y1="191.5" x2="124.9" y2="246.5" stroke="#d9d9d9" stroke-width="0.45"/>
<line x1="131.6" y1="189.7" x2="131.6" y2="244.7" stroke="#d9d9d9" stroke-width="0.45"/>
<line x1="138.3" y1="187.8" x2="138.3" y2="242.8" stroke="#d9d9d9" stroke-width="0.45"/>
<line x1="145" y1="186" x2="145" y2="241" stroke="#d9d9d9" stroke-width="0.45"/>
<line x1="84.6" y1="202.5" x2="145" y2="186" stroke="#d9d9d9" stroke-width="0.45"/>
<line x1="84.6" y1="216.2" x2="145" y2="199.8" stroke="#d9d9d9" stroke-width="0.45"/>
<line x1="84.6" y1="230" x2="145" y2="213.5" stroke="#d9d9d9" stroke-width="0.45"/>
<line x1="84.6" y1="243.8" x2="145" y2="227.2" stroke="#d9d9d9" stroke-width="0.45"/>
<line x1="84.6" y1="257.5" x2="145" y2="241" stroke="#d9d9d9" stroke-width="0.45"/>
<line x1="145" y1="186" x2="145" y2="241" stroke="#d9d9d9" stroke-width="0.45"/>
<line x1="153.1" y1="188.8" x2="153.2" y2="245" stroke="#d9d9d9" stroke-width="0.45"/>
<line x1="161.3" y1="191.5" x2="161.4" y2="249" stroke="#d9d9d9" stroke-width="0.45"/>
<line x1="169.4" y1="194.2" x2="169.6" y2="252.9" stroke="#d9d9d9" stroke-width="0.45"/>
<line x1="177.5" y1="197" x2="177.8" y2="256.9" stroke="#d9d9d9" stroke-width="0.45"/>
<line x1="185.7" y1="199.8" x2="186" y2="260.9" stroke="#d9d9d9" stroke-width="0.45"/>
<line x1="193.8" y1="202.5" x2="194.2" y2="264.9" stroke="#d9d9d9" stroke-width="0.45"/>
<line x1="145" y1="186" x2="193.8" y2="202.5" stroke="#d9d9d9" stroke-width="0.45"/>
<line x1="145" y1="199.8" x2="193.9" y2="218.1" stroke="#d9d9d9" stroke-width="0.45"/>
<line x1="145" y1="213.5" x2="194" y2="233.7" stroke="#d9d9d9" stroke-width="0.45"/>
<line x1="145" y1="227.2" x2="194.1" y2="249.3" stroke="#d9d9d9" stroke-width="0.45"/>
<line x1="145" y1="241" x2="194.2" y2="264.9" stroke="#d9d9d9" stroke-width="0.45"/>
<line x1="84.6" y1="257.5" x2="130.5" y2="284.2" stroke="#d9d9d9" stroke-width="0.45"/>
<line x1="91.3" y1="255.7" x2="137.6" y2="282.1" stroke="#d9d9d9" stroke-width="0.45"/>
<line x1="98" y1="253.8" x2="144.7" y2="279.9" stroke="#d9d9d9" stroke-width="0.45"/>
<line x1="104.7" y1="252" x2="151.7" y2="277.8" stroke="#d9d9d9" stroke-width="0.45"/>
<line x1="111.4" y1="250.2" x2="158.8" y2="275.6" stroke="#d9d9d9" stroke-width="0.45"/>
<line x1="118.2" y1="248.3" x2="165.9" y2="273.5" stroke="#d9d9d9" stroke-width="0.45"/>
<line x1="124.9" y1="246.5" x2="173" y2="271.3" stroke="#d9d9d9" stroke-width="0.45"/>
<line x1="131.6" y1="244.7" x2="180" y2="269.2" stroke="#d9d9d9" stroke-width="0.45"/>
<line x1="138.3" y1="242.8" x2="187.1" y2="267" stroke="#d9d9d9" stroke-width="0.45"/>
<line x1="145" y1="241" x2="194.2" y2="264.9" stroke="#d9d9d9" stroke-width="0.45"/>
<line x1="84.6" y1="257.5" x2="145" y2="241" stroke="#d9d9d9" stroke-width="0.45"/>
<line x1="92.2" y1="261.9" x2="153.2" y2="245" stroke="#d9d9d9" stroke-width="0.45"/>
<line x1="99.9" y1="266.4" x2="161.4" y2="249" stroke="#d9d9d9" stroke-width="0.45"/>
<line x1="107.5" y1="270.9" x2="169.6" y2="252.9" stroke="#d9d9d9" stroke-width="0.45"/>
<line x1="115.2" y1="275.3" x2="177.8" y2="256.9" stroke="#d9d9d9" stroke-width="0.45"/>
<line x1="122.8" y1="279.8" x2="186" y2="260.9" stroke="#d9d9d9" stroke-width="0.45"/>
<line x1="130.5" y1="284.2" x2="194.2" y2="264.9" stroke="#d9d9d9" stroke-width="0.45"/>
<line x1="84.6" y1="202.5" x2="84.6" y2="257.5" stroke="#222" stroke-width="0.7"/>
<line x1="84.6" y1="257.5" x2="130.5" y2="284.2" stroke="#222" stroke-width="0.7"/>
<line x1="130.5" y1="284.2" x2="194.2" y2="264.9" stroke="#222" stroke-width="0.7"/>
<line x1="84.6" y1="202.5" x2="86" y2="202.1" stroke="#222" stroke-width="0.5"/>
<line x1="84.6" y1="216.2" x2="86" y2="215.8" stroke="#222" stroke-width="0.5"/>
<line x1="84.6" y1="230" x2="86" y2="229.6" stroke="#222" stroke-width="0.5"/>
<line x1="84.6" y1="243.8" x2="86" y2="243.3" stroke="#222" stroke-width="0.5"/>
<line x1="84.6" y1="257.5" x2="86" y2="257.1" stroke="#222" stroke-width="0.5"/>
<text x="69" y="184.9" font-size="7.9" stroke="#000" stroke-width="0.1">Requirements</text>
<text x="83.3" y="205" font-size="7.9" text-anchor="end" stroke="#000" stroke-width="0.1">2e3</text>
<text x="83.3" y="260" font-size="7.9" text-anchor="end" stroke="#000" stroke-width="0.1">0</text>
<text x="78.3" y="227.5" font-size="7.9" text-anchor="middle" transform="rotate(-90 78.3 227.5)" stroke="#000" stroke-width="0.1"><tspan font-style="italic">E</tspan> [MPa]</text>
<text x="90.5" y="270.5" font-size="7.9" text-anchor="middle" stroke="#000" stroke-width="0.1">0</text>
<text x="89.5" y="283.6" font-size="7.9" stroke="#000" stroke-width="0.1"><tspan font-style="italic">T</tspan> [°C]</text>
<text x="124.4" y="291.5" font-size="7.9" text-anchor="middle" stroke="#000" stroke-width="0.1">80</text>
<text x="136.4" y="289.6" font-size="7.9" stroke="#000" stroke-width="0.1">10<tspan font-size="4.8" dy="-3">-6</tspan></text>
<text x="159.1" y="286.6" font-size="7.9" stroke="#000" stroke-width="0.1"><tspan font-style="italic">t</tspan> [s]</text>
<text x="176.6" y="277.3" font-size="7.9" stroke="#000" stroke-width="0.1">10<tspan font-size="4.8" dy="-3">0</tspan></text>
<circle cx="139.5" cy="214.1" r="1.2" fill="#fff" stroke="#333" stroke-width="0.6"/>
<circle cx="137.2" cy="217.6" r="1.2" fill="#fff" stroke="#333" stroke-width="0.6"/>
<circle cx="135" cy="221" r="1.2" fill="#fff" stroke="#333" stroke-width="0.6"/>
<circle cx="132.7" cy="224.4" r="1.2" fill="#fff" stroke="#333" stroke-width="0.6"/>
<circle cx="130.4" cy="227.8" r="1.2" fill="#fff" stroke="#333" stroke-width="0.6"/>
<circle cx="128.1" cy="231.3" r="1.2" fill="#fff" stroke="#333" stroke-width="0.6"/>
<circle cx="125.8" cy="234.7" r="1.2" fill="#fff" stroke="#333" stroke-width="0.6"/>
<circle cx="123.6" cy="238.1" r="1.2" fill="#fff" stroke="#333" stroke-width="0.6"/>
<circle cx="121.3" cy="241.6" r="1.2" fill="#fff" stroke="#333" stroke-width="0.6"/>
<circle cx="143.7" cy="214.9" r="1.2" fill="#fff" stroke="#333" stroke-width="0.6"/>
<circle cx="145.6" cy="219.1" r="1.2" fill="#fff" stroke="#333" stroke-width="0.6"/>
<circle cx="147.5" cy="223.2" r="1.2" fill="#fff" stroke="#333" stroke-width="0.6"/>
<circle cx="149.4" cy="227.4" r="1.2" fill="#fff" stroke="#333" stroke-width="0.6"/>
<circle cx="151.3" cy="231.6" r="1.2" fill="#fff" stroke="#333" stroke-width="0.6"/>
<circle cx="153.2" cy="235.8" r="1.2" fill="#fff" stroke="#333" stroke-width="0.6"/>
<circle cx="155.1" cy="240" r="1.2" fill="#fff" stroke="#333" stroke-width="0.6"/>
<circle cx="157" cy="244.1" r="1.2" fill="#fff" stroke="#333" stroke-width="0.6"/>
<circle cx="158.9" cy="248.3" r="1.2" fill="#fff" stroke="#333" stroke-width="0.6"/>
<circle cx="123.6" cy="245.8" r="1.2" fill="#fff" stroke="#333" stroke-width="0.6"/>
<circle cx="128.3" cy="246.7" r="1.2" fill="#fff" stroke="#333" stroke-width="0.6"/>
<circle cx="132.9" cy="247.5" r="1.2" fill="#fff" stroke="#333" stroke-width="0.6"/>
<circle cx="137.6" cy="248.3" r="1.2" fill="#fff" stroke="#333" stroke-width="0.6"/>
<circle cx="142.2" cy="249.2" r="1.2" fill="#fff" stroke="#333" stroke-width="0.6"/>
<circle cx="146.9" cy="250" r="1.2" fill="#fff" stroke="#333" stroke-width="0.6"/>
<circle cx="151.5" cy="250.8" r="1.2" fill="#fff" stroke="#333" stroke-width="0.6"/>
<circle cx="156.2" cy="251.7" r="1.2" fill="#fff" stroke="#333" stroke-width="0.6"/>
<line x1="141.8" y1="210.7" x2="141.8" y2="249.2" stroke="#666" stroke-width="0.9"/>
<line x1="119" y1="245" x2="119" y2="271.8" stroke="#666" stroke-width="0.9"/>
<line x1="160.8" y1="252.5" x2="160.8" y2="258.8" stroke="#666" stroke-width="0.9"/>
<circle cx="141.8" cy="210.7" r="2.6" fill="#7d1f86" stroke="#3a0a40" stroke-width="0.4"/>
<circle cx="119" cy="245" r="2.6" fill="#7d1f86" stroke="#3a0a40" stroke-width="0.4"/>
<circle cx="160.8" cy="252.5" r="2.6" fill="#7d1f86" stroke="#3a0a40" stroke-width="0.4"/>
<rect x="2.9" y="267.3" width="79.9" height="20" fill="#fff" stroke="#222" stroke-width="0.7"/>
<circle cx="7.8" cy="271.8" r="2.5" fill="#7d1f86" stroke="#3a0a40" stroke-width="0.4"/>
<text x="12.7" y="275.4" font-size="7.9" textLength="60.5" lengthAdjust="spacingAndGlyphs" stroke="#000" stroke-width="0.1">Target Properties</text>
<circle cx="7.8" cy="281.6" r="1.8" fill="#fff" stroke="#222" stroke-width="0.75"/>
<text x="12.7" y="284.8" font-size="7.9" textLength="68.6" lengthAdjust="spacingAndGlyphs" stroke="#000" stroke-width="0.1">Interpolated Values</text>
<path d="M197.7 211.2 L261.2 237.8 L197.7 265.2 Z" fill="#dedede"/>
<line x1="215.8" y1="225.8" x2="229.5" y2="212.9" stroke="#333" stroke-width="0.3"/>
<line x1="215.8" y1="225.8" x2="229.5" y2="225.8" stroke="#333" stroke-width="0.3"/>
<line x1="215.8" y1="225.8" x2="229.5" y2="237.4" stroke="#333" stroke-width="0.3"/>
<line x1="215.8" y1="225.8" x2="229.5" y2="250.1" stroke="#333" stroke-width="0.3"/>
<line x1="215.8" y1="225.8" x2="229.5" y2="262.1" stroke="#333" stroke-width="0.3"/>
<line x1="215.8" y1="237.4" x2="229.5" y2="212.9" stroke="#333" stroke-width="0.3"/>
<line x1="215.8" y1="237.4" x2="229.5" y2="225.8" stroke="#333" stroke-width="0.3"/>
<line x1="215.8" y1="237.4" x2="229.5" y2="237.4" stroke="#333" stroke-width="0.3"/>
<line x1="215.8" y1="237.4" x2="229.5" y2="250.1" stroke="#333" stroke-width="0.3"/>
<line x1="215.8" y1="237.4" x2="229.5" y2="262.1" stroke="#333" stroke-width="0.3"/>
<line x1="215.8" y1="250.1" x2="229.5" y2="212.9" stroke="#333" stroke-width="0.3"/>
<line x1="215.8" y1="250.1" x2="229.5" y2="225.8" stroke="#333" stroke-width="0.3"/>
<line x1="215.8" y1="250.1" x2="229.5" y2="237.4" stroke="#333" stroke-width="0.3"/>
<line x1="215.8" y1="250.1" x2="229.5" y2="250.1" stroke="#333" stroke-width="0.3"/>
<line x1="215.8" y1="250.1" x2="229.5" y2="262.1" stroke="#333" stroke-width="0.3"/>
<line x1="229.5" y1="212.9" x2="242.4" y2="237.4" stroke="#333" stroke-width="0.3"/>
<line x1="229.5" y1="225.8" x2="242.4" y2="237.4" stroke="#333" stroke-width="0.3"/>
<line x1="229.5" y1="237.4" x2="242.4" y2="237.4" stroke="#333" stroke-width="0.3"/>
<line x1="229.5" y1="250.1" x2="242.4" y2="237.4" stroke="#333" stroke-width="0.3"/>
<line x1="229.5" y1="262.1" x2="242.4" y2="237.4" stroke="#333" stroke-width="0.3"/>
<circle cx="215.8" cy="225.8" r="3.1" fill="#7d1f86" stroke="#3a0a40" stroke-width="0.4"/>
<circle cx="215.8" cy="237.4" r="3.1" fill="#7d1f86" stroke="#3a0a40" stroke-width="0.4"/>
<circle cx="215.8" cy="250.1" r="3.1" fill="#7d1f86" stroke="#3a0a40" stroke-width="0.4"/>
<circle cx="229.5" cy="212.9" r="3.1" fill="#eeeeee" stroke="#555" stroke-width="0.5"/>
<circle cx="229.5" cy="225.8" r="3.1" fill="#eeeeee" stroke="#555" stroke-width="0.5"/>
<circle cx="229.5" cy="237.4" r="3.1" fill="#eeeeee" stroke="#555" stroke-width="0.5"/>
<circle cx="229.5" cy="250.1" r="3.1" fill="#eeeeee" stroke="#555" stroke-width="0.5"/>
<circle cx="229.5" cy="262.1" r="3.1" fill="#eeeeee" stroke="#555" stroke-width="0.5"/>
<circle cx="242.4" cy="237.4" r="3.1" fill="#f4a6c6" stroke="#555" stroke-width="0.5"/>
<text x="205.1" y="228.6" font-size="8" text-anchor="middle" font-style="italic" stroke="#000" stroke-width="0.1">E</text>
<text x="205.1" y="240.2" font-size="8" text-anchor="middle" font-style="italic" stroke="#000" stroke-width="0.1">T</text>
<text x="205.1" y="252.9" font-size="8" text-anchor="middle" font-style="italic" stroke="#000" stroke-width="0.1">t</text>
<text x="253.2" y="240" font-size="8" text-anchor="middle" font-style="italic" stroke="#000" stroke-width="0.1">ρ</text>
<text x="249.5" y="183.4" font-size="7.9" textLength="86.2" lengthAdjust="spacingAndGlyphs" stroke="#000" stroke-width="0.1">Mixture Ratio Histogram</text>
<rect x="266.7" y="191.1" width="9.6" height="84.5" fill="#fadbe8" stroke="#222" stroke-width="0.7"/>
<rect x="276.3" y="240.1" width="9.5" height="35.5" fill="#fadbe8" stroke="#222" stroke-width="0.7"/>
<rect x="285.8" y="264.6" width="8.9" height="11" fill="#fadbe8" stroke="#222" stroke-width="0.7"/>
<rect x="294.7" y="215.6" width="9.8" height="60" fill="#fadbe8" stroke="#222" stroke-width="0.7"/>
<rect x="304.5" y="264.6" width="8.9" height="11" fill="#fadbe8" stroke="#222" stroke-width="0.7"/>
<rect x="313.4" y="215.6" width="9.9" height="60" fill="#fadbe8" stroke="#222" stroke-width="0.7"/>
<rect x="323.3" y="215.6" width="8.9" height="60" fill="#fadbe8" stroke="#222" stroke-width="0.7"/>
<line x1="294.7" y1="188.2" x2="294.7" y2="275.6" stroke="#8a2596" stroke-width="0.9"/>
<rect x="262.9" y="188.2" width="72.8" height="87.4" fill="none" stroke="#111" stroke-width="0.8"/>
<line x1="262.9" y1="215.6" x2="264.4" y2="215.6" stroke="#000" stroke-width="0.5"/>
<line x1="262.9" y1="264.6" x2="264.4" y2="264.6" stroke="#000" stroke-width="0.5"/>
<text x="261.4" y="218.3" font-size="7.9" text-anchor="end" stroke="#000" stroke-width="0.1">5</text>
<text x="261.4" y="267.3" font-size="7.9" text-anchor="end" stroke="#000" stroke-width="0.1">1</text>
<text x="334" y="196.2" font-size="7.9" text-anchor="end" fill="#8a2596" stroke="#8a2596" stroke-width="0.1"><tspan font-style="italic">ρ</tspan><tspan font-size="4.8" dy="1.5" font-style="italic">avg</tspan><tspan dy="-1.5">=0.349</tspan></text>
<text x="334" y="205.2" font-size="7.9" text-anchor="end" stroke="#000" stroke-width="0.1">n = 27</text>
<text x="269.7" y="284.2" font-size="7.9" text-anchor="middle" stroke="#000" stroke-width="0.1">0.33</text>
<text x="328.3" y="284.2" font-size="7.9" text-anchor="middle" stroke="#000" stroke-width="0.1">0.37</text>
<text x="300" y="289.5" font-size="7.9" text-anchor="middle" stroke="#000" stroke-width="0.1"><tspan font-style="italic">ρ</tspan><tspan font-size="4.8" dy="1.5" font-style="italic">est</tspan><tspan dy="-1.5"> [%AB]</tspan></text>
<text x="346.2" y="168" font-size="13.2" font-weight="bold" stroke="#000" stroke-width="0.1">d</text>
<text x="361.3" y="167.3" font-size="9.35" stroke="#000" stroke-width="0.1">Glass Transition Temperature</text>
<defs><linearGradient id="cbD" x1="0" y1="1" x2="0" y2="0"><stop offset="0.0" stop-color="#1c1e1e"/><stop offset="0.1" stop-color="#2d3232"/><stop offset="0.2" stop-color="#3e4646"/><stop offset="0.3" stop-color="#4e5959"/><stop offset="0.4" stop-color="#5f6d6d"/><stop offset="0.5" stop-color="#708181"/><stop offset="0.6" stop-color="#819595"/><stop offset="0.7" stop-color="#92a9a9"/><stop offset="0.8" stop-color="#a2bcbc"/><stop offset="0.9" stop-color="#b3d0d0"/><stop offset="1.0" stop-color="#c4e4e4"/></linearGradient></defs>
<rect x="358.9" y="185.1" width="8.9" height="88.4" fill="url(#cbD)" stroke="#111" stroke-width="0.6"/>
<line x1="367.8" y1="185.1" x2="370" y2="185.1" stroke="#111" stroke-width="0.6"/>
<text x="370.5" y="187.8" font-size="8" font-family='"Liberation Serif", serif' stroke="#000" stroke-width="0.1">IV</text>
<line x1="358.9" y1="214.6" x2="370" y2="214.6" stroke="#111" stroke-width="0.6"/>
<text x="370.5" y="217.3" font-size="8" font-family='"Liberation Serif", serif' stroke="#000" stroke-width="0.1">III</text>
<line x1="358.9" y1="244.2" x2="370" y2="244.2" stroke="#111" stroke-width="0.6"/>
<text x="370.5" y="246.9" font-size="8" font-family='"Liberation Serif", serif' stroke="#000" stroke-width="0.1">II</text>
<line x1="367.8" y1="273.5" x2="370" y2="273.5" stroke="#111" stroke-width="0.6"/>
<text x="370.5" y="276.2" font-size="8" font-family='"Liberation Serif", serif' stroke="#000" stroke-width="0.1">I</text>
<text x="356.2" y="190.6" font-size="7.9" text-anchor="middle" transform="rotate(-90 356.2 190.6)" stroke="#000" stroke-width="0.1">VW</text>
<text x="356.2" y="268.7" font-size="7.9" text-anchor="middle" transform="rotate(-90 356.2 268.7)" stroke="#000" stroke-width="0.1">AB</text>
<text x="393.5" y="182.2" font-size="7.9" textLength="36.5" lengthAdjust="spacingAndGlyphs" stroke="#000" stroke-width="0.1">DMA Data</text>
<circle cx="472.3" cy="270.8" r="0.5" fill="#a9d3d3"/>
<circle cx="472.7" cy="269" r="0.5" fill="#a9d3d3"/>
<circle cx="472.5" cy="267.3" r="0.5" fill="#a9d3d3"/>
<circle cx="472.8" cy="265.5" r="0.5" fill="#a9d3d3"/>
<circle cx="472.8" cy="263.8" r="0.5" fill="#a9d3d3"/>
<circle cx="472.1" cy="262" r="0.5" fill="#a9d3d3"/>
<circle cx="472.1" cy="260.3" r="0.5" fill="#a9d3d3"/>
<circle cx="473" cy="258.6" r="0.5" fill="#a9d3d3"/>
<circle cx="479.3" cy="268.7" r="0.5" fill="#a9d3d3"/>
<circle cx="479.3" cy="266.9" r="0.5" fill="#a9d3d3"/>
<circle cx="480.2" cy="265.1" r="0.5" fill="#a9d3d3"/>
<circle cx="479.6" cy="263.3" r="0.5" fill="#a9d3d3"/>
<circle cx="480" cy="261.5" r="0.5" fill="#a9d3d3"/>
<circle cx="479.6" cy="259.7" r="0.5" fill="#a9d3d3"/>
<circle cx="479.8" cy="257.9" r="0.5" fill="#a9d3d3"/>
<circle cx="479.2" cy="256.1" r="0.5" fill="#a9d3d3"/>
<circle cx="479.8" cy="254.3" r="0.5" fill="#a9d3d3"/>
<circle cx="480.1" cy="252.5" r="0.5" fill="#a9d3d3"/>
<circle cx="484.6" cy="264.7" r="0.5" fill="#a9d3d3"/>
<circle cx="484.9" cy="262.9" r="0.5" fill="#a9d3d3"/>
<circle cx="484.8" cy="261.2" r="0.5" fill="#a9d3d3"/>
<circle cx="484.1" cy="259.4" r="0.5" fill="#a9d3d3"/>
<circle cx="484.9" cy="257.7" r="0.5" fill="#a9d3d3"/>
<circle cx="484.7" cy="255.9" r="0.5" fill="#a9d3d3"/>
<circle cx="484.4" cy="254.2" r="0.5" fill="#a9d3d3"/>
<circle cx="484.1" cy="252.5" r="0.5" fill="#a9d3d3"/>
<circle cx="485.1" cy="250.7" r="0.5" fill="#a9d3d3"/>
<circle cx="484.6" cy="249" r="0.5" fill="#a9d3d3"/>
<circle cx="484.9" cy="247.2" r="0.5" fill="#a9d3d3"/>
<circle cx="485.1" cy="245.5" r="0.5" fill="#a9d3d3"/>
<circle cx="484.9" cy="243.7" r="0.5" fill="#a9d3d3"/>
<circle cx="485.1" cy="242" r="0.5" fill="#a9d3d3"/>
<circle cx="484.5" cy="240.2" r="0.5" fill="#a9d3d3"/>
<circle cx="490" cy="260.6" r="0.5" fill="#a9d3d3"/>
<circle cx="489.5" cy="258.8" r="0.5" fill="#a9d3d3"/>
<circle cx="490.1" cy="256.9" r="0.5" fill="#a9d3d3"/>
<circle cx="490.1" cy="255.1" r="0.5" fill="#a9d3d3"/>
<circle cx="489.1" cy="253.3" r="0.5" fill="#a9d3d3"/>
<circle cx="489.2" cy="251.4" r="0.5" fill="#a9d3d3"/>
<circle cx="489.3" cy="249.6" r="0.5" fill="#a9d3d3"/>
<circle cx="490.2" cy="247.8" r="0.5" fill="#a9d3d3"/>
<circle cx="489.5" cy="245.9" r="0.5" fill="#a9d3d3"/>
<circle cx="489.8" cy="244.1" r="0.5" fill="#a9d3d3"/>
<circle cx="489.4" cy="242.3" r="0.5" fill="#a9d3d3"/>
<circle cx="494.6" cy="256.5" r="0.5" fill="#a9d3d3"/>
<circle cx="494.5" cy="254.8" r="0.5" fill="#a9d3d3"/>
<circle cx="494.4" cy="253.1" r="0.5" fill="#a9d3d3"/>
<circle cx="494.7" cy="251.4" r="0.5" fill="#a9d3d3"/>
<circle cx="494.7" cy="249.6" r="0.5" fill="#a9d3d3"/>
<circle cx="495.1" cy="247.9" r="0.5" fill="#a9d3d3"/>
<circle cx="494.8" cy="246.2" r="0.5" fill="#a9d3d3"/>
<circle cx="495.1" cy="244.5" r="0.5" fill="#a9d3d3"/>
<circle cx="495" cy="242.7" r="0.5" fill="#a9d3d3"/>
<circle cx="495.2" cy="241" r="0.5" fill="#a9d3d3"/>
<circle cx="494.8" cy="239.3" r="0.5" fill="#a9d3d3"/>
<circle cx="494.2" cy="237.6" r="0.5" fill="#a9d3d3"/>
<circle cx="495" cy="235.9" r="0.5" fill="#a9d3d3"/>
<circle cx="495.2" cy="234.1" r="0.5" fill="#a9d3d3"/>
<circle cx="501.1" cy="252.5" r="0.5" fill="#a9d3d3"/>
<circle cx="500.7" cy="250.6" r="0.5" fill="#a9d3d3"/>
<circle cx="500.8" cy="248.8" r="0.5" fill="#a9d3d3"/>
<circle cx="500.2" cy="247" r="0.5" fill="#a9d3d3"/>
<circle cx="501" cy="245.1" r="0.5" fill="#a9d3d3"/>
<circle cx="500.7" cy="243.3" r="0.5" fill="#a9d3d3"/>
<circle cx="500.3" cy="241.5" r="0.5" fill="#a9d3d3"/>
<circle cx="500.1" cy="239.6" r="0.5" fill="#a9d3d3"/>
<circle cx="501" cy="237.8" r="0.5" fill="#a9d3d3"/>
<circle cx="501.2" cy="236" r="0.5" fill="#a9d3d3"/>
<circle cx="500.1" cy="234.1" r="0.5" fill="#a9d3d3"/>
<circle cx="507.9" cy="258.6" r="0.5" fill="#a9d3d3"/>
<circle cx="507.5" cy="256.9" r="0.5" fill="#a9d3d3"/>
<circle cx="507.2" cy="255.2" r="0.5" fill="#a9d3d3"/>
<circle cx="507.3" cy="253.5" r="0.5" fill="#a9d3d3"/>
<circle cx="507.9" cy="251.8" r="0.5" fill="#a9d3d3"/>
<circle cx="508" cy="250.1" r="0.5" fill="#a9d3d3"/>
<circle cx="507" cy="248.4" r="0.5" fill="#a9d3d3"/>
<circle cx="507.7" cy="246.7" r="0.5" fill="#a9d3d3"/>
<circle cx="507" cy="245" r="0.5" fill="#a9d3d3"/>
<circle cx="507.8" cy="243.3" r="0.5" fill="#a9d3d3"/>
<circle cx="507.4" cy="241.6" r="0.5" fill="#a9d3d3"/>
<circle cx="508" cy="239.9" r="0.5" fill="#a9d3d3"/>
<circle cx="508.2" cy="238.2" r="0.5" fill="#a9d3d3"/>
<circle cx="512.6" cy="266.7" r="0.5" fill="#a9d3d3"/>
<circle cx="513.2" cy="264.9" r="0.5" fill="#a9d3d3"/>
<circle cx="512.3" cy="263.1" r="0.5" fill="#a9d3d3"/>
<circle cx="512.1" cy="261.3" r="0.5" fill="#a9d3d3"/>
<circle cx="512.7" cy="259.5" r="0.5" fill="#a9d3d3"/>
<circle cx="512" cy="257.7" r="0.5" fill="#a9d3d3"/>
<circle cx="512.2" cy="255.8" r="0.5" fill="#a9d3d3"/>
<circle cx="512.5" cy="254" r="0.5" fill="#a9d3d3"/>
<circle cx="512.7" cy="252.2" r="0.5" fill="#a9d3d3"/>
<circle cx="512.2" cy="250.4" r="0.5" fill="#a9d3d3"/>
<path d="M406.3 272.8 C411.5 272.6 430 272.1 437.4 271.7 C444.8 271.3 447 271.2 450.7 270.6 C454.4 270.1 456.6 269.5 459.5 268.4 C462.4 267.3 465.4 266 468.4 264 C471.4 262 474.3 258.6 477.3 256.2 C480.3 253.8 483.2 251.5 486.2 249.5 C489.1 247.5 492.4 245.3 495 244 C497.6 242.7 499.5 241.8 501.7 241.8 C503.9 241.8 506.2 242.3 508.4 244 C510.6 245.7 513.2 249 515 251.8 C516.8 254.6 518.2 257.8 519.4 260.6 C520.6 263.4 521.8 267.1 522.3 268.4" fill="none" stroke="#9fcfcf" stroke-width="0.9"/>
<circle cx="429.1" cy="214.2" r="0.7" fill="#111"/>
<circle cx="429.5" cy="211.9" r="0.7" fill="#111"/>
<circle cx="430.3" cy="208.9" r="0.7" fill="#111"/>
<circle cx="429.7" cy="206.7" r="0.7" fill="#111"/>
<circle cx="429.9" cy="204.4" r="0.7" fill="#111"/>
<circle cx="429.8" cy="202" r="0.7" fill="#111"/>
<circle cx="430.3" cy="199.5" r="0.7" fill="#111"/>
<circle cx="429.6" cy="197.4" r="0.7" fill="#111"/>
<circle cx="429.4" cy="194.6" r="0.7" fill="#111"/>
<circle cx="430.4" cy="192.4" r="0.7" fill="#111"/>
<circle cx="429.8" cy="189.6" r="0.7" fill="#111"/>
<circle cx="429.6" cy="187.7" r="0.7" fill="#111"/>
<circle cx="429.1" cy="185.4" r="0.7" fill="#111"/>
<circle cx="434.9" cy="221.5" r="0.7" fill="#111"/>
<circle cx="434.9" cy="219.4" r="0.7" fill="#111"/>
<circle cx="435" cy="216.9" r="0.7" fill="#111"/>
<circle cx="435" cy="214.8" r="0.7" fill="#111"/>
<circle cx="434.1" cy="211.7" r="0.7" fill="#111"/>
<circle cx="435" cy="210.2" r="0.7" fill="#111"/>
<circle cx="434.4" cy="207.2" r="0.7" fill="#111"/>
<circle cx="434.8" cy="204.7" r="0.7" fill="#111"/>
<circle cx="434.5" cy="202.2" r="0.7" fill="#111"/>
<circle cx="434.5" cy="200" r="0.7" fill="#111"/>
<circle cx="434.4" cy="197.4" r="0.7" fill="#111"/>
<circle cx="435.1" cy="194.6" r="0.7" fill="#111"/>
<circle cx="434.8" cy="192.9" r="0.7" fill="#111"/>
<circle cx="434.5" cy="189.9" r="0.7" fill="#111"/>
<circle cx="435.1" cy="187.5" r="0.7" fill="#111"/>
<circle cx="434.3" cy="185.2" r="0.7" fill="#111"/>
<circle cx="440" cy="233.7" r="0.7" fill="#111"/>
<circle cx="439.5" cy="231.6" r="0.7" fill="#111"/>
<circle cx="440.2" cy="229.3" r="0.7" fill="#111"/>
<circle cx="440.2" cy="226.7" r="0.7" fill="#111"/>
<circle cx="439.5" cy="224.8" r="0.7" fill="#111"/>
<circle cx="440.2" cy="222.2" r="0.7" fill="#111"/>
<circle cx="439.3" cy="219.5" r="0.7" fill="#111"/>
<circle cx="439.8" cy="217.2" r="0.7" fill="#111"/>
<circle cx="440.1" cy="215.5" r="0.7" fill="#111"/>
<circle cx="439.3" cy="212.5" r="0.7" fill="#111"/>
<circle cx="440.1" cy="210.5" r="0.7" fill="#111"/>
<circle cx="440.1" cy="207.9" r="0.7" fill="#111"/>
<circle cx="439.2" cy="205.4" r="0.7" fill="#111"/>
<circle cx="445.1" cy="262.4" r="0.7" fill="#111"/>
<circle cx="444.5" cy="260" r="0.7" fill="#111"/>
<circle cx="444.6" cy="257.5" r="0.7" fill="#111"/>
<circle cx="445.3" cy="254.7" r="0.7" fill="#111"/>
<circle cx="444" cy="253" r="0.7" fill="#111"/>
<circle cx="445.2" cy="250.5" r="0.7" fill="#111"/>
<circle cx="444.6" cy="248" r="0.7" fill="#111"/>
<circle cx="445.3" cy="244.8" r="0.7" fill="#111"/>
<circle cx="445" cy="242.9" r="0.7" fill="#111"/>
<circle cx="444.9" cy="240" r="0.7" fill="#111"/>
<circle cx="444.4" cy="237.3" r="0.7" fill="#111"/>
<circle cx="444.3" cy="234.5" r="0.7" fill="#111"/>
<circle cx="444.8" cy="232.2" r="0.7" fill="#111"/>
<circle cx="445.1" cy="229.5" r="0.7" fill="#111"/>
<circle cx="445.3" cy="227.6" r="0.7" fill="#111"/>
<circle cx="445.3" cy="225.3" r="0.7" fill="#111"/>
<circle cx="445.3" cy="222.5" r="0.7" fill="#111"/>
<circle cx="444" cy="220.1" r="0.7" fill="#111"/>
<circle cx="424.3" cy="250.2" r="0.7" fill="#111"/>
<circle cx="425" cy="248.2" r="0.7" fill="#111"/>
<circle cx="424.6" cy="246.3" r="0.7" fill="#111"/>
<circle cx="424.9" cy="243.4" r="0.7" fill="#111"/>
<circle cx="424.4" cy="241.6" r="0.7" fill="#111"/>
<circle cx="424.7" cy="239.3" r="0.7" fill="#111"/>
<circle cx="424.5" cy="236.4" r="0.7" fill="#111"/>
<circle cx="424.8" cy="234.7" r="0.7" fill="#111"/>
<circle cx="424.3" cy="232.4" r="0.7" fill="#111"/>
<circle cx="420.3" cy="264.2" r="0.7" fill="#111"/>
<circle cx="420.2" cy="261.1" r="0.7" fill="#111"/>
<circle cx="419.9" cy="259.7" r="0.7" fill="#111"/>
<circle cx="419.1" cy="256.8" r="0.7" fill="#111"/>
<circle cx="419.4" cy="254.8" r="0.7" fill="#111"/>
<circle cx="419.6" cy="252.4" r="0.7" fill="#111"/>
<circle cx="415.1" cy="268.2" r="0.7" fill="#111"/>
<circle cx="414.1" cy="266.3" r="0.7" fill="#111"/>
<circle cx="414.2" cy="264.2" r="0.7" fill="#111"/>
<circle cx="415.4" cy="263" r="0.7" fill="#111"/>
<circle cx="414.2" cy="260.6" r="0.7" fill="#111"/>
<circle cx="409.5" cy="270.6" r="0.7" fill="#111"/>
<circle cx="409.6" cy="268.9" r="0.7" fill="#111"/>
<circle cx="409.9" cy="266.6" r="0.7" fill="#111"/>
<circle cx="409.3" cy="264.5" r="0.7" fill="#111"/>
<circle cx="404.3" cy="270.8" r="0.7" fill="#111"/>
<circle cx="405.1" cy="268.9" r="0.7" fill="#111"/>
<circle cx="404.2" cy="266.9" r="0.7" fill="#111"/>
<circle cx="404.6" cy="265.6" r="0.7" fill="#111"/>
<path d="M401.9 272.8 C404.8 272.7 414.4 272.6 419.6 272.2 C424.8 271.8 429.2 271.2 432.9 270.6 C436.6 270 438.8 269.3 441.8 268.4 C444.8 267.5 447.8 266.2 450.7 265.1 C453.6 264 456.6 262.9 459.5 261.8 C462.4 260.7 465.4 259.5 468.4 258.4 C471.4 257.3 474.3 256.2 477.3 255.1 C480.3 254 483.2 252.7 486.2 251.8 C489.1 250.9 493.5 249.9 495 249.5" fill="none" stroke="#6f8080" stroke-width="0.9"/>
<path d="M399.7 271.7 C401.5 271.1 407.4 269.7 410.7 268.4 C414 267.1 416.6 265.5 419.6 264 C422.6 262.5 425.5 260.8 428.5 259.5 C431.5 258.2 434.4 257.1 437.4 256.2 C440.3 255.3 443.2 255 446.2 254.4 C449.1 253.8 452.1 252.7 455.1 252.4 C458.1 252.1 461 252.2 464 252.4 C467 252.6 469.9 252.9 472.9 253.5 C475.8 254.1 478.8 255.2 481.7 256.2 C484.6 257.2 489.1 258.9 490.6 259.5" fill="none" stroke="#4a5252" stroke-width="0.9"/>
<line x1="399.7" y1="269.5" x2="399.7" y2="273.9" stroke="#3e4646" stroke-width="0.6"/>
<circle cx="399.7" cy="271.7" r="0.8" fill="#3e4646"/>
<line x1="410.7" y1="266.2" x2="410.7" y2="270.6" stroke="#3e4646" stroke-width="0.6"/>
<circle cx="410.7" cy="268.4" r="0.8" fill="#3e4646"/>
<line x1="419.6" y1="261.8" x2="419.6" y2="266.2" stroke="#3e4646" stroke-width="0.6"/>
<circle cx="419.6" cy="264" r="0.8" fill="#3e4646"/>
<line x1="428.5" y1="257.3" x2="428.5" y2="261.7" stroke="#3e4646" stroke-width="0.6"/>
<circle cx="428.5" cy="259.5" r="0.8" fill="#3e4646"/>
<line x1="437.4" y1="254" x2="437.4" y2="258.4" stroke="#3e4646" stroke-width="0.6"/>
<circle cx="437.4" cy="256.2" r="0.8" fill="#3e4646"/>
<line x1="446.2" y1="252.2" x2="446.2" y2="256.6" stroke="#3e4646" stroke-width="0.6"/>
<circle cx="446.2" cy="254.4" r="0.8" fill="#3e4646"/>
<line x1="455.1" y1="250.2" x2="455.1" y2="254.6" stroke="#3e4646" stroke-width="0.6"/>
<circle cx="455.1" cy="252.4" r="0.8" fill="#3e4646"/>
<line x1="464" y1="250.2" x2="464" y2="254.6" stroke="#3e4646" stroke-width="0.6"/>
<circle cx="464" cy="252.4" r="0.8" fill="#3e4646"/>
<line x1="472.9" y1="251.3" x2="472.9" y2="255.7" stroke="#3e4646" stroke-width="0.6"/>
<circle cx="472.9" cy="253.5" r="0.8" fill="#3e4646"/>
<line x1="481.7" y1="254" x2="481.7" y2="258.4" stroke="#3e4646" stroke-width="0.6"/>
<circle cx="481.7" cy="256.2" r="0.8" fill="#3e4646"/>
<line x1="490.6" y1="257.3" x2="490.6" y2="261.7" stroke="#3e4646" stroke-width="0.6"/>
<circle cx="490.6" cy="259.5" r="0.8" fill="#3e4646"/>
<line x1="401.9" y1="270.6" x2="401.9" y2="275" stroke="#62706f" stroke-width="0.6"/>
<circle cx="401.9" cy="272.8" r="0.8" fill="#62706f"/>
<line x1="419.6" y1="270" x2="419.6" y2="274.4" stroke="#62706f" stroke-width="0.6"/>
<circle cx="419.6" cy="272.2" r="0.8" fill="#62706f"/>
<line x1="432.9" y1="268.4" x2="432.9" y2="272.8" stroke="#62706f" stroke-width="0.6"/>
<circle cx="432.9" cy="270.6" r="0.8" fill="#62706f"/>
<line x1="441.8" y1="266.2" x2="441.8" y2="270.6" stroke="#62706f" stroke-width="0.6"/>
<circle cx="441.8" cy="268.4" r="0.8" fill="#62706f"/>
<line x1="450.7" y1="262.9" x2="450.7" y2="267.3" stroke="#62706f" stroke-width="0.6"/>
<circle cx="450.7" cy="265.1" r="0.8" fill="#62706f"/>
<line x1="459.5" y1="259.6" x2="459.5" y2="264" stroke="#62706f" stroke-width="0.6"/>
<circle cx="459.5" cy="261.8" r="0.8" fill="#62706f"/>
<line x1="468.4" y1="256.2" x2="468.4" y2="260.6" stroke="#62706f" stroke-width="0.6"/>
<circle cx="468.4" cy="258.4" r="0.8" fill="#62706f"/>
<line x1="477.3" y1="252.9" x2="477.3" y2="257.3" stroke="#62706f" stroke-width="0.6"/>
<circle cx="477.3" cy="255.1" r="0.8" fill="#62706f"/>
<line x1="486.2" y1="249.6" x2="486.2" y2="254" stroke="#62706f" stroke-width="0.6"/>
<circle cx="486.2" cy="251.8" r="0.8" fill="#62706f"/>
<line x1="495" y1="247.3" x2="495" y2="251.7" stroke="#62706f" stroke-width="0.6"/>
<circle cx="495" cy="249.5" r="0.8" fill="#62706f"/>
<line x1="406.3" y1="270.6" x2="406.3" y2="275" stroke="#8cc0c0" stroke-width="0.6"/>
<circle cx="406.3" cy="272.8" r="0.8" fill="#8cc0c0"/>
<line x1="437.4" y1="269.5" x2="437.4" y2="273.9" stroke="#8cc0c0" stroke-width="0.6"/>
<circle cx="437.4" cy="271.7" r="0.8" fill="#8cc0c0"/>
<line x1="450.7" y1="268.4" x2="450.7" y2="272.8" stroke="#8cc0c0" stroke-width="0.6"/>
<circle cx="450.7" cy="270.6" r="0.8" fill="#8cc0c0"/>
<line x1="459.5" y1="266.2" x2="459.5" y2="270.6" stroke="#8cc0c0" stroke-width="0.6"/>
<circle cx="459.5" cy="268.4" r="0.8" fill="#8cc0c0"/>
<line x1="468.4" y1="261.8" x2="468.4" y2="266.2" stroke="#8cc0c0" stroke-width="0.6"/>
<circle cx="468.4" cy="264" r="0.8" fill="#8cc0c0"/>
<line x1="477.3" y1="254" x2="477.3" y2="258.4" stroke="#8cc0c0" stroke-width="0.6"/>
<circle cx="477.3" cy="256.2" r="0.8" fill="#8cc0c0"/>
<line x1="486.2" y1="247.3" x2="486.2" y2="251.7" stroke="#8cc0c0" stroke-width="0.6"/>
<circle cx="486.2" cy="249.5" r="0.8" fill="#8cc0c0"/>
<line x1="495" y1="241.8" x2="495" y2="246.2" stroke="#8cc0c0" stroke-width="0.6"/>
<circle cx="495" cy="244" r="0.8" fill="#8cc0c0"/>
<line x1="501.7" y1="239.6" x2="501.7" y2="244" stroke="#8cc0c0" stroke-width="0.6"/>
<circle cx="501.7" cy="241.8" r="0.8" fill="#8cc0c0"/>
<line x1="508.4" y1="241.8" x2="508.4" y2="246.2" stroke="#8cc0c0" stroke-width="0.6"/>
<circle cx="508.4" cy="244" r="0.8" fill="#8cc0c0"/>
<line x1="515" y1="249.6" x2="515" y2="254" stroke="#8cc0c0" stroke-width="0.6"/>
<circle cx="515" cy="251.8" r="0.8" fill="#8cc0c0"/>
<line x1="519.4" y1="258.4" x2="519.4" y2="262.8" stroke="#8cc0c0" stroke-width="0.6"/>
<circle cx="519.4" cy="260.6" r="0.8" fill="#8cc0c0"/>
<line x1="522.3" y1="266.2" x2="522.3" y2="270.6" stroke="#8cc0c0" stroke-width="0.6"/>
<circle cx="522.3" cy="268.4" r="0.8" fill="#8cc0c0"/>
<path d="M401.9 268.4 C402.6 268 404.8 266.7 406.3 266.2 C407.8 265.7 409.2 266.4 410.7 265.5 C412.2 264.6 413.7 262.9 415.2 260.6 C416.7 258.3 418.1 255.9 419.6 251.8 C421.1 247.7 422.6 242.1 424.1 236.2 C425.6 230.3 427 221.7 428.5 216.3 C430 211 431.8 206.8 432.9 204.1 C434 201.4 434.4 201.1 435.1 200.3 C435.9 199.6 436.6 199.2 437.4 199.6 C438.1 200 438.7 201 439.6 203 C440.5 205 442 208.1 442.9 211.8 C443.8 215.5 444.7 222.9 445.1 225.1" fill="none" stroke="#111" stroke-width="1.1"/>
<rect x="394.8" y="185.6" width="127.5" height="87.2" fill="none" stroke="#111" stroke-width="0.8"/>
<text x="393.3" y="194.1" font-size="7.9" text-anchor="end" stroke="#000" stroke-width="0.1">2</text>
<text x="393.3" y="234.8" font-size="7.9" text-anchor="end" stroke="#000" stroke-width="0.1">1</text>
<line x1="394.8" y1="252.5" x2="396.3" y2="252.5" stroke="#000" stroke-width="0.5"/>
<line x1="394.8" y1="232.1" x2="396.3" y2="232.1" stroke="#000" stroke-width="0.5"/>
<line x1="394.8" y1="211.8" x2="396.3" y2="211.8" stroke="#000" stroke-width="0.5"/>
<line x1="394.8" y1="191.4" x2="396.3" y2="191.4" stroke="#000" stroke-width="0.5"/>
<text x="394.8" y="280.3" font-size="7.9" text-anchor="middle" stroke="#000" stroke-width="0.1">-20</text>
<line x1="394.8" y1="272.8" x2="394.8" y2="271.3" stroke="#000" stroke-width="0.5"/>
<text x="434.7" y="280.3" font-size="7.9" text-anchor="middle" stroke="#000" stroke-width="0.1">20</text>
<line x1="434.7" y1="272.8" x2="434.7" y2="271.3" stroke="#000" stroke-width="0.5"/>
<text x="474.6" y="280.3" font-size="7.9" text-anchor="middle" stroke="#000" stroke-width="0.1">60</text>
<line x1="474.6" y1="272.8" x2="474.6" y2="271.3" stroke="#000" stroke-width="0.5"/>
<text x="514.6" y="280.3" font-size="7.9" text-anchor="middle" stroke="#000" stroke-width="0.1">100</text>
<line x1="514.6" y1="272.8" x2="514.6" y2="271.3" stroke="#000" stroke-width="0.5"/>
<text x="448.3" y="287.8" font-size="7.9" text-anchor="middle" stroke="#000" stroke-width="0.1"><tspan font-style="italic">T</tspan> [°C]</text>
<text x="387.6" y="231.6" font-size="7.9" text-anchor="middle" transform="rotate(-90 387.6 231.6)" stroke="#000" stroke-width="0.1">tan(<tspan font-style="italic">δ</tspan>)</text>
<line x1="435.5" y1="201" x2="443" y2="195.5" stroke="#000" stroke-width="0.6"/>
<circle cx="435.5" cy="201" r="0.9" fill="#111"/>
<text x="443.3" y="197" font-size="8" font-family='"Liberation Serif", serif' stroke="#000" stroke-width="0.1">I</text>
<line x1="452" y1="253" x2="458" y2="248" stroke="#000" stroke-width="0.6"/>
<circle cx="452" cy="253" r="0.9" fill="#111"/>
<text x="458.3" y="249" font-size="8" font-family='"Liberation Serif", serif' stroke="#000" stroke-width="0.1">II</text>
<line x1="437" y1="270" x2="444" y2="265" stroke="#000" stroke-width="0.6"/>
<circle cx="437" cy="270" r="0.9" fill="#111"/>
<text x="443.5" y="265.8" font-size="8" font-family='"Liberation Serif", serif' stroke="#000" stroke-width="0.1">III</text>
<line x1="501.7" y1="241.8" x2="508" y2="236" stroke="#000" stroke-width="0.6"/>
<circle cx="501.7" cy="241.8" r="0.9" fill="#111"/>
<text x="508.3" y="237.5" font-size="8" font-family='"Liberation Serif", serif' stroke="#000" stroke-width="0.1">IV</text>
<circle cx="481.3" cy="191.4" r="1.3" fill="#111"/>
<text x="484.6" y="193.8" font-size="7.9" stroke="#000" stroke-width="0.1">Measured</text>
<line x1="478.4" y1="199" x2="482.8" y2="199" stroke="#333" stroke-width="1.3"/>
<text x="484.6" y="202" font-size="7.9" stroke="#000" stroke-width="0.1">Fitted</text>
<text x="542.4" y="181.7" font-size="7.9" textLength="91" lengthAdjust="spacingAndGlyphs" stroke="#000" stroke-width="0.1">Temperature Interpolation</text>
<rect x="544.3" y="185.2" width="126.5" height="87.5" fill="none" stroke="#111" stroke-width="0.8"/>
<path d="M545.9 271.9 L562.5 271.9 L562.4 270.5 L562.7 268.7 L563.1 267 L563.6 265.4 L564.2 263.8 L564.9 262.3 L565.7 260.8 L566.5 259.3 L567.4 257.8 L568.3 256.4 L569.3 254.9 L570.4 253.5 L571.5 252.1 L572.7 250.7 L573.9 249.4 L575.1 248 L576.5 246.7 L577.8 245.3 L579.2 244 L580.7 242.7 L582.2 241.3 L583.8 240 L585.3 238.7 L587 237.4 L588.6 236.1 L590.4 234.9 L592.1 233.6 L593.9 232.3 L595.7 231 L597.6 229.8 L599.5 228.5 L601.4 227.3 L603.4 226 L605.4 224.8 L607.5 223.5 L609.6 222.3 L611.7 221.1 L613.9 219.8 L616.1 218.6 L618.3 217.4 L620.5 216.2 L622.8 215 L625.2 213.8 L627.5 212.6 L629.9 211.4 L632.3 210.2 L634.8 209 L637.3 207.8 L639.8 206.6 L642.4 205.4 L644.9 204.2 L647.5 203 L650.2 201.9 L652.9 200.7 L655.6 199.5 L658.3 198.4 L661 197.2 L663.8 196 L666.7 194.9 L669.5 193.7" fill="none" stroke="#111" stroke-width="1.3" stroke-dasharray="3 2.2"/>
<line x1="626.7" y1="211.9" x2="626.7" y2="272.7" stroke="#8a2596" stroke-width="0.9"/>
<circle cx="545.9" cy="271.9" r="2" fill="#111"/>
<circle cx="586" cy="239.2" r="2" fill="#4e5a5a"/>
<circle cx="626.7" cy="206.6" r="2" fill="#7c9999"/>
<circle cx="626.7" cy="211.9" r="2" fill="#8a2596"/>
<circle cx="669.5" cy="193.2" r="2" fill="#c4e6e6"/>
<text x="629.3" y="221" font-size="9.5" fill="#8a2596" stroke="#8a2596" stroke-width="0.1"><tspan font-style="italic">ρ</tspan><tspan font-size="5.5" dy="1.8">mix</tspan></text>
<text x="542.8" y="196.4" font-size="7.9" text-anchor="end" stroke="#000" stroke-width="0.1">80</text>
<text x="542.8" y="275.4" font-size="7.9" text-anchor="end" stroke="#000" stroke-width="0.1">20</text>
<line x1="544.3" y1="193.7" x2="545.8" y2="193.7" stroke="#000" stroke-width="0.5"/>
<line x1="544.3" y1="233.3" x2="545.8" y2="233.3" stroke="#000" stroke-width="0.5"/>
<text x="545.9" y="279.9" font-size="7.9" text-anchor="middle" stroke="#000" stroke-width="0.1">0</text>
<line x1="545.9" y1="272.7" x2="545.9" y2="271.2" stroke="#000" stroke-width="0.5"/>
<text x="586" y="279.9" font-size="7.9" text-anchor="middle" stroke="#000" stroke-width="0.1">1/3</text>
<line x1="586" y1="272.7" x2="586" y2="271.2" stroke="#000" stroke-width="0.5"/>
<text x="626.7" y="279.9" font-size="7.9" text-anchor="middle" stroke="#000" stroke-width="0.1">2/3</text>
<line x1="626.7" y1="272.7" x2="626.7" y2="271.2" stroke="#000" stroke-width="0.5"/>
<text x="669.5" y="279.9" font-size="7.9" text-anchor="middle" stroke="#000" stroke-width="0.1">1</text>
<line x1="669.5" y1="272.7" x2="669.5" y2="271.2" stroke="#000" stroke-width="0.5"/>
<text x="537.6" y="233.2" font-size="7.9" text-anchor="middle" transform="rotate(-90 537.6 233.2)" stroke="#000" stroke-width="0.1"><tspan font-style="italic">T</tspan><tspan font-size="4.8" dy="1.5">g</tspan><tspan dy="-1.5"> [°C]</tspan></text>
<text x="605.3" y="287.4" font-size="7.9" text-anchor="middle" stroke="#000" stroke-width="0.1"><tspan font-style="italic">ρ</tspan><tspan font-size="4.8" dy="1.5" font-style="italic">est</tspan><tspan dy="-1.5"> [%VW]</tspan></text>
<text x="3.9" y="308.2" font-size="13.2" font-weight="bold" stroke="#000" stroke-width="0.1">e</text>
<text x="18.5" y="307.5" font-size="9.35" stroke="#000" stroke-width="0.1">Prony Series Fitting</text>
<text x="3.7" y="321.5" font-size="7.9" textLength="55.7" lengthAdjust="spacingAndGlyphs" stroke="#000" stroke-width="0.1">Curve Template</text>
<path d="M4 327.5 L70.4 354.4 L4 382.4 Z" fill="#dedede"/>
<line x1="24.7" y1="342.2" x2="37.9" y2="330.3" stroke="#333" stroke-width="0.3"/>
<line x1="24.7" y1="342.2" x2="37.9" y2="342.2" stroke="#333" stroke-width="0.3"/>
<line x1="24.7" y1="342.2" x2="37.9" y2="354.4" stroke="#333" stroke-width="0.3"/>
<line x1="24.7" y1="342.2" x2="37.9" y2="366.9" stroke="#333" stroke-width="0.3"/>
<line x1="24.7" y1="342.2" x2="37.9" y2="379.3" stroke="#333" stroke-width="0.3"/>
<line x1="24.7" y1="354.4" x2="37.9" y2="330.3" stroke="#333" stroke-width="0.3"/>
<line x1="24.7" y1="354.4" x2="37.9" y2="342.2" stroke="#333" stroke-width="0.3"/>
<line x1="24.7" y1="354.4" x2="37.9" y2="354.4" stroke="#333" stroke-width="0.3"/>
<line x1="24.7" y1="354.4" x2="37.9" y2="366.9" stroke="#333" stroke-width="0.3"/>
<line x1="24.7" y1="354.4" x2="37.9" y2="379.3" stroke="#333" stroke-width="0.3"/>
<line x1="24.7" y1="366.9" x2="37.9" y2="330.3" stroke="#333" stroke-width="0.3"/>
<line x1="24.7" y1="366.9" x2="37.9" y2="342.2" stroke="#333" stroke-width="0.3"/>
<line x1="24.7" y1="366.9" x2="37.9" y2="354.4" stroke="#333" stroke-width="0.3"/>
<line x1="24.7" y1="366.9" x2="37.9" y2="366.9" stroke="#333" stroke-width="0.3"/>
<line x1="24.7" y1="366.9" x2="37.9" y2="379.3" stroke="#333" stroke-width="0.3"/>
<line x1="37.9" y1="330.3" x2="51.2" y2="354.4" stroke="#333" stroke-width="0.3"/>
<line x1="37.9" y1="342.2" x2="51.2" y2="354.4" stroke="#333" stroke-width="0.3"/>
<line x1="37.9" y1="354.4" x2="51.2" y2="354.4" stroke="#333" stroke-width="0.3"/>
<line x1="37.9" y1="366.9" x2="51.2" y2="354.4" stroke="#333" stroke-width="0.3"/>
<line x1="37.9" y1="379.3" x2="51.2" y2="354.4" stroke="#333" stroke-width="0.3"/>
<circle cx="24.7" cy="342.2" r="3.1" fill="#7d1f86" stroke="#3a0a40" stroke-width="0.4"/>
<circle cx="24.7" cy="354.4" r="3.1" fill="#7d1f86" stroke="#3a0a40" stroke-width="0.4"/>
<circle cx="24.7" cy="366.9" r="3.1" fill="#7d1f86" stroke="#3a0a40" stroke-width="0.4"/>
<circle cx="37.9" cy="330.3" r="3.1" fill="#eeeeee" stroke="#555" stroke-width="0.5"/>
<circle cx="37.9" cy="342.2" r="3.1" fill="#eeeeee" stroke="#555" stroke-width="0.5"/>
<circle cx="37.9" cy="354.4" r="3.1" fill="#eeeeee" stroke="#555" stroke-width="0.5"/>
<circle cx="37.9" cy="366.9" r="3.1" fill="#eeeeee" stroke="#555" stroke-width="0.5"/>
<circle cx="37.9" cy="379.3" r="3.1" fill="#eeeeee" stroke="#555" stroke-width="0.5"/>
<circle cx="51.2" cy="354.4" r="3.1" fill="#f4a6c6" stroke="#555" stroke-width="0.5"/>
<text x="0" y="345" font-size="8" text-anchor="middle" font-style="italic" stroke="#000" stroke-width="0.1"></text>
<text x="0" y="357.2" font-size="8" text-anchor="middle" font-style="italic" stroke="#000" stroke-width="0.1"></text>
<text x="0" y="369.7" font-size="8" text-anchor="middle" font-style="italic" stroke="#000" stroke-width="0.1"></text>
<text x="60.4" y="357" font-size="8" text-anchor="middle" font-style="italic" stroke="#000" stroke-width="0.1">E</text>
<text x="5" y="344.9" font-size="8" stroke="#000" stroke-width="0.1"><tspan font-style="italic">ρ</tspan><tspan font-size="4.8" dy="1.8">mix</tspan></text>
<text x="5" y="357.1" font-size="8" stroke="#000" stroke-width="0.1"><tspan font-style="italic">T</tspan><tspan font-size="4.8" dy="1.8">22°</tspan></text>
<text x="7.5" y="369.6" font-size="8" font-style="italic" stroke="#000" stroke-width="0.1">t</text>
<path d="M134.2 408.1 C142 392 152 376 159.3 369.2 C164 365 169 362.5 173.5 361.2 L173.5 378.3 C168 380 163 383 159.3 386.3 C150 393 140 401 134.2 408.1 Z" fill="#f7a740" fill-opacity="0.35"/>
<line x1="96.3" y1="324.9" x2="96.3" y2="418.3" stroke="#e2e2e2" stroke-width="0.5"/>
<line x1="108.9" y1="324.9" x2="108.9" y2="418.3" stroke="#e2e2e2" stroke-width="0.5"/>
<line x1="121.6" y1="324.9" x2="121.6" y2="418.3" stroke="#e2e2e2" stroke-width="0.5"/>
<line x1="134.2" y1="324.9" x2="134.2" y2="418.3" stroke="#e2e2e2" stroke-width="0.5"/>
<line x1="146.8" y1="324.9" x2="146.8" y2="418.3" stroke="#e2e2e2" stroke-width="0.5"/>
<line x1="83.7" y1="340.5" x2="159.4" y2="340.5" stroke="#e2e2e2" stroke-width="0.5"/>
<line x1="83.7" y1="356" x2="159.4" y2="356" stroke="#e2e2e2" stroke-width="0.5"/>
<line x1="83.7" y1="371.6" x2="159.4" y2="371.6" stroke="#e2e2e2" stroke-width="0.5"/>
<line x1="83.7" y1="387.2" x2="159.4" y2="387.2" stroke="#e2e2e2" stroke-width="0.5"/>
<line x1="83.7" y1="402.7" x2="159.4" y2="402.7" stroke="#e2e2e2" stroke-width="0.5"/>
<path d="M83.7 332.9 C85.5 332.9 91.3 331.9 94.3 332.9 C97.2 333.9 98.3 335 101.4 339.1 C104.5 343.2 109.6 352.2 112.9 357.7 C116.2 363.2 118.8 366.8 121.4 372 C124 377.2 126.4 383.4 128.6 389.1 C130.8 394.8 132.4 401.9 134.3 406.3 C136.2 410.7 137.9 413.5 140 415.4 C142.1 417.3 143.9 417.3 147.1 417.7 C150.3 418.1 157.3 417.9 159.4 417.9" fill="none" stroke="#8a2596" stroke-width="1.2"/>
<path d="M83.7 332.9 C85.5 332.9 91.3 331.9 94.3 332.9 C97.2 333.9 98.3 335 101.4 339.1 C104.5 343.2 109.6 352.2 112.9 357.7 C116.2 363.2 118.8 366.8 121.4 372 C124 377.2 126.4 383.4 128.6 389.1 C130.8 394.8 132.4 401.9 134.3 406.3 C136.2 410.7 137.9 413.5 140 415.4 C142.1 417.3 143.9 417.3 147.1 417.7 C150.3 418.1 157.3 417.9 159.4 417.9" fill="none" stroke="#f7a740" stroke-width="1.2" stroke-dasharray="1.6 1.6"/>
<rect x="83.7" y="324.9" width="75.7" height="93.4" fill="none" stroke="#111" stroke-width="0.8"/>
<line x1="83.7" y1="340.5" x2="85.2" y2="340.5" stroke="#000" stroke-width="0.5"/>
<line x1="83.7" y1="356" x2="85.2" y2="356" stroke="#000" stroke-width="0.5"/>
<line x1="83.7" y1="371.6" x2="85.2" y2="371.6" stroke="#000" stroke-width="0.5"/>
<line x1="83.7" y1="387.2" x2="85.2" y2="387.2" stroke="#000" stroke-width="0.5"/>
<line x1="83.7" y1="402.7" x2="85.2" y2="402.7" stroke="#000" stroke-width="0.5"/>
<line x1="96.3" y1="418.3" x2="96.3" y2="416.8" stroke="#000" stroke-width="0.5"/>
<line x1="108.9" y1="418.3" x2="108.9" y2="416.8" stroke="#000" stroke-width="0.5"/>
<line x1="121.6" y1="418.3" x2="121.6" y2="416.8" stroke="#000" stroke-width="0.5"/>
<line x1="134.2" y1="418.3" x2="134.2" y2="416.8" stroke="#000" stroke-width="0.5"/>
<line x1="146.8" y1="418.3" x2="146.8" y2="416.8" stroke="#000" stroke-width="0.5"/>
<rect x="108" y="327.7" width="49.1" height="18" fill="#fff" stroke="#222" stroke-width="0.7"/>
<line x1="110.5" y1="332.4" x2="115" y2="332.4" stroke="#8a2596" stroke-width="1.8"/>
<text x="117.1" y="334.9" font-size="7.9" textLength="37.5" lengthAdjust="spacingAndGlyphs" stroke="#000" stroke-width="0.1">Neural Net</text>
<line x1="110.5" y1="340.9" x2="115" y2="340.9" stroke="#f7a740" stroke-width="1.8"/>
<text x="117.1" y="343.4" font-size="7.9" textLength="33.5" lengthAdjust="spacingAndGlyphs" stroke="#000" stroke-width="0.1">Model Fit</text>
<text x="85.7" y="321.1" font-size="7.9" textLength="32.5" lengthAdjust="spacingAndGlyphs" stroke="#000" stroke-width="0.1">Curve Fit</text>
<text x="83" y="327.6" font-size="7.9" text-anchor="end" stroke="#000" stroke-width="0.1">2e3</text>
<text x="82.2" y="419.6" font-size="7.9" text-anchor="end" stroke="#000" stroke-width="0.1">0</text>
<text x="78.8" y="378.5" font-size="7.9" text-anchor="middle" transform="rotate(-90 78.8 378.5)" stroke="#000" stroke-width="0.1"><tspan font-style="italic">E</tspan> [MPa]</text>
<text x="80" y="426" font-size="7.9" stroke="#000" stroke-width="0.1">10<tspan font-size="5" dy="-3">-15</tspan></text>
<text x="115.2" y="426" font-size="7.9" stroke="#000" stroke-width="0.1">10<tspan font-size="5" dy="-3">0</tspan></text>
<text x="155.1" y="426" font-size="7.9" stroke="#000" stroke-width="0.1">10<tspan font-size="5" dy="-3">15</tspan></text>
<text x="120" y="433.6" font-size="7.9" text-anchor="middle" stroke="#000" stroke-width="0.1"><tspan font-style="italic">t</tspan> [s]</text>
<text x="172.9" y="322" font-size="7.9" textLength="46.5" lengthAdjust="spacingAndGlyphs" stroke="#000" stroke-width="0.1">Prony Series</text>
<line x1="173.2" y1="333.2" x2="221" y2="333.2" stroke="#555" stroke-width="0.7"/>
<line x1="223.6" y1="333.2" x2="238.6" y2="333.2" stroke="#555" stroke-width="0.7"/>
<line x1="173.2" y1="378" x2="221" y2="378" stroke="#555" stroke-width="0.7"/>
<line x1="223.6" y1="378" x2="238.6" y2="378" stroke="#555" stroke-width="0.7"/>
<path d="M221.4 330.9 Q220.2 333.2 221.4 335.5 M223.2 330.9 Q224.4 333.2 223.2 335.5" fill="none" stroke="#555" stroke-width="0.6"/>
<path d="M221.4 375.7 Q220.2 378 221.4 380.3 M223.2 375.7 Q224.4 378 223.2 380.3" fill="none" stroke="#555" stroke-width="0.6"/>
<line x1="173.2" y1="333.2" x2="173.2" y2="354.3" stroke="#555" stroke-width="0.7"/>
<line x1="173.2" y1="362" x2="173.2" y2="378" stroke="#555" stroke-width="0.7"/>
<line x1="168.6" y1="356.8" x2="177.8" y2="354.4" stroke="#333" stroke-width="0.7"/>
<line x1="168.6" y1="358.5" x2="177.8" y2="356.1" stroke="#333" stroke-width="0.7"/>
<line x1="168.6" y1="360.3" x2="177.8" y2="357.9" stroke="#333" stroke-width="0.7"/>
<line x1="168.6" y1="362" x2="177.8" y2="359.6" stroke="#333" stroke-width="0.7"/>
<line x1="191.6" y1="333.2" x2="191.6" y2="344.3" stroke="#555" stroke-width="0.7"/>
<line x1="187" y1="346.5" x2="196.2" y2="344.5" stroke="#333" stroke-width="0.7"/>
<line x1="187" y1="348.2" x2="196.2" y2="346.2" stroke="#333" stroke-width="0.7"/>
<line x1="187" y1="350" x2="196.2" y2="348" stroke="#333" stroke-width="0.7"/>
<line x1="187" y1="351.7" x2="196.2" y2="349.7" stroke="#333" stroke-width="0.7"/>
<line x1="191.6" y1="351.9" x2="191.6" y2="365.5" stroke="#555" stroke-width="0.7"/>
<path d="M186.6 364 L186.6 368.4 L196.6 368.4 L196.6 364" fill="none" stroke="#555" stroke-width="0.7"/>
<line x1="187.9" y1="365.5" x2="195.3" y2="365.5" stroke="#555" stroke-width="0.9"/>
<line x1="191.6" y1="368.4" x2="191.6" y2="378" stroke="#555" stroke-width="0.7"/>
<line x1="210.3" y1="333.2" x2="210.3" y2="344.3" stroke="#555" stroke-width="0.7"/>
<line x1="205.7" y1="346.5" x2="214.9" y2="344.5" stroke="#333" stroke-width="0.7"/>
<line x1="205.7" y1="348.2" x2="214.9" y2="346.2" stroke="#333" stroke-width="0.7"/>
<line x1="205.7" y1="350" x2="214.9" y2="348" stroke="#333" stroke-width="0.7"/>
<line x1="205.7" y1="351.7" x2="214.9" y2="349.7" stroke="#333" stroke-width="0.7"/>
<line x1="210.3" y1="351.9" x2="210.3" y2="365.5" stroke="#555" stroke-width="0.7"/>
<path d="M205.3 364 L205.3 368.4 L215.3 368.4 L215.3 364" fill="none" stroke="#555" stroke-width="0.7"/>
<line x1="206.6" y1="365.5" x2="214" y2="365.5" stroke="#555" stroke-width="0.9"/>
<line x1="210.3" y1="368.4" x2="210.3" y2="378" stroke="#555" stroke-width="0.7"/>
<line x1="238.6" y1="333.2" x2="238.6" y2="344.3" stroke="#555" stroke-width="0.7"/>
<line x1="234" y1="346.5" x2="243.2" y2="344.5" stroke="#333" stroke-width="0.7"/>
<line x1="234" y1="348.2" x2="243.2" y2="346.2" stroke="#333" stroke-width="0.7"/>
<line x1="234" y1="350" x2="243.2" y2="348" stroke="#333" stroke-width="0.7"/>
<line x1="234" y1="351.7" x2="243.2" y2="349.7" stroke="#333" stroke-width="0.7"/>
<line x1="238.6" y1="351.9" x2="238.6" y2="365.5" stroke="#555" stroke-width="0.7"/>
<path d="M233.6 364 L233.6 368.4 L243.6 368.4 L243.6 364" fill="none" stroke="#555" stroke-width="0.7"/>
<line x1="234.9" y1="365.5" x2="242.3" y2="365.5" stroke="#555" stroke-width="0.9"/>
<line x1="238.6" y1="368.4" x2="238.6" y2="378" stroke="#555" stroke-width="0.7"/>
<line x1="208.3" y1="333.2" x2="208.3" y2="328.8" stroke="#333" stroke-width="0.6"/>
<path d="M206.8 329.8 L208.3 327.6 L209.8 329.8" fill="none" stroke="#333" stroke-width="0.6"/>
<line x1="208.3" y1="378" x2="208.3" y2="383.4" stroke="#333" stroke-width="0.6"/>
<path d="M206.8 382.2 L208.3 384.4 L209.8 382.2" fill="none" stroke="#333" stroke-width="0.6"/>
<text x="202" y="331.5" font-size="7.9" fill="#f7a740" font-style="italic" stroke="#f7a740" stroke-width="0.1">ε</text>
<text x="163.9" y="353.1" font-size="8.4" stroke="#000" stroke-width="0.1"><tspan font-style="italic">E</tspan><tspan font-size="5" dy="2">0</tspan></text>
<text x="181.8" y="343" font-size="8.4" stroke="#000" stroke-width="0.1"><tspan font-style="italic">E</tspan><tspan font-size="5" dy="2">1</tspan></text>
<text x="201.3" y="343" font-size="8.4" stroke="#000" stroke-width="0.1"><tspan font-style="italic">E</tspan><tspan font-size="5" dy="2">2</tspan></text>
<text x="229.3" y="343" font-size="8.4" stroke="#000" stroke-width="0.1"><tspan font-style="italic">E</tspan><tspan font-size="5" dy="2">n</tspan></text>
<text x="183" y="360.1" font-size="8.4" stroke="#000" stroke-width="0.1"><tspan font-style="italic">τ</tspan><tspan font-size="5" dy="2">1</tspan></text>
<text x="202" y="360.1" font-size="8.4" stroke="#000" stroke-width="0.1"><tspan font-style="italic">τ</tspan><tspan font-size="5" dy="2">2</tspan></text>
<text x="229.7" y="360.1" font-size="8.4" stroke="#000" stroke-width="0.1"><tspan font-style="italic">τ</tspan><tspan font-size="5" dy="2">n</tspan></text>
<path d="M231.9 385.4 A16.8 16.8 0 1 1 251.5 406.4" fill="none" stroke="#fbc77e" stroke-width="9.100000000000001" stroke-opacity="0.7"/>
<path d="M250 406.6 A16.8 16.8 0 0 1 231.6 386.5" fill="none" stroke="#f6a437" stroke-width="9.100000000000001" stroke-opacity="0.95"/>
<text x="218.8" y="406" font-size="9.3" fill="#c0934f" textLength="36" lengthAdjust="spacingAndGlyphs" stroke="#c0934f" stroke-width="0.1">lsqnonlin</text>
<text x="262.6" y="322" font-size="7.9" textLength="73" lengthAdjust="spacingAndGlyphs" stroke="#000" stroke-width="0.1">Fitting Convergence</text>
<line x1="262.7" y1="336.2" x2="335.9" y2="336.2" stroke="#e0e0e0" stroke-width="0.5"/>
<line x1="262.7" y1="377.4" x2="335.9" y2="377.4" stroke="#e0e0e0" stroke-width="0.5"/>
<path d="M263.3 326 L263.8 339.1 L264.7 356.5 L265.6 372.5 L267.6 378.3 L272 382.7 L277.8 385 L283.6 386.2 L286.5 387.9 L289.4 388.5 L292.3 394.3 L298.1 397.2 L306.9 400.7 L315.6 403.6 L324.3 405.9 L335.9 406.8" fill="none" stroke="#f2a33a" stroke-width="1.0" stroke-linejoin="round"/>
<rect x="262.7" y="324.5" width="73.2" height="93.1" fill="none" stroke="#111" stroke-width="0.8"/>
<line x1="262.7" y1="336.2" x2="264.2" y2="336.2" stroke="#000" stroke-width="0.5"/>
<line x1="262.7" y1="377.4" x2="264.2" y2="377.4" stroke="#000" stroke-width="0.5"/>
<line x1="271.8" y1="417.6" x2="271.8" y2="416.1" stroke="#000" stroke-width="0.5"/>
<line x1="281" y1="417.6" x2="281" y2="416.1" stroke="#000" stroke-width="0.5"/>
<line x1="290.1" y1="417.6" x2="290.1" y2="416.1" stroke="#000" stroke-width="0.5"/>
<line x1="299.3" y1="417.6" x2="299.3" y2="416.1" stroke="#000" stroke-width="0.5"/>
<line x1="308.4" y1="417.6" x2="308.4" y2="416.1" stroke="#000" stroke-width="0.5"/>
<line x1="317.6" y1="417.6" x2="317.6" y2="416.1" stroke="#000" stroke-width="0.5"/>
<line x1="326.8" y1="417.6" x2="326.8" y2="416.1" stroke="#000" stroke-width="0.5"/>
<text x="261.5" y="338.9" font-size="7.9" text-anchor="end" stroke="#000" stroke-width="0.1">10<tspan font-size="4.8" dy="-3">2</tspan></text>
<text x="261.5" y="420.3" font-size="7.9" text-anchor="end" stroke="#000" stroke-width="0.1">10<tspan font-size="4.8" dy="-3">0</tspan></text>
<text x="259.6" y="371.8" font-size="7.9" text-anchor="middle" transform="rotate(-90 259.6 371.8)" stroke="#000" stroke-width="0.1">RMSE</text>
<text x="262.5" y="425.6" font-size="7.9" text-anchor="middle" stroke="#000" stroke-width="0.1">0</text>
<text x="298.8" y="425.6" font-size="7.9" text-anchor="middle" stroke="#000" stroke-width="0.1">100</text>
<text x="335.3" y="425.6" font-size="7.9" text-anchor="middle" stroke="#000" stroke-width="0.1">200</text>
<text x="301.7" y="433.4" font-size="7.9" text-anchor="middle" stroke="#000" stroke-width="0.1">Iteration</text>
<text x="347.8" y="308.2" font-size="13.2" font-weight="bold" stroke="#000" stroke-width="0.1">f</text>
<text x="361.5" y="307.5" font-size="9.35" textLength="83.1" lengthAdjust="spacingAndGlyphs" stroke="#000" stroke-width="0.1">Estimation Accuracy</text>
<line x1="378.2" y1="345.4" x2="378.2" y2="399.8" stroke="#d9d9d9" stroke-width="0.45"/>
<line x1="385.2" y1="343.3" x2="385.2" y2="397.7" stroke="#d9d9d9" stroke-width="0.45"/>
<line x1="392.1" y1="341.2" x2="392.1" y2="395.6" stroke="#d9d9d9" stroke-width="0.45"/>
<line x1="399.1" y1="339.2" x2="399.1" y2="393.6" stroke="#d9d9d9" stroke-width="0.45"/>
<line x1="406" y1="337.1" x2="406" y2="391.5" stroke="#d9d9d9" stroke-width="0.45"/>
<line x1="413" y1="335" x2="413" y2="389.4" stroke="#d9d9d9" stroke-width="0.45"/>
<line x1="419.9" y1="332.9" x2="419.9" y2="387.3" stroke="#d9d9d9" stroke-width="0.45"/>
<line x1="426.9" y1="330.9" x2="426.9" y2="385.3" stroke="#d9d9d9" stroke-width="0.45"/>
<line x1="433.8" y1="328.8" x2="433.8" y2="383.2" stroke="#d9d9d9" stroke-width="0.45"/>
<line x1="440.8" y1="326.7" x2="440.8" y2="381.1" stroke="#d9d9d9" stroke-width="0.45"/>
<line x1="378.2" y1="345.4" x2="440.8" y2="326.7" stroke="#d9d9d9" stroke-width="0.45"/>
<line x1="378.2" y1="359" x2="440.8" y2="340.3" stroke="#d9d9d9" stroke-width="0.45"/>
<line x1="378.2" y1="372.6" x2="440.8" y2="353.9" stroke="#d9d9d9" stroke-width="0.45"/>
<line x1="378.2" y1="386.2" x2="440.8" y2="367.5" stroke="#d9d9d9" stroke-width="0.45"/>
<line x1="378.2" y1="399.8" x2="440.8" y2="381.1" stroke="#d9d9d9" stroke-width="0.45"/>
<line x1="440.8" y1="326.7" x2="440.8" y2="381.1" stroke="#d9d9d9" stroke-width="0.45"/>
<line x1="448.5" y1="329.8" x2="448.5" y2="385.4" stroke="#d9d9d9" stroke-width="0.45"/>
<line x1="456.2" y1="332.8" x2="456.2" y2="389.7" stroke="#d9d9d9" stroke-width="0.45"/>
<line x1="464" y1="335.9" x2="464" y2="394" stroke="#d9d9d9" stroke-width="0.45"/>
<line x1="471.7" y1="339" x2="471.7" y2="398.2" stroke="#d9d9d9" stroke-width="0.45"/>
<line x1="479.4" y1="342" x2="479.4" y2="402.5" stroke="#d9d9d9" stroke-width="0.45"/>
<line x1="487.1" y1="345.1" x2="487.1" y2="406.8" stroke="#d9d9d9" stroke-width="0.45"/>
<line x1="440.8" y1="326.7" x2="487.1" y2="345.1" stroke="#d9d9d9" stroke-width="0.45"/>
<line x1="440.8" y1="340.3" x2="487.1" y2="360.5" stroke="#d9d9d9" stroke-width="0.45"/>
<line x1="440.8" y1="353.9" x2="487.1" y2="376" stroke="#d9d9d9" stroke-width="0.45"/>
<line x1="440.8" y1="367.5" x2="487.1" y2="391.4" stroke="#d9d9d9" stroke-width="0.45"/>
<line x1="440.8" y1="381.1" x2="487.1" y2="406.8" stroke="#d9d9d9" stroke-width="0.45"/>
<line x1="378.2" y1="399.8" x2="424.5" y2="425.7" stroke="#d9d9d9" stroke-width="0.45"/>
<line x1="385.2" y1="397.7" x2="431.5" y2="423.6" stroke="#d9d9d9" stroke-width="0.45"/>
<line x1="392.1" y1="395.6" x2="438.4" y2="421.5" stroke="#d9d9d9" stroke-width="0.45"/>
<line x1="399.1" y1="393.6" x2="445.4" y2="419.4" stroke="#d9d9d9" stroke-width="0.45"/>
<line x1="406" y1="391.5" x2="452.3" y2="417.3" stroke="#d9d9d9" stroke-width="0.45"/>
<line x1="413" y1="389.4" x2="459.3" y2="415.2" stroke="#d9d9d9" stroke-width="0.45"/>
<line x1="419.9" y1="387.3" x2="466.2" y2="413.1" stroke="#d9d9d9" stroke-width="0.45"/>
<line x1="426.9" y1="385.3" x2="473.2" y2="411" stroke="#d9d9d9" stroke-width="0.45"/>
<line x1="433.8" y1="383.2" x2="480.1" y2="408.9" stroke="#d9d9d9" stroke-width="0.45"/>
<line x1="440.8" y1="381.1" x2="487.1" y2="406.8" stroke="#d9d9d9" stroke-width="0.45"/>
<line x1="378.2" y1="399.8" x2="440.8" y2="381.1" stroke="#d9d9d9" stroke-width="0.45"/>
<line x1="385.9" y1="404.1" x2="448.5" y2="385.4" stroke="#d9d9d9" stroke-width="0.45"/>
<line x1="393.6" y1="408.4" x2="456.2" y2="389.7" stroke="#d9d9d9" stroke-width="0.45"/>
<line x1="401.4" y1="412.8" x2="464" y2="394" stroke="#d9d9d9" stroke-width="0.45"/>
<line x1="409.1" y1="417.1" x2="471.7" y2="398.2" stroke="#d9d9d9" stroke-width="0.45"/>
<line x1="416.8" y1="421.4" x2="479.4" y2="402.5" stroke="#d9d9d9" stroke-width="0.45"/>
<line x1="424.5" y1="425.7" x2="487.1" y2="406.8" stroke="#d9d9d9" stroke-width="0.45"/>
<line x1="378.2" y1="345.4" x2="378.2" y2="399.8" stroke="#222" stroke-width="0.7"/>
<line x1="378.2" y1="399.8" x2="424.5" y2="425.7" stroke="#222" stroke-width="0.7"/>
<line x1="424.5" y1="425.7" x2="487.1" y2="406.8" stroke="#222" stroke-width="0.7"/>
<line x1="378.2" y1="345.4" x2="379.6" y2="345" stroke="#222" stroke-width="0.5"/>
<line x1="378.2" y1="359" x2="379.6" y2="358.6" stroke="#222" stroke-width="0.5"/>
<line x1="378.2" y1="372.6" x2="379.6" y2="372.2" stroke="#222" stroke-width="0.5"/>
<line x1="378.2" y1="386.2" x2="379.6" y2="385.8" stroke="#222" stroke-width="0.5"/>
<line x1="378.2" y1="399.8" x2="379.6" y2="399.4" stroke="#222" stroke-width="0.5"/>
<text x="361.5" y="322.6" font-size="7.9" textLength="105.7" lengthAdjust="spacingAndGlyphs" stroke="#000" stroke-width="0.1">Estimated Material Properties</text>
<path d="M378.2 351.6 L379.8 351.2 L381.3 350.7 L382.9 350.3 L384.5 349.8 L386 349.4 L387.6 348.9 L389.2 348.5 L390.7 348 L392.3 347.6 L393.8 347.1 L395.4 346.7 L397 346.2 L398.5 345.8 L400.1 345.3 L401.7 344.9 L403.2 344.5 L404.8 344 L406.4 343.6 L407.9 343.2 L409.5 342.8 L411.1 342.3 L412.6 341.9 L414.2 341.5 L415.8 341.1 L417.3 340.7 L418.9 340.4 L420.5 340 L422 339.6 L423.6 339.2 L425.2 338.9 L426.7 338.6 L428.3 338.2 L429.8 337.9 L431.4 337.6 L433 337.3 L434.5 337.1 L436.1 336.8 L437.7 336.6 L439.2 336.4 L440.8 336.2 L442 337.4 L443.1 338.8 L444.3 340.4 L445.4 342.1 L446.6 344.1 L447.7 346.3 L448.9 348.7 L450.1 351.4 L451.2 354.3 L452.4 357.3 L453.5 360.5 L454.7 363.8 L455.8 367.1 L457 370.3 L458.2 373.4 L459.3 376.4 L460.5 379.2 L461.6 381.8 L462.8 384.1 L464 386.3 L465.1 388.2 L466.3 390 L467.4 391.5 L468.6 393 L469.7 394.3 L470.9 395.4 L472.1 396.5 L473.2 397.5 L474.4 398.5 L475.5 399.3 L476.7 400.2 L477.8 401 L479 401.8 L480.2 402.5 L481.3 403.2 L482.5 403.9 L483.6 404.6 L484.8 405.3 L485.9 406 L487.1 406.7 L485.5 407.1 L484 407.6 L482.4 408.1 L480.8 408.5 L479.3 409 L477.7 409.4 L476.1 409.9 L474.6 410.3 L473 410.8 L471.5 411.2 L469.9 411.7 L468.3 412.1 L466.8 412.5 L465.2 413 L463.6 413.4 L462.1 413.8 L460.5 414.2 L458.9 414.7 L457.4 415.1 L455.8 415.5 L454.2 415.9 L452.7 416.3 L451.1 416.7 L449.5 417 L448 417.4 L446.4 417.8 L444.8 418.1 L443.3 418.4 L441.7 418.8 L440.1 419.1 L438.6 419.4 L437 419.7 L435.5 419.9 L433.9 420.2 L432.3 420.4 L430.8 420.6 L429.2 420.8 L427.6 420.9 L426.1 421.1 L424.5 421.2 L423.3 419.6 L422.2 417.8 L421 415.8 L419.9 413.6 L418.7 411.1 L417.6 408.5 L416.4 405.6 L415.2 402.5 L414.1 399.3 L412.9 396 L411.8 392.6 L410.6 389.3 L409.5 386 L408.3 382.9 L407.1 380 L406 377.3 L404.8 374.8 L403.7 372.6 L402.5 370.5 L401.4 368.7 L400.2 367.1 L399 365.7 L397.9 364.4 L396.7 363.2 L395.6 362.1 L394.4 361.2 L393.2 360.3 L392.1 359.4 L390.9 358.6 L389.8 357.9 L388.6 357.2 L387.5 356.5 L386.3 355.9 L385.1 355.2 L384 354.6 L382.8 354 L381.7 353.4 L380.5 352.8 L379.4 352.2 L378.2 351.6 Z" fill="#98c0a0" fill-opacity="0.6"/>
<path d="M378.2 351.6 L379.8 351.2 L381.3 350.7 L382.9 350.3 L384.5 349.8 L386 349.4 L387.6 348.9 L389.2 348.5 L390.7 348 L392.3 347.6 L393.8 347.1 L395.4 346.7 L397 346.2 L398.5 345.8 L400.1 345.3 L401.7 344.9 L403.2 344.5 L404.8 344 L406.4 343.6 L407.9 343.2 L409.5 342.8 L411.1 342.3 L412.6 341.9 L414.2 341.5 L415.8 341.1 L417.3 340.7 L418.9 340.4 L420.5 340 L422 339.6 L423.6 339.2 L425.2 338.9 L426.7 338.6 L428.3 338.2 L429.8 337.9 L431.4 337.6 L433 337.3 L434.5 337.1 L436.1 336.8 L437.7 336.6 L439.2 336.4 L440.8 336.2 L442 337.4 L443.1 338.8 L444.3 340.4 L445.4 342.1 L446.6 344.1 L447.7 346.3 L448.9 348.7 L450.1 351.4 L451.2 354.3 L452.4 357.3 L453.5 360.5 L454.7 363.8 L455.8 367.1 L457 370.3 L458.2 373.4 L459.3 376.4 L460.5 379.2 L461.6 381.8 L462.8 384.1 L464 386.3 L465.1 388.2 L466.3 390 L467.4 391.5 L468.6 393 L469.7 394.3 L470.9 395.4 L472.1 396.5 L473.2 397.5 L474.4 398.5 L475.5 399.3 L476.7 400.2 L477.8 401 L479 401.8 L480.2 402.5 L481.3 403.2 L482.5 403.9 L483.6 404.6 L484.8 405.3 L485.9 406 L487.1 406.7 L485.5 407.1 L484 407.6 L482.4 408.1 L480.8 408.5 L479.3 409 L477.7 409.4 L476.1 409.9 L474.6 410.3 L473 410.8 L471.5 411.2 L469.9 411.7 L468.3 412.1 L466.8 412.5 L465.2 413 L463.6 413.4 L462.1 413.8 L460.5 414.2 L458.9 414.7 L457.4 415.1 L455.8 415.5 L454.2 415.9 L452.7 416.3 L451.1 416.7 L449.5 417 L448 417.4 L446.4 417.8 L444.8 418.1 L443.3 418.4 L441.7 418.8 L440.1 419.1 L438.6 419.4 L437 419.7 L435.5 419.9 L433.9 420.2 L432.3 420.4 L430.8 420.6 L429.2 420.8 L427.6 420.9 L426.1 421.1 L424.5 421.2 L423.3 419.6 L422.2 417.8 L421 415.8 L419.9 413.6 L418.7 411.1 L417.6 408.5 L416.4 405.6 L415.2 402.5 L414.1 399.3 L412.9 396 L411.8 392.6 L410.6 389.3 L409.5 386 L408.3 382.9 L407.1 380 L406 377.3 L404.8 374.8 L403.7 372.6 L402.5 370.5 L401.4 368.7 L400.2 367.1 L399 365.7 L397.9 364.4 L396.7 363.2 L395.6 362.1 L394.4 361.2 L393.2 360.3 L392.1 359.4 L390.9 358.6 L389.8 357.9 L388.6 357.2 L387.5 356.5 L386.3 355.9 L385.1 355.2 L384 354.6 L382.8 354 L381.7 353.4 L380.5 352.8 L379.4 352.2 L378.2 351.6 Z" fill="none" stroke="#1e2a1e" stroke-width="0.8"/>
<text x="376.8" y="347.9" font-size="7.9" text-anchor="end" stroke="#000" stroke-width="0.1">2e3</text>
<text x="376.8" y="402.5" font-size="7.9" text-anchor="end" stroke="#000" stroke-width="0.1">0</text>
<text x="369.6" y="369" font-size="7.9" text-anchor="middle" transform="rotate(-90 369.6 369)" stroke="#000" stroke-width="0.1"><tspan font-style="italic">E</tspan> [MPa]</text>
<text x="383.5" y="412.6" font-size="7.9" text-anchor="middle" stroke="#000" stroke-width="0.1">0</text>
<text x="384" y="424.6" font-size="7.9" stroke="#000" stroke-width="0.1"><tspan font-style="italic">T</tspan> [°C]</text>
<text x="418" y="431.6" font-size="7.9" text-anchor="middle" stroke="#000" stroke-width="0.1">80</text>
<text x="427.5" y="431.5" font-size="7.9" stroke="#000" stroke-width="0.1">10<tspan font-size="4.8" dy="-3">-6</tspan></text>
<text x="453" y="428" font-size="7.9" stroke="#000" stroke-width="0.1"><tspan font-style="italic">t</tspan> [s]</text>
<text x="468.4" y="419.3" font-size="7.9" stroke="#000" stroke-width="0.1">10<tspan font-size="4.8" dy="-3">0</tspan></text>
<path d="M436.8 352.1 C452 350 468 354 477 366" fill="none" stroke="#8a9fd0" stroke-width="3.8" stroke-opacity="0.42" stroke-linecap="round"/>
<path d="M412.2 386.9 C432 392 456 394 477 380" fill="none" stroke="#8a9fd0" stroke-width="3.8" stroke-opacity="0.42" stroke-linecap="round"/>
<path d="M454.2 393.6 L477 340" fill="none" stroke="#f2e56a" stroke-width="2.2" stroke-opacity="0.5"/>
<circle cx="436.8" cy="352.1" r="2.8" fill="#3d6cc8" stroke="#222" stroke-width="0.4"/>
<circle cx="412.2" cy="386.9" r="2.8" fill="#2f2f8c" stroke="#222" stroke-width="0.4"/>
<circle cx="454.2" cy="393.6" r="2.8" fill="#f6e01e" stroke="#333" stroke-width="0.4"/>
<defs><linearGradient id="par1" x1="0" y1="1" x2="0" y2="0"><stop offset="0" stop-color="#3e26a8"/><stop offset="0.1" stop-color="#4852f4"/><stop offset="0.2" stop-color="#2e87f7"/><stop offset="0.4" stop-color="#12b1d6"/><stop offset="0.5" stop-color="#37c897"/><stop offset="0.6" stop-color="#96c45a"/><stop offset="0.8" stop-color="#f5ba3a"/><stop offset="0.9" stop-color="#fcd12e"/><stop offset="1" stop-color="#f9fb14"/></linearGradient></defs>
<rect x="476.5" y="337.3" width="10.6" height="44.9" fill="url(#par1)" stroke="#111" stroke-width="0.7"/>
<line x1="485.6" y1="342.4" x2="487.1" y2="342.4" stroke="#000" stroke-width="0.5"/>
<line x1="485.6" y1="349.4" x2="487.1" y2="349.4" stroke="#000" stroke-width="0.5"/>
<line x1="485.6" y1="356.5" x2="487.1" y2="356.5" stroke="#000" stroke-width="0.5"/>
<line x1="485.6" y1="362.9" x2="487.1" y2="362.9" stroke="#000" stroke-width="0.5"/>
<line x1="485.6" y1="369.5" x2="487.1" y2="369.5" stroke="#000" stroke-width="0.5"/>
<line x1="485.6" y1="376.1" x2="487.1" y2="376.1" stroke="#000" stroke-width="0.5"/>
<text x="488.3" y="345.1" font-size="7.9" stroke="#000" stroke-width="0.1">20</text>
<text x="488.3" y="359.2" font-size="7.9" stroke="#000" stroke-width="0.1">0</text>
<text x="488.3" y="378.8" font-size="7.9" stroke="#000" stroke-width="0.1">-30</text>
<text x="476.3" y="332.8" font-size="7.9" stroke="#000" stroke-width="0.1"><tspan font-style="italic">E</tspan><tspan font-size="4.6" dy="1.6">NN</tspan><tspan dy="-1.6">-</tspan><tspan font-style="italic">E</tspan><tspan font-size="4.6" dy="1.6">Req</tspan></text>
<line x1="538.4" y1="345.4" x2="538.4" y2="399.8" stroke="#d9d9d9" stroke-width="0.45"/>
<line x1="545.4" y1="343.3" x2="545.4" y2="397.7" stroke="#d9d9d9" stroke-width="0.45"/>
<line x1="552.3" y1="341.2" x2="552.3" y2="395.6" stroke="#d9d9d9" stroke-width="0.45"/>
<line x1="559.3" y1="339.2" x2="559.3" y2="393.6" stroke="#d9d9d9" stroke-width="0.45"/>
<line x1="566.2" y1="337.1" x2="566.2" y2="391.5" stroke="#d9d9d9" stroke-width="0.45"/>
<line x1="573.2" y1="335" x2="573.2" y2="389.4" stroke="#d9d9d9" stroke-width="0.45"/>
<line x1="580.1" y1="332.9" x2="580.1" y2="387.3" stroke="#d9d9d9" stroke-width="0.45"/>
<line x1="587.1" y1="330.9" x2="587.1" y2="385.3" stroke="#d9d9d9" stroke-width="0.45"/>
<line x1="594" y1="328.8" x2="594" y2="383.2" stroke="#d9d9d9" stroke-width="0.45"/>
<line x1="601" y1="326.7" x2="601" y2="381.1" stroke="#d9d9d9" stroke-width="0.45"/>
<line x1="538.4" y1="345.4" x2="601" y2="326.7" stroke="#d9d9d9" stroke-width="0.45"/>
<line x1="538.4" y1="359" x2="601" y2="340.3" stroke="#d9d9d9" stroke-width="0.45"/>
<line x1="538.4" y1="372.6" x2="601" y2="353.9" stroke="#d9d9d9" stroke-width="0.45"/>
<line x1="538.4" y1="386.2" x2="601" y2="367.5" stroke="#d9d9d9" stroke-width="0.45"/>
<line x1="538.4" y1="399.8" x2="601" y2="381.1" stroke="#d9d9d9" stroke-width="0.45"/>
<line x1="601" y1="326.7" x2="601" y2="381.1" stroke="#d9d9d9" stroke-width="0.45"/>
<line x1="608.7" y1="329.8" x2="608.7" y2="385.4" stroke="#d9d9d9" stroke-width="0.45"/>
<line x1="616.4" y1="332.8" x2="616.4" y2="389.7" stroke="#d9d9d9" stroke-width="0.45"/>
<line x1="624.1" y1="335.9" x2="624.1" y2="394" stroke="#d9d9d9" stroke-width="0.45"/>
<line x1="631.9" y1="339" x2="631.9" y2="398.2" stroke="#d9d9d9" stroke-width="0.45"/>
<line x1="639.6" y1="342" x2="639.6" y2="402.5" stroke="#d9d9d9" stroke-width="0.45"/>
<line x1="647.3" y1="345.1" x2="647.3" y2="406.8" stroke="#d9d9d9" stroke-width="0.45"/>
<line x1="601" y1="326.7" x2="647.3" y2="345.1" stroke="#d9d9d9" stroke-width="0.45"/>
<line x1="601" y1="340.3" x2="647.3" y2="360.5" stroke="#d9d9d9" stroke-width="0.45"/>
<line x1="601" y1="353.9" x2="647.3" y2="376" stroke="#d9d9d9" stroke-width="0.45"/>
<line x1="601" y1="367.5" x2="647.3" y2="391.4" stroke="#d9d9d9" stroke-width="0.45"/>
<line x1="601" y1="381.1" x2="647.3" y2="406.8" stroke="#d9d9d9" stroke-width="0.45"/>
<line x1="538.4" y1="399.8" x2="584.7" y2="425.7" stroke="#d9d9d9" stroke-width="0.45"/>
<line x1="545.4" y1="397.7" x2="591.7" y2="423.6" stroke="#d9d9d9" stroke-width="0.45"/>
<line x1="552.3" y1="395.6" x2="598.6" y2="421.5" stroke="#d9d9d9" stroke-width="0.45"/>
<line x1="559.3" y1="393.6" x2="605.6" y2="419.4" stroke="#d9d9d9" stroke-width="0.45"/>
<line x1="566.2" y1="391.5" x2="612.5" y2="417.3" stroke="#d9d9d9" stroke-width="0.45"/>
<line x1="573.2" y1="389.4" x2="619.5" y2="415.2" stroke="#d9d9d9" stroke-width="0.45"/>
<line x1="580.1" y1="387.3" x2="626.4" y2="413.1" stroke="#d9d9d9" stroke-width="0.45"/>
<line x1="587.1" y1="385.3" x2="633.4" y2="411" stroke="#d9d9d9" stroke-width="0.45"/>
<line x1="594" y1="383.2" x2="640.3" y2="408.9" stroke="#d9d9d9" stroke-width="0.45"/>
<line x1="601" y1="381.1" x2="647.3" y2="406.8" stroke="#d9d9d9" stroke-width="0.45"/>
<line x1="538.4" y1="399.8" x2="601" y2="381.1" stroke="#d9d9d9" stroke-width="0.45"/>
<line x1="546.1" y1="404.1" x2="608.7" y2="385.4" stroke="#d9d9d9" stroke-width="0.45"/>
<line x1="553.8" y1="408.4" x2="616.4" y2="389.7" stroke="#d9d9d9" stroke-width="0.45"/>
<line x1="561.5" y1="412.8" x2="624.1" y2="394" stroke="#d9d9d9" stroke-width="0.45"/>
<line x1="569.3" y1="417.1" x2="631.9" y2="398.2" stroke="#d9d9d9" stroke-width="0.45"/>
<line x1="577" y1="421.4" x2="639.6" y2="402.5" stroke="#d9d9d9" stroke-width="0.45"/>
<line x1="584.7" y1="425.7" x2="647.3" y2="406.8" stroke="#d9d9d9" stroke-width="0.45"/>
<line x1="538.4" y1="345.4" x2="538.4" y2="399.8" stroke="#222" stroke-width="0.7"/>
<line x1="538.4" y1="399.8" x2="584.7" y2="425.7" stroke="#222" stroke-width="0.7"/>
<line x1="584.7" y1="425.7" x2="647.3" y2="406.8" stroke="#222" stroke-width="0.7"/>
<line x1="538.4" y1="345.4" x2="539.8" y2="345" stroke="#222" stroke-width="0.5"/>
<line x1="538.4" y1="359" x2="539.8" y2="358.6" stroke="#222" stroke-width="0.5"/>
<line x1="538.4" y1="372.6" x2="539.8" y2="372.2" stroke="#222" stroke-width="0.5"/>
<line x1="538.4" y1="386.2" x2="539.8" y2="385.8" stroke="#222" stroke-width="0.5"/>
<line x1="538.4" y1="399.8" x2="539.8" y2="399.4" stroke="#222" stroke-width="0.5"/>
<text x="520.9" y="322.6" font-size="7.9" textLength="76.6" lengthAdjust="spacingAndGlyphs" stroke="#000" stroke-width="0.1">Fitted Material Model</text>
<defs><clipPath id="s2clip"><path d="M538.4 351.6 L540 351.2 L541.5 350.7 L543.1 350.3 L544.7 349.8 L546.2 349.4 L547.8 348.9 L549.4 348.5 L550.9 348 L552.5 347.6 L554 347.1 L555.6 346.7 L557.2 346.2 L558.7 345.8 L560.3 345.3 L561.9 344.9 L563.4 344.5 L565 344 L566.6 343.6 L568.1 343.2 L569.7 342.8 L571.3 342.3 L572.8 341.9 L574.4 341.5 L576 341.1 L577.5 340.7 L579.1 340.4 L580.7 340 L582.2 339.6 L583.8 339.2 L585.4 338.9 L586.9 338.6 L588.5 338.2 L590 337.9 L591.6 337.6 L593.2 337.3 L594.7 337.1 L596.3 336.8 L597.9 336.6 L599.4 336.4 L601 336.2 L602.2 337.4 L603.3 338.8 L604.5 340.4 L605.6 342.1 L606.8 344.1 L607.9 346.3 L609.1 348.7 L610.3 351.4 L611.4 354.3 L612.6 357.3 L613.7 360.5 L614.9 363.8 L616 367.1 L617.2 370.3 L618.4 373.4 L619.5 376.4 L620.7 379.2 L621.8 381.8 L623 384.1 L624.1 386.3 L625.3 388.2 L626.5 390 L627.6 391.5 L628.8 393 L629.9 394.3 L631.1 395.4 L632.3 396.5 L633.4 397.5 L634.6 398.5 L635.7 399.3 L636.9 400.2 L638 401 L639.2 401.8 L640.4 402.5 L641.5 403.2 L642.7 403.9 L643.8 404.6 L645 405.3 L646.1 406 L647.3 406.7 L645.7 407.1 L644.2 407.6 L642.6 408.1 L641 408.5 L639.5 409 L637.9 409.4 L636.3 409.9 L634.8 410.3 L633.2 410.8 L631.6 411.2 L630.1 411.7 L628.5 412.1 L627 412.5 L625.4 413 L623.8 413.4 L622.3 413.8 L620.7 414.2 L619.1 414.7 L617.6 415.1 L616 415.5 L614.4 415.9 L612.9 416.3 L611.3 416.7 L609.7 417 L608.2 417.4 L606.6 417.8 L605 418.1 L603.5 418.4 L601.9 418.8 L600.4 419.1 L598.8 419.4 L597.2 419.7 L595.7 419.9 L594.1 420.2 L592.5 420.4 L591 420.6 L589.4 420.8 L587.8 420.9 L586.3 421.1 L584.7 421.2 L583.5 419.6 L582.4 417.8 L581.2 415.8 L580.1 413.6 L578.9 411.1 L577.8 408.5 L576.6 405.6 L575.4 402.5 L574.3 399.3 L573.1 396 L572 392.6 L570.8 389.3 L569.7 386 L568.5 382.9 L567.3 380 L566.2 377.3 L565 374.8 L563.9 372.6 L562.7 370.5 L561.5 368.7 L560.4 367.1 L559.2 365.7 L558.1 364.4 L556.9 363.2 L555.8 362.1 L554.6 361.2 L553.4 360.3 L552.3 359.4 L551.1 358.6 L550 357.9 L548.8 357.2 L547.7 356.5 L546.5 355.9 L545.3 355.2 L544.2 354.6 L543 354 L541.9 353.4 L540.7 352.8 L539.6 352.2 L538.4 351.6 Z"/></clipPath></defs>
<defs><linearGradient id="s2g" gradientUnits="userSpaceOnUse" x1="560" y1="345" x2="615" y2="405"><stop offset="0" stop-color="#86c35a"/><stop offset="0.4" stop-color="#45b796"/><stop offset="1" stop-color="#27b0be"/></linearGradient></defs>
<path d="M538.4 351.6 L540 351.2 L541.5 350.7 L543.1 350.3 L544.7 349.8 L546.2 349.4 L547.8 348.9 L549.4 348.5 L550.9 348 L552.5 347.6 L554 347.1 L555.6 346.7 L557.2 346.2 L558.7 345.8 L560.3 345.3 L561.9 344.9 L563.4 344.5 L565 344 L566.6 343.6 L568.1 343.2 L569.7 342.8 L571.3 342.3 L572.8 341.9 L574.4 341.5 L576 341.1 L577.5 340.7 L579.1 340.4 L580.7 340 L582.2 339.6 L583.8 339.2 L585.4 338.9 L586.9 338.6 L588.5 338.2 L590 337.9 L591.6 337.6 L593.2 337.3 L594.7 337.1 L596.3 336.8 L597.9 336.6 L599.4 336.4 L601 336.2 L602.2 337.4 L603.3 338.8 L604.5 340.4 L605.6 342.1 L606.8 344.1 L607.9 346.3 L609.1 348.7 L610.3 351.4 L611.4 354.3 L612.6 357.3 L613.7 360.5 L614.9 363.8 L616 367.1 L617.2 370.3 L618.4 373.4 L619.5 376.4 L620.7 379.2 L621.8 381.8 L623 384.1 L624.1 386.3 L625.3 388.2 L626.5 390 L627.6 391.5 L628.8 393 L629.9 394.3 L631.1 395.4 L632.3 396.5 L633.4 397.5 L634.6 398.5 L635.7 399.3 L636.9 400.2 L638 401 L639.2 401.8 L640.4 402.5 L641.5 403.2 L642.7 403.9 L643.8 404.6 L645 405.3 L646.1 406 L647.3 406.7 L645.7 407.1 L644.2 407.6 L642.6 408.1 L641 408.5 L639.5 409 L637.9 409.4 L636.3 409.9 L634.8 410.3 L633.2 410.8 L631.6 411.2 L630.1 411.7 L628.5 412.1 L627 412.5 L625.4 413 L623.8 413.4 L622.3 413.8 L620.7 414.2 L619.1 414.7 L617.6 415.1 L616 415.5 L614.4 415.9 L612.9 416.3 L611.3 416.7 L609.7 417 L608.2 417.4 L606.6 417.8 L605 418.1 L603.5 418.4 L601.9 418.8 L600.4 419.1 L598.8 419.4 L597.2 419.7 L595.7 419.9 L594.1 420.2 L592.5 420.4 L591 420.6 L589.4 420.8 L587.8 420.9 L586.3 421.1 L584.7 421.2 L583.5 419.6 L582.4 417.8 L581.2 415.8 L580.1 413.6 L578.9 411.1 L577.8 408.5 L576.6 405.6 L575.4 402.5 L574.3 399.3 L573.1 396 L572 392.6 L570.8 389.3 L569.7 386 L568.5 382.9 L567.3 380 L566.2 377.3 L565 374.8 L563.9 372.6 L562.7 370.5 L561.5 368.7 L560.4 367.1 L559.2 365.7 L558.1 364.4 L556.9 363.2 L555.8 362.1 L554.6 361.2 L553.4 360.3 L552.3 359.4 L551.1 358.6 L550 357.9 L548.8 357.2 L547.7 356.5 L546.5 355.9 L545.3 355.2 L544.2 354.6 L543 354 L541.9 353.4 L540.7 352.8 L539.6 352.2 L538.4 351.6 Z" fill="url(#s2g)"/>
<g clip-path="url(#s2clip)">
<path d="M538.4 351.6 L539.9 352.4 L541.5 353.2 L543 354 L544.6 354.8 L546.1 355.7 L547.7 356.5 L549.2 357.4 L550.7 358.4 L552.3 359.4 L553.8 360.6 L555.4 361.8 L556.9 363.2 L558.5 364.8 L560 366.6 L561.5 368.7 L563.1 371.2 L564.6 374 L566.2 377.3 L567.7 381 L569.3 385 L570.8 389.3 L572.4 393.8 L573.9 398.2 L575.4 402.5 L577 406.6 L578.5 410.3 L580.1 413.6 L581.6 416.5 L583.2 419 L584.7 421.2" fill="none" stroke="#7cc266" stroke-width="1.2" stroke-opacity="0.3"/>
<path d="M542.6 350.4 L544.1 351.2 L545.7 352 L547.2 352.8 L548.7 353.6 L550.3 354.5 L551.8 355.4 L553.4 356.3 L554.9 357.3 L556.5 358.4 L558 359.7 L559.6 361 L561.1 362.6 L562.6 364.4 L564.2 366.4 L565.7 368.8 L567.3 371.6 L568.8 374.8 L570.4 378.4 L571.9 382.4 L573.4 386.7 L575 391.1 L576.5 395.6 L578.1 399.9 L579.6 404 L581.2 407.8 L582.7 411.1 L584.2 414.1 L585.8 416.6 L587.3 418.9 L588.9 420.8" fill="none" stroke="#22b0c0" stroke-width="1.2" stroke-opacity="0.3"/>
<path d="M546.7 349.2 L548.3 350 L549.8 350.8 L551.4 351.6 L552.9 352.5 L554.5 353.3 L556 354.3 L557.5 355.3 L559.1 356.3 L560.6 357.5 L562.2 358.9 L563.7 360.4 L565.3 362.1 L566.8 364.1 L568.4 366.5 L569.9 369.2 L571.4 372.4 L573 375.9 L574.5 379.8 L576.1 384.1 L577.6 388.5 L579.2 393 L580.7 397.3 L582.2 401.5 L583.8 405.3 L585.3 408.7 L586.9 411.7 L588.4 414.3 L590 416.6 L591.5 418.6 L593 420.3" fill="none" stroke="#7cc266" stroke-width="1.2" stroke-opacity="0.3"/>
<path d="M550.9 348 L552.5 348.8 L554 349.6 L555.6 350.4 L557.1 351.3 L558.6 352.2 L560.2 353.2 L561.7 354.3 L563.3 355.4 L564.8 356.7 L566.4 358.2 L567.9 359.9 L569.4 361.9 L571 364.2 L572.5 366.8 L574.1 369.9 L575.6 373.4 L577.2 377.3 L578.7 381.5 L580.2 385.9 L581.8 390.3 L583.3 394.7 L584.9 398.9 L586.4 402.7 L588 406.2 L589.5 409.3 L591 412 L592.6 414.3 L594.1 416.3 L595.7 418.1 L597.2 419.7" fill="none" stroke="#22b0c0" stroke-width="1.2" stroke-opacity="0.3"/>
<path d="M555.1 346.8 L556.6 347.6 L558.2 348.4 L559.7 349.3 L561.3 350.2 L562.8 351.2 L564.4 352.2 L565.9 353.3 L567.4 354.6 L569 356.1 L570.5 357.7 L572.1 359.6 L573.6 361.9 L575.2 364.5 L576.7 367.5 L578.2 370.9 L579.8 374.7 L581.3 378.9 L582.9 383.3 L584.4 387.7 L586 392.1 L587.5 396.3 L589 400.2 L590.6 403.7 L592.1 406.9 L593.7 409.6 L595.2 412 L596.8 414 L598.3 415.8 L599.9 417.4 L601.4 418.9" fill="none" stroke="#7cc266" stroke-width="1.2" stroke-opacity="0.3"/>
<path d="M559.3 345.6 L560.8 346.4 L562.4 347.3 L563.9 348.2 L565.4 349.1 L567 350.1 L568.5 351.3 L570.1 352.5 L571.6 353.9 L573.2 355.6 L574.7 357.4 L576.2 359.6 L577.8 362.1 L579.3 365.1 L580.9 368.4 L582.4 372.2 L584 376.3 L585.5 380.6 L587 385.1 L588.6 389.5 L590.1 393.8 L591.7 397.7 L593.2 401.3 L594.8 404.5 L596.3 407.2 L597.9 409.7 L599.4 411.8 L600.9 413.6 L602.5 415.2 L604 416.7 L605.6 418" fill="none" stroke="#22b0c0" stroke-width="1.2" stroke-opacity="0.3"/>
<path d="M563.4 344.5 L565 345.3 L566.5 346.2 L568.1 347.1 L569.6 348.1 L571.2 349.2 L572.7 350.4 L574.2 351.8 L575.8 353.4 L577.3 355.2 L578.9 357.3 L580.4 359.8 L582 362.7 L583.5 366 L585 369.7 L586.6 373.7 L588.1 378.1 L589.7 382.5 L591.2 386.9 L592.8 391.2 L594.3 395.2 L595.9 398.8 L597.4 402 L598.9 404.9 L600.5 407.3 L602 409.5 L603.6 411.4 L605.1 413 L606.7 414.5 L608.2 415.8 L609.7 417" fill="none" stroke="#7cc266" stroke-width="1.2" stroke-opacity="0.3"/>
<path d="M567.6 343.3 L569.2 344.2 L570.7 345.1 L572.2 346.1 L573.8 347.2 L575.3 348.4 L576.9 349.7 L578.4 351.2 L580 353 L581.5 355.1 L583 357.5 L584.6 360.3 L586.1 363.6 L587.7 367.2 L589.2 371.2 L590.8 375.5 L592.3 379.9 L593.9 384.3 L595.4 388.6 L596.9 392.7 L598.5 396.3 L600 399.6 L601.6 402.5 L603.1 405 L604.7 407.2 L606.2 409.1 L607.7 410.8 L609.3 412.3 L610.8 413.6 L612.4 414.9 L613.9 416" fill="none" stroke="#22b0c0" stroke-width="1.2" stroke-opacity="0.3"/>
<path d="M571.8 342.2 L573.3 343.1 L574.9 344.1 L576.4 345.1 L578 346.3 L579.5 347.6 L581 349.1 L582.6 350.9 L584.1 352.9 L585.7 355.2 L587.2 358 L588.8 361.1 L590.3 364.7 L591.9 368.7 L593.4 372.9 L594.9 377.3 L596.5 381.7 L598 386.1 L599.6 390.1 L601.1 393.8 L602.7 397.2 L604.2 400.1 L605.7 402.7 L607.3 404.9 L608.8 406.9 L610.4 408.6 L611.9 410.1 L613.5 411.5 L615 412.7 L616.5 413.9 L618.1 414.9" fill="none" stroke="#7cc266" stroke-width="1.2" stroke-opacity="0.3"/>
<path d="M576 341.1 L577.5 342.1 L579 343.1 L580.6 344.3 L582.1 345.5 L583.7 347 L585.2 348.7 L586.8 350.7 L588.3 353 L589.8 355.7 L591.4 358.7 L592.9 362.3 L594.5 366.1 L596 370.3 L597.6 374.7 L599.1 379.2 L600.7 383.5 L602.2 387.6 L603.7 391.4 L605.3 394.8 L606.8 397.7 L608.4 400.4 L609.9 402.6 L611.5 404.6 L613 406.3 L614.5 407.9 L616.1 409.3 L617.6 410.5 L619.2 411.7 L620.7 412.8 L622.3 413.8" fill="none" stroke="#22b0c0" stroke-width="1.2" stroke-opacity="0.3"/>
<path d="M580.1 340.1 L581.7 341.1 L583.2 342.2 L584.8 343.5 L586.3 344.9 L587.9 346.6 L589.4 348.5 L590.9 350.7 L592.5 353.4 L594 356.4 L595.6 359.8 L597.1 363.6 L598.7 367.8 L600.2 372.1 L601.7 376.6 L603.3 380.9 L604.8 385.1 L606.4 388.9 L607.9 392.3 L609.5 395.4 L611 398 L612.5 400.3 L614.1 402.4 L615.6 404.1 L617.2 405.7 L618.7 407.1 L620.3 408.4 L621.8 409.5 L623.3 410.6 L624.9 411.7 L626.4 412.7" fill="none" stroke="#7cc266" stroke-width="1.2" stroke-opacity="0.3"/>
<path d="M584.3 339.1 L585.8 340.2 L587.4 341.5 L588.9 342.9 L590.5 344.5 L592 346.3 L593.6 348.5 L595.1 351.1 L596.7 354 L598.2 357.4 L599.7 361.1 L601.3 365.2 L602.8 369.6 L604.4 374 L605.9 378.4 L607.5 382.5 L609 386.4 L610.5 389.9 L612.1 393 L613.6 395.7 L615.2 398 L616.7 400.1 L618.3 401.9 L619.8 403.5 L621.3 404.9 L622.9 406.2 L624.4 407.4 L626 408.5 L627.5 409.5 L629.1 410.5 L630.6 411.5" fill="none" stroke="#22b0c0" stroke-width="1.2" stroke-opacity="0.3"/>
<path d="M588.5 338.2 L590 339.4 L591.6 340.8 L593.1 342.4 L594.7 344.2 L596.2 346.3 L597.7 348.8 L599.3 351.7 L600.8 355 L602.4 358.7 L603.9 362.7 L605.5 367 L607 371.4 L608.5 375.8 L610.1 380 L611.6 383.9 L613.2 387.4 L614.7 390.6 L616.3 393.3 L617.8 395.7 L619.3 397.8 L620.9 399.7 L622.4 401.3 L624 402.7 L625.5 404 L627.1 405.2 L628.6 406.3 L630.2 407.4 L631.7 408.4 L633.2 409.4 L634.8 410.3" fill="none" stroke="#7cc266" stroke-width="1.2" stroke-opacity="0.3"/>
<path d="M592.7 337.4 L594.2 338.8 L595.7 340.3 L597.3 342.1 L598.8 344.1 L600.4 346.6 L601.9 349.4 L603.5 352.6 L605 356.2 L606.5 360.2 L608.1 364.5 L609.6 368.9 L611.2 373.2 L612.7 377.5 L614.3 381.4 L615.8 385 L617.3 388.2 L618.9 391 L620.4 393.4 L622 395.6 L623.5 397.4 L625.1 399.1 L626.6 400.5 L628.1 401.9 L629.7 403.1 L631.2 404.2 L632.8 405.3 L634.3 406.3 L635.9 407.2 L637.4 408.2 L639 409.1" fill="none" stroke="#22b0c0" stroke-width="1.2" stroke-opacity="0.3"/>
<path d="M596.8 336.7 L598.4 338.2 L599.9 339.9 L601.5 342 L603 344.3 L604.5 347.1 L606.1 350.2 L607.6 353.8 L609.2 357.7 L610.7 361.9 L612.3 366.3 L613.8 370.7 L615.3 374.9 L616.9 378.9 L618.4 382.5 L620 385.8 L621.5 388.6 L623.1 391.1 L624.6 393.3 L626.1 395.2 L627.7 396.9 L629.2 398.3 L630.8 399.7 L632.3 400.9 L633.9 402.1 L635.4 403.1 L637 404.1 L638.5 405.1 L640 406.1 L641.6 407 L643.1 407.9" fill="none" stroke="#7cc266" stroke-width="1.2" stroke-opacity="0.3"/>
<path d="M601 336.2 L602.5 337.9 L604.1 339.8 L605.6 342.1 L607.2 344.8 L608.7 347.9 L610.3 351.4 L611.8 355.3 L613.3 359.4 L614.9 363.8 L616.4 368.1 L618 372.4 L619.5 376.4 L621.1 380.1 L622.6 383.4 L624.1 386.3 L625.7 388.8 L627.2 391 L628.8 393 L630.3 394.7 L631.9 396.2 L633.4 397.5 L635 398.8 L636.5 399.9 L638 401 L639.6 402 L641.1 403 L642.7 403.9 L644.2 404.9 L645.8 405.8 L647.3 406.7" fill="none" stroke="#22b0c0" stroke-width="1.2" stroke-opacity="0.3"/>
<defs><radialGradient id="bc2" cx="0.5" cy="0.5" r="0.5"><stop offset="0" stop-color="#3e3aa6"/><stop offset="0.45" stop-color="#3a6fd8" stop-opacity="0.9"/><stop offset="1" stop-color="#2bb3c8" stop-opacity="0"/></radialGradient></defs>
<ellipse cx="586" cy="419" rx="20" ry="9" fill="url(#bc2)" transform="rotate(-18 586 419)"/>
</g>
<path d="M538.4 351.6 L540 351.2 L541.5 350.7 L543.1 350.3 L544.7 349.8 L546.2 349.4 L547.8 348.9 L549.4 348.5 L550.9 348 L552.5 347.6 L554 347.1 L555.6 346.7 L557.2 346.2 L558.7 345.8 L560.3 345.3 L561.9 344.9 L563.4 344.5 L565 344 L566.6 343.6 L568.1 343.2 L569.7 342.8 L571.3 342.3 L572.8 341.9 L574.4 341.5 L576 341.1 L577.5 340.7 L579.1 340.4 L580.7 340 L582.2 339.6 L583.8 339.2 L585.4 338.9 L586.9 338.6 L588.5 338.2 L590 337.9 L591.6 337.6 L593.2 337.3 L594.7 337.1 L596.3 336.8 L597.9 336.6 L599.4 336.4 L601 336.2 L602.2 337.4 L603.3 338.8 L604.5 340.4 L605.6 342.1 L606.8 344.1 L607.9 346.3 L609.1 348.7 L610.3 351.4 L611.4 354.3 L612.6 357.3 L613.7 360.5 L614.9 363.8 L616 367.1 L617.2 370.3 L618.4 373.4 L619.5 376.4 L620.7 379.2 L621.8 381.8 L623 384.1 L624.1 386.3 L625.3 388.2 L626.5 390 L627.6 391.5 L628.8 393 L629.9 394.3 L631.1 395.4 L632.3 396.5 L633.4 397.5 L634.6 398.5 L635.7 399.3 L636.9 400.2 L638 401 L639.2 401.8 L640.4 402.5 L641.5 403.2 L642.7 403.9 L643.8 404.6 L645 405.3 L646.1 406 L647.3 406.7 L645.7 407.1 L644.2 407.6 L642.6 408.1 L641 408.5 L639.5 409 L637.9 409.4 L636.3 409.9 L634.8 410.3 L633.2 410.8 L631.6 411.2 L630.1 411.7 L628.5 412.1 L627 412.5 L625.4 413 L623.8 413.4 L622.3 413.8 L620.7 414.2 L619.1 414.7 L617.6 415.1 L616 415.5 L614.4 415.9 L612.9 416.3 L611.3 416.7 L609.7 417 L608.2 417.4 L606.6 417.8 L605 418.1 L603.5 418.4 L601.9 418.8 L600.4 419.1 L598.8 419.4 L597.2 419.7 L595.7 419.9 L594.1 420.2 L592.5 420.4 L591 420.6 L589.4 420.8 L587.8 420.9 L586.3 421.1 L584.7 421.2 L583.5 419.6 L582.4 417.8 L581.2 415.8 L580.1 413.6 L578.9 411.1 L577.8 408.5 L576.6 405.6 L575.4 402.5 L574.3 399.3 L573.1 396 L572 392.6 L570.8 389.3 L569.7 386 L568.5 382.9 L567.3 380 L566.2 377.3 L565 374.8 L563.9 372.6 L562.7 370.5 L561.5 368.7 L560.4 367.1 L559.2 365.7 L558.1 364.4 L556.9 363.2 L555.8 362.1 L554.6 361.2 L553.4 360.3 L552.3 359.4 L551.1 358.6 L550 357.9 L548.8 357.2 L547.7 356.5 L546.5 355.9 L545.3 355.2 L544.2 354.6 L543 354 L541.9 353.4 L540.7 352.8 L539.6 352.2 L538.4 351.6 Z" fill="none" stroke="#1e2a1e" stroke-width="0.8"/>
<text x="536.8" y="347.9" font-size="7.9" text-anchor="end" stroke="#000" stroke-width="0.1">2e3</text>
<text x="536.8" y="402.5" font-size="7.9" text-anchor="end" stroke="#000" stroke-width="0.1">0</text>
<text x="529.8" y="369" font-size="7.9" text-anchor="middle" transform="rotate(-90 529.8 369)" stroke="#000" stroke-width="0.1"><tspan font-style="italic">E</tspan> [MPa]</text>
<text x="543.7" y="412.6" font-size="7.9" text-anchor="middle" stroke="#000" stroke-width="0.1">0</text>
<text x="544.2" y="424.6" font-size="7.9" stroke="#000" stroke-width="0.1"><tspan font-style="italic">T</tspan> [°C]</text>
<text x="578.2" y="431.6" font-size="7.9" text-anchor="middle" stroke="#000" stroke-width="0.1">80</text>
<text x="587.7" y="431.5" font-size="7.9" stroke="#000" stroke-width="0.1">10<tspan font-size="4.8" dy="-3">-6</tspan></text>
<text x="613.2" y="428" font-size="7.9" stroke="#000" stroke-width="0.1"><tspan font-style="italic">t</tspan> [s]</text>
<text x="628.6" y="419.3" font-size="7.9" stroke="#000" stroke-width="0.1">10<tspan font-size="4.8" dy="-3">0</tspan></text>
<path d="M573.4 385.8 L612.5 352.8 L650 352.8" fill="none" stroke="#111" stroke-width="0.7"/>
<path d="M596.4 352.2 L607 364.2 L650 364.2" fill="none" stroke="#111" stroke-width="0.7"/>
<path d="M615 394.4 L643.4 325 L650 325" fill="none" stroke="#111" stroke-width="0.7"/>
<circle cx="596.4" cy="352.2" r="2.8" fill="#2f92dc" stroke="#222" stroke-width="0.4"/>
<circle cx="573.4" cy="385.8" r="2.8" fill="#1eaee0" stroke="#222" stroke-width="0.4"/>
<circle cx="615" cy="394.4" r="2.8" fill="#8cc152" stroke="#333" stroke-width="0.4"/>
<defs><linearGradient id="par2a" x1="0" y1="1" x2="0" y2="0"><stop offset="0" stop-color="#3f86d8"/><stop offset="0.5" stop-color="#1db3c6"/><stop offset="1" stop-color="#3cbb8e"/></linearGradient></defs>
<rect x="649.7" y="323.7" width="10.2" height="42.3" fill="url(#par2a)" stroke="#111" stroke-width="0.7"/>
<defs><linearGradient id="par2b" x1="0" y1="1" x2="0" y2="0"><stop offset="0" stop-color="#3e26a8"/><stop offset="0.1" stop-color="#4852f4"/><stop offset="0.2" stop-color="#2e87f7"/><stop offset="0.4" stop-color="#12b1d6"/><stop offset="0.5" stop-color="#37c897"/><stop offset="0.6" stop-color="#96c45a"/><stop offset="0.8" stop-color="#f5ba3a"/><stop offset="0.9" stop-color="#fcd12e"/><stop offset="1" stop-color="#f9fb14"/></linearGradient></defs>
<rect x="649.7" y="382" width="10.2" height="45.3" fill="url(#par2b)" stroke="#111" stroke-width="0.7"/>
<line x1="658.4" y1="330.7" x2="659.9" y2="330.7" stroke="#000" stroke-width="0.5"/>
<line x1="658.4" y1="338.1" x2="659.9" y2="338.1" stroke="#000" stroke-width="0.5"/>
<line x1="658.4" y1="345.5" x2="659.9" y2="345.5" stroke="#000" stroke-width="0.5"/>
<line x1="658.4" y1="352.8" x2="659.9" y2="352.8" stroke="#000" stroke-width="0.5"/>
<line x1="658.4" y1="359.2" x2="659.9" y2="359.2" stroke="#000" stroke-width="0.5"/>
<line x1="658.4" y1="389.5" x2="659.9" y2="389.5" stroke="#000" stroke-width="0.5"/>
<line x1="658.4" y1="394.8" x2="659.9" y2="394.8" stroke="#000" stroke-width="0.5"/>
<line x1="658.4" y1="400.1" x2="659.9" y2="400.1" stroke="#000" stroke-width="0.5"/>
<line x1="658.4" y1="405.4" x2="659.9" y2="405.4" stroke="#000" stroke-width="0.5"/>
<line x1="658.4" y1="410.7" x2="659.9" y2="410.7" stroke="#000" stroke-width="0.5"/>
<line x1="658.4" y1="416" x2="659.9" y2="416" stroke="#000" stroke-width="0.5"/>
<line x1="658.4" y1="421.3" x2="659.9" y2="421.3" stroke="#000" stroke-width="0.5"/>
<text x="660.5" y="328.2" font-size="7.9" stroke="#000" stroke-width="0.1">0</text>
<text x="660.5" y="348.5" font-size="7.9" stroke="#000" stroke-width="0.1">-30</text>
<text x="660.5" y="369" font-size="7.9" stroke="#000" stroke-width="0.1">-60</text>
<text x="660.5" y="386.8" font-size="7.9" stroke="#000" stroke-width="0.1">80</text>
<text x="660.5" y="402.8" font-size="7.9" stroke="#000" stroke-width="0.1">0</text>
<text x="660.5" y="427" font-size="7.9" stroke="#000" stroke-width="0.1">-120</text>
<text x="649.1" y="320.1" font-size="7.9" stroke="#000" stroke-width="0.1"><tspan font-style="italic">E</tspan><tspan font-size="4.6" dy="1.6">fit</tspan><tspan dy="-1.6">-</tspan><tspan font-style="italic">E</tspan><tspan font-size="4.6" dy="1.6">Req</tspan></text>
<text x="649.1" y="377.5" font-size="7.9" stroke="#000" stroke-width="0.1"><tspan font-style="italic">E</tspan><tspan font-size="4.6" dy="1.6">fit</tspan><tspan dy="-1.6">-</tspan><tspan font-style="italic">E</tspan><tspan font-size="4.6" dy="1.6">NN</tspan></text>
</svg></body></html>
